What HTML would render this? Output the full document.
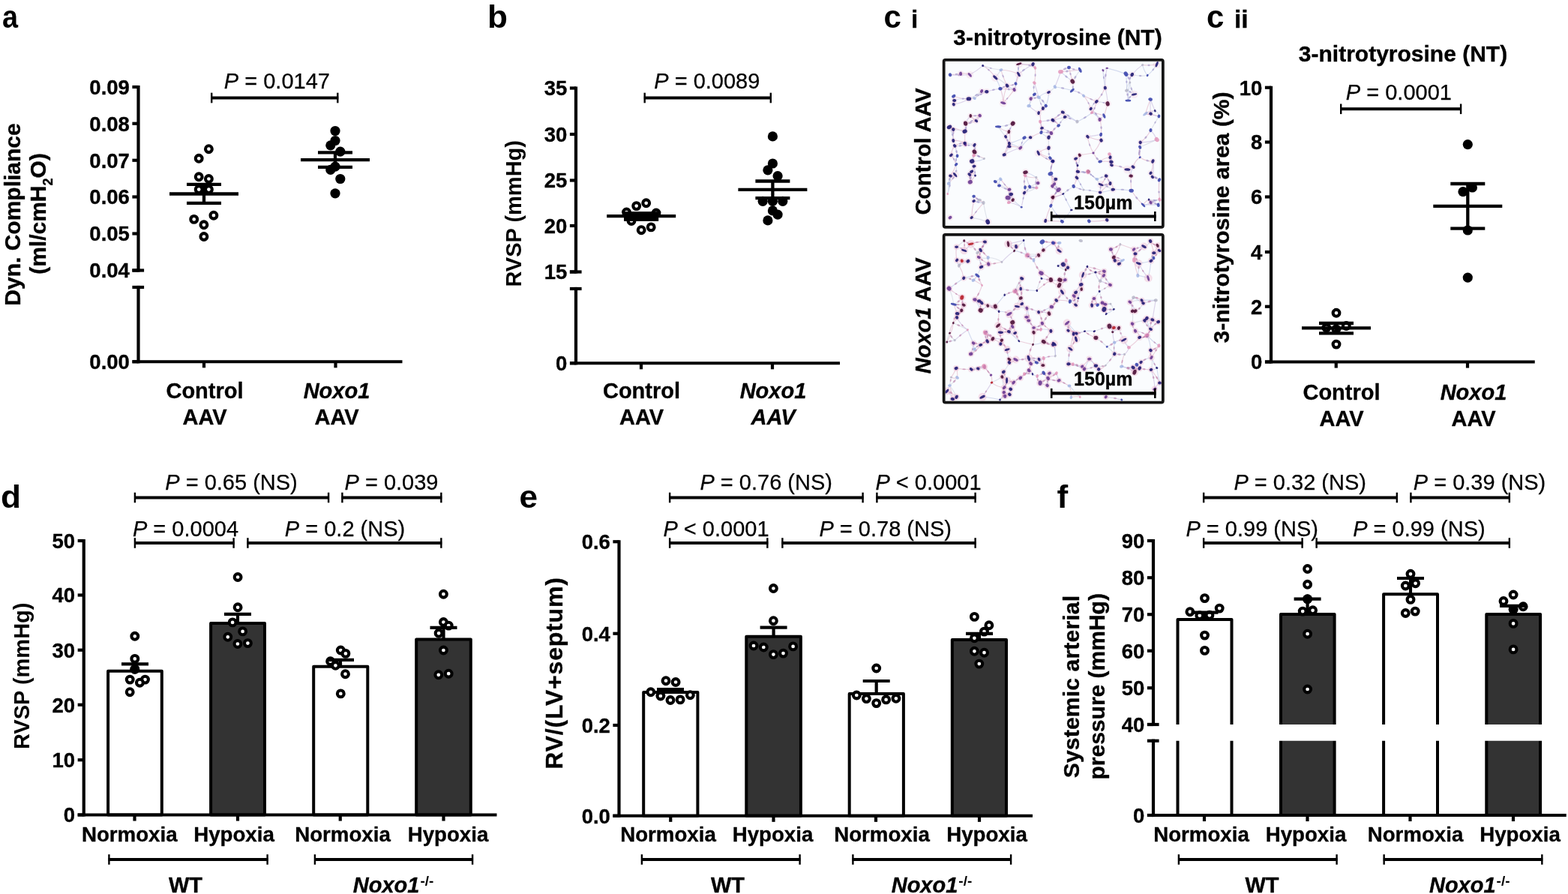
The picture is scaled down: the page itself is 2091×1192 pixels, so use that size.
<!DOCTYPE html>
<html lang="en">
<head>
<meta charset="utf-8">
<title>Figure</title>
<style>
html,body{margin:0;padding:0;background:#fff;}
body{width:2091px;height:1192px;overflow:hidden;}
svg{display:block;font-family:'Liberation Sans', sans-serif;}
text{fill:#000;}
.b{stroke:#000;stroke-width:0.35px;stroke-linejoin:round;}
.r{stroke:#000;stroke-width:0.25px;}
</style>
</head>
<body>
<svg width="2091" height="1192" viewBox="0 0 2091 1192">
<rect x="0" y="0" width="2091" height="1192" fill="#fff"/>
<text transform="translate(3 37) scale(0.9 1)" font-size="42" font-weight="bold" text-anchor="start">a</text>
<text transform="translate(650 37) scale(1.05 1)" font-size="42" font-weight="bold" text-anchor="start">b</text>
<text transform="translate(1178.5 37) scale(1 1)" font-size="42" font-weight="bold" text-anchor="start">c</text>
<text class="b" x="1215" y="37" font-size="33.5" font-weight="bold" text-anchor="start">i</text>
<text transform="translate(1609 37) scale(1 1)" font-size="42" font-weight="bold" text-anchor="start">c</text>
<text class="b" x="1646" y="37" font-size="33.5" font-weight="bold" text-anchor="start">ii</text>
<text transform="translate(1 676.5) scale(1.05 1)" font-size="42" font-weight="bold" text-anchor="start">d</text>
<text transform="translate(692.5 676.5) scale(1.05 1)" font-size="42" font-weight="bold" text-anchor="start">e</text>
<text transform="translate(1409.5 676.5) scale(1.05 1)" font-size="42" font-weight="bold" text-anchor="start">f</text>
<line x1="184.5" y1="113.9" x2="184.5" y2="362.6" stroke="#000" stroke-width="4.2" stroke-linecap="butt"/>
<line x1="184.5" y1="380.9" x2="184.5" y2="484.35" stroke="#000" stroke-width="4.2" stroke-linecap="butt"/>
<line x1="176.4" y1="360.5" x2="192.1" y2="360.5" stroke="#000" stroke-width="4.2" stroke-linecap="butt"/>
<line x1="176.4" y1="383" x2="192.1" y2="383" stroke="#000" stroke-width="4.2" stroke-linecap="butt"/>
<line x1="176.4" y1="116" x2="184.5" y2="116" stroke="#000" stroke-width="4.2" stroke-linecap="butt"/>
<text x="172.9" y="125.84" font-size="27.5" font-weight="bold" font-style="normal" text-anchor="end" class="b">0.09</text>
<line x1="176.4" y1="164.75" x2="184.5" y2="164.75" stroke="#000" stroke-width="4.2" stroke-linecap="butt"/>
<text x="172.9" y="174.59" font-size="27.5" font-weight="bold" font-style="normal" text-anchor="end" class="b">0.08</text>
<line x1="176.4" y1="213.75" x2="184.5" y2="213.75" stroke="#000" stroke-width="4.2" stroke-linecap="butt"/>
<text x="172.9" y="223.59" font-size="27.5" font-weight="bold" font-style="normal" text-anchor="end" class="b">0.07</text>
<line x1="176.4" y1="262.5" x2="184.5" y2="262.5" stroke="#000" stroke-width="4.2" stroke-linecap="butt"/>
<text x="172.9" y="272.35" font-size="27.5" font-weight="bold" font-style="normal" text-anchor="end" class="b">0.06</text>
<line x1="176.4" y1="311.5" x2="184.5" y2="311.5" stroke="#000" stroke-width="4.2" stroke-linecap="butt"/>
<text x="172.9" y="321.35" font-size="27.5" font-weight="bold" font-style="normal" text-anchor="end" class="b">0.05</text>
<line x1="176.4" y1="360.5" x2="184.5" y2="360.5" stroke="#000" stroke-width="4.2" stroke-linecap="butt"/>
<text x="172.9" y="370.35" font-size="27.5" font-weight="bold" font-style="normal" text-anchor="end" class="b">0.04</text>
<line x1="176.4" y1="482.25" x2="184.5" y2="482.25" stroke="#000" stroke-width="4.2" stroke-linecap="butt"/>
<text x="172.9" y="492.1" font-size="27.5" font-weight="bold" font-style="normal" text-anchor="end" class="b">0.00</text>
<line x1="176.5" y1="482.25" x2="536.5" y2="482.25" stroke="#000" stroke-width="4.2" stroke-linecap="butt"/>
<line x1="272" y1="482.25" x2="272" y2="490.35" stroke="#000" stroke-width="4.2" stroke-linecap="butt"/>
<line x1="447.5" y1="482.25" x2="447.5" y2="490.35" stroke="#000" stroke-width="4.2" stroke-linecap="butt"/>
<text x="26.5" y="286" font-size="30" font-weight="bold" font-style="normal" text-anchor="middle" transform="rotate(-90 26.5 286)" class="b">Dyn. Compliance</text>
<text class="b" x="60.5" y="285" font-size="30" font-weight="bold" text-anchor="middle" transform="rotate(-90 60.5 285)">(ml/cmH<tspan font-size="18" dy="9">2</tspan><tspan dy="-9">O)</tspan></text>
<text x="273" y="531" font-size="29" font-weight="bold" font-style="normal" text-anchor="middle" class="b">Control</text>
<text x="273" y="566" font-size="29" font-weight="bold" font-style="normal" text-anchor="middle" class="b">AAV</text>
<text x="449" y="531" font-size="29" font-weight="bold" font-style="italic" text-anchor="middle" class="b">Noxo1</text>
<text x="449" y="566" font-size="29" font-weight="bold" font-style="normal" text-anchor="middle" class="b">AAV</text>
<circle cx="278.4" cy="198.7" r="4.4" fill="#fff" stroke="#000" stroke-width="4.1"/>
<circle cx="265.2" cy="211.3" r="4.4" fill="#fff" stroke="#000" stroke-width="4.1"/>
<circle cx="265.2" cy="235.8" r="4.4" fill="#fff" stroke="#000" stroke-width="4.1"/>
<circle cx="278.4" cy="238.5" r="4.4" fill="#fff" stroke="#000" stroke-width="4.1"/>
<circle cx="265.2" cy="252.6" r="4.4" fill="#fff" stroke="#000" stroke-width="4.1"/>
<circle cx="278.4" cy="252.6" r="4.4" fill="#fff" stroke="#000" stroke-width="4.1"/>
<circle cx="284.9" cy="287.2" r="4.4" fill="#fff" stroke="#000" stroke-width="4.1"/>
<circle cx="258.7" cy="292.4" r="4.4" fill="#fff" stroke="#000" stroke-width="4.1"/>
<circle cx="271.9" cy="299.8" r="4.4" fill="#fff" stroke="#000" stroke-width="4.1"/>
<circle cx="271.9" cy="315.5" r="4.4" fill="#fff" stroke="#000" stroke-width="4.1"/>
<line x1="226" y1="258.5" x2="318" y2="258.5" stroke="#000" stroke-width="4.3" stroke-linecap="butt"/>
<line x1="249" y1="245.9" x2="295" y2="245.9" stroke="#000" stroke-width="4.3" stroke-linecap="butt"/>
<line x1="249" y1="270.8" x2="295" y2="270.8" stroke="#000" stroke-width="4.3" stroke-linecap="butt"/>
<line x1="272" y1="245.9" x2="272" y2="270.8" stroke="#000" stroke-width="4.3" stroke-linecap="butt"/>
<line x1="401" y1="213.1" x2="493" y2="213.1" stroke="#000" stroke-width="4.3" stroke-linecap="butt"/>
<line x1="424" y1="203.3" x2="470" y2="203.3" stroke="#000" stroke-width="4.3" stroke-linecap="butt"/>
<line x1="424" y1="222.8" x2="470" y2="222.8" stroke="#000" stroke-width="4.3" stroke-linecap="butt"/>
<line x1="447" y1="203.3" x2="447" y2="222.8" stroke="#000" stroke-width="4.3" stroke-linecap="butt"/>
<circle cx="447" cy="174.5" r="6.6" fill="#000"/>
<circle cx="447" cy="187.5" r="6.6" fill="#000"/>
<circle cx="440.8" cy="193.8" r="6.6" fill="#000"/>
<circle cx="453.8" cy="202.2" r="6.6" fill="#000"/>
<circle cx="447" cy="222.2" r="6.6" fill="#000"/>
<circle cx="440.8" cy="226.4" r="6.6" fill="#000"/>
<circle cx="453.8" cy="238.5" r="6.6" fill="#000"/>
<circle cx="447" cy="257.8" r="6.6" fill="#000"/>
<line x1="281.3" y1="130.5" x2="451.2" y2="130.5" stroke="#000" stroke-width="4" stroke-linecap="butt"/>
<line x1="282.2" y1="123.7" x2="282.2" y2="137.3" stroke="#000" stroke-width="2.4" stroke-linecap="butt"/>
<line x1="450.3" y1="123.7" x2="450.3" y2="137.3" stroke="#000" stroke-width="2.4" stroke-linecap="butt"/>
<text class="r" x="369.4" y="117.5" font-size="29" font-weight="normal" text-anchor="middle" xml:space="preserve"><tspan font-style="italic">P</tspan> = 0.0147</text>
<line x1="768" y1="115.4" x2="768" y2="364.6" stroke="#000" stroke-width="4.2" stroke-linecap="butt"/>
<line x1="768" y1="382.9" x2="768" y2="486.35" stroke="#000" stroke-width="4.2" stroke-linecap="butt"/>
<line x1="759.9" y1="362.5" x2="775.6" y2="362.5" stroke="#000" stroke-width="4.2" stroke-linecap="butt"/>
<line x1="759.9" y1="385" x2="775.6" y2="385" stroke="#000" stroke-width="4.2" stroke-linecap="butt"/>
<line x1="759.9" y1="117.5" x2="768" y2="117.5" stroke="#000" stroke-width="4.2" stroke-linecap="butt"/>
<text x="756.4" y="127.34" font-size="27.5" font-weight="bold" font-style="normal" text-anchor="end" class="b">35</text>
<line x1="759.9" y1="179" x2="768" y2="179" stroke="#000" stroke-width="4.2" stroke-linecap="butt"/>
<text x="756.4" y="188.84" font-size="27.5" font-weight="bold" font-style="normal" text-anchor="end" class="b">30</text>
<line x1="759.9" y1="240.5" x2="768" y2="240.5" stroke="#000" stroke-width="4.2" stroke-linecap="butt"/>
<text x="756.4" y="250.34" font-size="27.5" font-weight="bold" font-style="normal" text-anchor="end" class="b">25</text>
<line x1="759.9" y1="301" x2="768" y2="301" stroke="#000" stroke-width="4.2" stroke-linecap="butt"/>
<text x="756.4" y="310.85" font-size="27.5" font-weight="bold" font-style="normal" text-anchor="end" class="b">20</text>
<line x1="759.9" y1="362.5" x2="768" y2="362.5" stroke="#000" stroke-width="4.2" stroke-linecap="butt"/>
<text x="756.4" y="372.35" font-size="27.5" font-weight="bold" font-style="normal" text-anchor="end" class="b">15</text>
<line x1="759.9" y1="484.25" x2="768" y2="484.25" stroke="#000" stroke-width="4.2" stroke-linecap="butt"/>
<text x="756.4" y="494.1" font-size="27.5" font-weight="bold" font-style="normal" text-anchor="end" class="b">0</text>
<line x1="760" y1="484.25" x2="1120" y2="484.25" stroke="#000" stroke-width="4.2" stroke-linecap="butt"/>
<line x1="855" y1="484.25" x2="855" y2="492.35" stroke="#000" stroke-width="4.2" stroke-linecap="butt"/>
<line x1="1030" y1="484.25" x2="1030" y2="492.35" stroke="#000" stroke-width="4.2" stroke-linecap="butt"/>
<text x="695.3" y="284.8" font-size="29" font-weight="bold" font-style="normal" text-anchor="middle" transform="rotate(-90 695.3 284.8)" class="n">RVSP (mmHg)</text>
<text x="855.5" y="531" font-size="29" font-weight="bold" font-style="normal" text-anchor="middle" class="b">Control</text>
<text x="855.5" y="566" font-size="29" font-weight="bold" font-style="normal" text-anchor="middle" class="b">AAV</text>
<text x="1031" y="531" font-size="29" font-weight="bold" font-style="italic" text-anchor="middle" class="b">Noxo1</text>
<text x="1031" y="566" font-size="29" font-weight="bold" font-style="italic" text-anchor="middle" class="b">AAV</text>
<circle cx="861.7" cy="270.8" r="4.4" fill="#fff" stroke="#000" stroke-width="4.1"/>
<circle cx="848.7" cy="274.6" r="4.4" fill="#fff" stroke="#000" stroke-width="4.1"/>
<circle cx="835.5" cy="283" r="4.4" fill="#fff" stroke="#000" stroke-width="4.1"/>
<circle cx="875" cy="284" r="4.4" fill="#fff" stroke="#000" stroke-width="4.1"/>
<circle cx="842" cy="294.5" r="4.4" fill="#fff" stroke="#000" stroke-width="4.1"/>
<circle cx="868.2" cy="302.9" r="4.4" fill="#fff" stroke="#000" stroke-width="4.1"/>
<circle cx="855.2" cy="306.7" r="4.4" fill="#fff" stroke="#000" stroke-width="4.1"/>
<line x1="809.2" y1="288.2" x2="901.2" y2="288.2" stroke="#000" stroke-width="4.3" stroke-linecap="butt"/>
<line x1="832.2" y1="284.5" x2="878.2" y2="284.5" stroke="#000" stroke-width="4.3" stroke-linecap="butt"/>
<line x1="832.2" y1="292.5" x2="878.2" y2="292.5" stroke="#000" stroke-width="4.3" stroke-linecap="butt"/>
<line x1="855.2" y1="284.5" x2="855.2" y2="292.5" stroke="#000" stroke-width="4.3" stroke-linecap="butt"/>
<rect x="832" y="282.5" width="46" height="12" fill="#000"/>
<line x1="984.4" y1="252.8" x2="1076.4" y2="252.8" stroke="#000" stroke-width="4.3" stroke-linecap="butt"/>
<line x1="1007.4" y1="241.5" x2="1053.4" y2="241.5" stroke="#000" stroke-width="4.3" stroke-linecap="butt"/>
<line x1="1007.4" y1="264.1" x2="1053.4" y2="264.1" stroke="#000" stroke-width="4.3" stroke-linecap="butt"/>
<line x1="1030.4" y1="241.5" x2="1030.4" y2="264.1" stroke="#000" stroke-width="4.3" stroke-linecap="butt"/>
<circle cx="1030.4" cy="181.9" r="6.6" fill="#000"/>
<circle cx="1030.4" cy="218" r="6.6" fill="#000"/>
<circle cx="1023.9" cy="226.8" r="6.6" fill="#000"/>
<circle cx="1037.1" cy="234.7" r="6.6" fill="#000"/>
<circle cx="1017.2" cy="268.3" r="6.6" fill="#000"/>
<circle cx="1030.4" cy="268.3" r="6.6" fill="#000"/>
<circle cx="1043.8" cy="268.3" r="6.6" fill="#000"/>
<circle cx="1030.4" cy="280.9" r="6.6" fill="#000"/>
<circle cx="1037.1" cy="286.1" r="6.6" fill="#000"/>
<circle cx="1023.9" cy="293.9" r="6.6" fill="#000"/>
<line x1="858.8" y1="130.5" x2="1028.7" y2="130.5" stroke="#000" stroke-width="4" stroke-linecap="butt"/>
<line x1="859.7" y1="123.7" x2="859.7" y2="137.3" stroke="#000" stroke-width="2.4" stroke-linecap="butt"/>
<line x1="1027.8" y1="123.7" x2="1027.8" y2="137.3" stroke="#000" stroke-width="2.4" stroke-linecap="butt"/>
<text class="r" x="942.8" y="117.5" font-size="29" font-weight="normal" text-anchor="middle" xml:space="preserve"><tspan font-style="italic">P</tspan> = 0.0089</text>
<text x="1410.5" y="60" font-size="30" font-weight="bold" font-style="normal" text-anchor="middle" class="b">3-nitrotyrosine (NT)</text>
<text x="1241.3" y="202" font-size="29" font-weight="bold" font-style="normal" text-anchor="middle" transform="rotate(-90 1241.3 202)" class="b">Control AAV</text>
<text class="b" x="1241.3" y="420.8" font-size="29" font-weight="bold" text-anchor="middle" transform="rotate(-90 1241.3 420.8)"><tspan font-style="italic">Noxo1</tspan> AAV</text>
<defs><filter id="hb" x="-5%" y="-5%" width="110%" height="110%"><feGaussianBlur stdDeviation="0.45"/></filter></defs>
<clipPath id="hc1"><rect x="1260.55" y="81.8" width="288.4" height="219.15"/></clipPath>
<rect x="1259.55" y="80.8" width="290.4" height="221.15" fill="#fafcfe"/>
<g clip-path="url(#hc1)" filter="url(#hb)">
<path d="M1267 99.8Q1273.8 99.3 1281.1 98.3M1281.1 98.3Q1288.2 96.8 1293.3 99.8M1334.9 93.3Q1338.5 105.5 1343.1 114.2M1334.9 93.3Q1348.8 93.9 1358.4 99M1358.4 99Q1356.5 106.9 1352.6 119.6M1377.5 85.7Q1377.3 88.3 1380.4 90.4M1377.5 85.7Q1370.6 86.8 1358.8 85.2M1354.5 111.5Q1349.3 114.5 1343.1 114.2M1343.1 114.2Q1339 115.5 1334 118.2M1271.8 128.2Q1270.4 130.4 1272.7 134M1271.8 128.2Q1282.3 132.1 1291.9 131.8M1291.9 131.8Q1297.8 130.7 1299.5 131.1M1337.8 137.3Q1345.6 129.1 1352.6 119.6M1337.8 137.3Q1338.5 124.5 1343.1 114.2M1374.6 131.6Q1377.5 131.1 1385.1 129.7M1266 169.4Q1266.8 169.7 1271.3 172.7M1266 169.4Q1274 171.4 1286.6 175.1M1286.6 175.1Q1286.7 183.9 1286.6 190.9M1345.4 175.6Q1343.5 176.6 1341.1 182.3M1341.1 182.3Q1341.4 187 1345.9 191.4M1374.1 183.2Q1380 179.9 1388.5 176.5M1286.6 190.9Q1279 190.6 1273.2 194.4M1380.4 90.4Q1381.3 102.1 1379.4 110.5M1414.5 95.7Q1417.8 92 1425.5 90M1425.5 90Q1427.9 100.6 1430.3 108.6M1445.1 127.7Q1451.5 130.6 1462.3 135.4M1445.1 127.7Q1451.9 136 1454.7 145M1534.1 132.5Q1531 140.5 1527.4 151.7M1477.1 138.3Q1474.4 147.5 1472.4 154.5M1454.7 145Q1455.5 148.9 1456.1 150.2M1417.3 149.7Q1420.3 154.5 1420.2 156M1404 160.3Q1409 161.4 1411.6 167.4M1472.4 154.5Q1462.8 150.6 1456.1 150.2M1527.4 151.7Q1532.5 147.3 1540.3 147.8M1527.4 151.7Q1536.2 152.1 1545.5 155M1468.1 179.4Q1466.8 184.1 1468.5 187.1M1468.1 179.4Q1469.7 168.4 1466.6 159.3M1450.4 182.3Q1451.7 192.5 1458 204M1295.7 228.8Q1298.9 232.7 1300.5 234.1M1292.8 232.7Q1293.1 235.9 1293.8 242.7M1267.5 234.6Q1272.6 226.8 1275.1 219.3M1273.7 233.1Q1271.2 238.4 1265.1 244.6M1312.4 211.6Q1307.4 208.2 1298.6 207.3M1360.8 197.3Q1351 194.7 1345.9 195.3M1384.7 204Q1390.3 199.6 1398.5 197.3M1384.7 204Q1391.6 207.3 1400.5 210.7M1403.8 215Q1406.2 216.4 1404 215M1367 234.1Q1372.3 237.7 1381.8 236.5M1384.2 244.1Q1385 239.4 1381.8 236.5M1327.3 242.2Q1331.3 246.2 1332.5 247.5M1295.7 290.1Q1302.6 280.8 1311.5 270.4M1434.6 211.6Q1438.8 211.2 1439.8 206.8M1434.6 211.6Q1436.6 219.8 1437.4 228.8M1439.8 206.8Q1447.8 205.4 1458 204M1436 237Q1435.5 229.9 1437 220.7M1411.6 253.2Q1413 257.7 1417.8 258.5M1404.4 263.3Q1406.8 258.3 1411.6 253.2M1417.8 258.5Q1412.5 261 1403.8 262.8M1467.1 215.4Q1472.1 210.4 1480.5 209.7M1467.1 215.4Q1476.2 214.6 1481.9 215.9M1481.9 215.9Q1480.1 216.5 1482.4 220.2M1475.2 234.6Q1479.3 242.1 1480.5 244.6M1468.1 246.1Q1473 247.5 1480.5 244.6M1480.5 244.6Q1484.8 246.7 1484.3 252.7M1520.2 196.3Q1517.7 203 1520.2 209.7M1520.2 209.7Q1526.8 214.8 1537.4 215M1511.1 222.6Q1507.4 221.8 1503.4 226M1503.4 226Q1495.1 221.2 1482.4 220.2M1536.9 236Q1543.3 236.1 1546 239.8M1532.1 266.1Q1531.9 267 1534.5 270" fill="none" stroke="#e2b6c8" stroke-width="1.15" stroke-opacity=".6"/>
<path d="M1267 99.8Q1280 100.4 1293.3 99.8M1293.3 99.8Q1302.8 94.3 1310.7 87.6M1358.4 99Q1355.9 103.1 1354.5 111.5M1377.5 85.7Q1366 92 1358.4 99M1358.8 85.2Q1372.1 85.4 1380.4 90.4M1334 118.2Q1326.5 118.9 1315.8 122.2M1315.8 122.2Q1305.5 126.2 1299.5 131.1M1271.8 139.2Q1283 137.5 1291.9 131.8M1372.2 141.1Q1376.8 145.8 1385.1 150.7M1394.7 141.1Q1391.6 144.6 1385.1 150.7M1294.3 154.5Q1289.4 159.4 1287.6 164.6M1306.7 154.1Q1304.4 158.2 1301.9 161.2M1287.6 164.6Q1289.3 169.7 1286.6 175.1M1350.7 164.6Q1348.6 169.1 1345.4 175.6M1350.7 164.6Q1346 173.8 1341.1 182.3M1341.1 182.3Q1345 188.3 1345.9 195.3M1389.5 170.8Q1387.8 166.6 1387.1 162.2M1389.5 170.8Q1397.5 174.3 1401.9 177.5M1388.5 176.5Q1394.3 176.1 1401.9 177.5M1403.3 159.8Q1397.2 160.9 1387.1 162.2M1379.4 110.5Q1381.9 118.5 1385.1 129.7M1414.5 95.7Q1410.1 108.2 1406.8 115.8M1429.8 120.6Q1438.7 121.8 1445.1 127.7M1473.8 117.2Q1477 129.8 1477.1 138.3M1476.2 90.9Q1473.2 103 1473.8 117.2M1501.5 98.6Q1506.7 100 1509.7 99.5M1501.5 98.6Q1505.4 102.8 1506.8 110M1509.7 99.5Q1506.1 102.7 1506.8 110M1509.7 99.5Q1515.2 92.3 1523.5 86.6M1502.5 120.6Q1503.9 126.2 1504.4 134M1534.1 132.5Q1536.7 139.6 1540.3 147.8M1534.1 132.5Q1533.6 141.5 1534.5 151.7M1454.7 145Q1462.2 151.3 1466.6 159.3M1417.3 149.7Q1409.9 154.4 1403.3 159.8M1420.2 156Q1410.2 158.9 1404 160.3M1436.5 162.2Q1426 157.1 1420.2 156M1472.4 154.5Q1470.8 154.9 1466.6 159.3M1534.5 151.7Q1542.1 154.9 1545.5 155M1534.5 173.7Q1539 178.3 1542.7 186.1M1468.1 179.4Q1459.4 181 1450.4 182.3M1542.7 186.1Q1534.1 189.5 1520.7 189.9M1273.2 194.4Q1275.4 199 1276.6 207.8M1299.5 202.5Q1298.8 205.2 1298.6 207.3M1298.6 207.3Q1298.3 200.4 1299.5 193.4M1296.2 215Q1299.6 217.5 1299 221.7M1299 221.7Q1300.1 229.5 1300.5 234.1M1295.7 228.8Q1295.7 232.9 1292.8 232.7M1292.8 232.7Q1297.4 234.7 1300.5 234.1M1267.5 234.6Q1268.3 234.7 1273.7 233.1M1339.2 206.3Q1342.2 202.4 1345.9 195.3M1339.2 206.3Q1352.2 199.3 1360.8 197.3M1400.5 210.7Q1401.1 212.4 1404 215M1403.8 215Q1401 222.4 1400.9 231.7M1367.5 229.8Q1368.7 238 1373.2 248.9M1400.9 231.7Q1402.3 234.2 1407.8 238.9M1382.3 250.4Q1377.9 250.1 1373.2 248.9M1382.3 250.4Q1380.8 244.5 1381.8 236.5M1367 249.9Q1368.4 251.9 1366 257.1M1332.5 247.5Q1340.2 252.4 1345.9 252.7M1348.3 259Q1351.7 264.9 1350.7 266.6M1350.7 266.6Q1346.5 270.1 1345.4 270M1298.6 261.8Q1302.3 264.9 1306.2 266.6M1362.2 276.2Q1354.6 271.3 1345.4 270M1362.2 276.2Q1364.3 266.4 1366 257.1M1403.3 248.4Q1403.2 249.1 1405.9 245.6M1403.3 248.4Q1405.8 251.7 1411.6 253.2M1439.8 206.8Q1440.7 213.2 1437 220.7M1437 220.7Q1435.4 223.2 1437.4 228.8M1431.7 248.4Q1440.7 252.5 1445.1 253.2M1417.8 258.5Q1409.5 262.7 1404.4 263.3M1451.3 228.8Q1446.6 231.2 1437.4 228.8M1451.3 228.8Q1456.5 234.8 1462.8 238.9M1479.5 205.4Q1481.7 210.9 1481.9 215.9M1479.5 205.4Q1482.9 212.5 1482.4 220.2M1480.5 209.7Q1481.8 211.7 1481.9 215.9M1468.1 246.1Q1467.6 248.9 1467.1 256.6M1537.4 215Q1539.4 224.6 1536.9 236M1524.5 273.3Q1529.8 273.7 1534.5 270M1534.5 270Q1539.7 270.7 1544.6 273.3M1544.6 273.3Q1536.9 268.3 1532.1 266.1" fill="none" stroke="#c8b9de" stroke-width="1.15" stroke-opacity=".6"/>
<path d="M1310.7 87.6Q1320.7 93.3 1327.3 103.4M1352.6 119.6Q1342.7 118.8 1334 118.2M1272.7 134Q1273.3 138.9 1271.8 139.2M1337.8 137.3Q1337.7 127.3 1334 118.2M1379.4 125.8Q1383.1 127.7 1385.1 129.7M1390.9 144.5Q1385.7 149.5 1385.1 150.7M1385.1 150.7Q1388.5 154.5 1387.1 162.2M1294.3 154.5Q1298.9 159.4 1301.9 161.2M1294.3 154.5Q1301.8 154.5 1306.7 154.1M1306.7 154.1Q1298.6 161.3 1287.6 164.6M1301.9 161.2Q1293.2 164.8 1287.6 164.6M1271.3 172.7Q1271.2 177.8 1271.3 187.5M1331.1 168.9Q1338.2 174.5 1345.4 175.6M1345.4 175.6Q1348.1 181.6 1345.9 191.4M1389.5 170.8Q1390 175.6 1388.5 176.5M1401.9 177.5Q1404.9 172 1411.6 167.4M1403.3 159.8Q1408.4 162.1 1411.6 167.4M1387.1 162.2Q1389.9 167.3 1388.5 176.5M1271.3 187.5Q1279.5 186.8 1286.6 190.9M1345.9 191.4Q1347.2 192.3 1345.9 195.3M1425.5 90Q1434.2 94 1440.3 93.3M1440.3 93.3Q1425.3 95 1414.5 95.7M1473.8 117.2Q1469.6 126.8 1462.3 135.4M1462.3 135.4Q1460.4 144.8 1456.1 150.2M1417.3 149.7Q1411.4 155.1 1404 160.3M1527.4 151.7Q1532.4 153 1534.5 151.7M1534.5 173.7Q1529.3 183.4 1520.7 189.9M1468.5 187.1Q1458.7 185.6 1450.4 182.3M1468.5 187.1Q1464.1 196.7 1458 204M1520.7 189.9Q1519.2 198.3 1520.2 209.7M1542.7 85.7Q1532.3 87.8 1523.5 86.6M1273.2 194.4Q1269.2 199.1 1268.4 206.8M1268.4 206.8Q1272.4 211.5 1275.1 219.3M1300.5 234.1Q1295.9 240.6 1293.8 242.7M1293.8 242.7Q1294.8 235.4 1295.7 228.8M1339.2 206.3Q1342.2 197 1345.9 191.4M1384.7 204Q1392.8 211.3 1403.8 215M1367 234.1Q1364.8 244 1367 249.9M1400.9 231.7Q1405.4 241.1 1405.9 245.6M1400.9 231.7Q1404.2 240.5 1403.3 248.4M1367 249.9Q1368.9 247.9 1373.2 248.9M1334.4 238.9Q1340 247 1345.9 252.7M1345.9 252.7Q1347.4 255.7 1348.3 259M1344 263.7Q1344.2 267.6 1345.4 270M1298.6 261.8Q1303.6 265.6 1311.5 270.4M1306.2 266.6Q1307 267.2 1311.5 270.4M1295.7 290.1Q1296.2 278.5 1298.6 268.1M1394.2 294.4Q1397.1 282.9 1401.4 274.3M1394.2 294.4Q1406.6 294.8 1416.4 295.3M1401.4 274.3Q1405.3 267.8 1404.4 263.3M1401.4 274.3Q1401.2 269.5 1403.8 262.8M1403.8 262.8Q1407.3 257.5 1411.6 253.2M1404 215Q1401.6 222.1 1400.9 231.7M1434.6 211.6Q1435 218.1 1437 220.7M1436 237Q1435.3 241.5 1431.7 248.4M1407.8 238.9Q1408.9 243.4 1405.9 245.6M1458 204Q1461.5 210.9 1467.1 215.4M1475.2 234.6Q1473.2 240.7 1468.1 246.1M1467.1 256.6Q1473.5 249.7 1480.5 244.6M1520.2 209.7Q1513.3 214.5 1511.1 222.6M1537.4 215Q1537.9 224.4 1534.5 230.7M1508.2 234.6Q1507.8 244.6 1508.7 254.2M1546 239.8Q1544.5 251.1 1546.5 266.1M1508.7 254.2Q1515.5 264.5 1524.5 273.3M1524.5 273.3Q1526.2 269.7 1532.1 266.1M1452.3 294.8Q1462.3 296 1476.2 293.4" fill="none" stroke="#dcaec6" stroke-width="1.15" stroke-opacity=".6"/>
<path d="M1310.7 87.6Q1322.5 92.1 1334.9 93.3M1327.3 103.4Q1331.9 97.9 1334.9 93.3M1327.3 103.4Q1335.2 106.4 1343.1 114.2M1309.1 121.5Q1306.3 126.3 1299.5 131.1M1309.1 121.5Q1300.8 128.4 1291.9 131.8M1271.8 128.2Q1272.6 134.7 1271.8 139.2M1374.6 131.6Q1376.5 129.9 1379.4 125.8M1374.6 131.6Q1373.2 136.6 1372.2 141.1M1379.4 125.8Q1377.6 118.7 1379.4 110.5M1398.5 123Q1404.6 118.8 1406.8 115.8M1390.9 144.5Q1386.9 136.3 1385.1 129.7M1271.3 172.7Q1281 173.8 1286.6 175.1M1331.1 168.9Q1335.8 175.9 1341.1 182.3M1331.1 168.9Q1341 168.4 1350.7 164.6M1398.5 183.2Q1398.2 192.5 1398.5 197.3M1286.6 190.9Q1291.5 190.5 1299.5 193.4M1440.3 93.3Q1435.5 100.5 1430.3 108.6M1430.3 108.6Q1431.8 114.8 1429.8 120.6M1470.9 93.8Q1474 91.9 1476.2 90.9M1506.8 110Q1502.5 113.4 1502.5 120.6M1512.5 125.8Q1506.4 127.8 1504.4 134M1512.5 125.8Q1507.2 117 1506.8 110M1530.2 100.5Q1519.5 102.2 1509.7 99.5M1462.3 135.4Q1457.4 137.8 1454.7 145M1462.3 135.4Q1471.4 136.4 1477.1 138.3M1420.2 156Q1415 161.2 1411.6 167.4M1540.3 147.8Q1545.4 150.3 1545.5 155M1534.5 173.7Q1541 162.3 1545.5 155M1542.7 186.1Q1529.7 191.8 1520.2 196.3M1520.7 189.9Q1522.7 194.4 1520.2 196.3M1287.1 192.5Q1292.5 194.6 1299.5 193.4M1287.1 192.5Q1280.1 195.5 1273.2 194.4M1299.5 193.4Q1301 198.8 1299.5 202.5M1299.5 202.5Q1299.3 210.4 1296.2 215M1268.4 206.8Q1273.5 209.5 1276.6 207.8M1275.1 219.3Q1276.4 226.4 1273.7 233.1M1312.4 211.6Q1304 209.1 1299.5 202.5M1398.5 197.3Q1397.9 205.9 1400.5 210.7M1367.5 229.8Q1366.1 233.5 1367 234.1M1384.2 244.1Q1383.2 245.6 1382.3 250.4M1384.2 244.1Q1378.8 246.6 1373.2 248.9M1367 249.9Q1375.2 251.6 1382.3 250.4M1373.2 248.9Q1371.6 253.3 1366 257.1M1366 257.1Q1373.8 254.7 1382.3 250.4M1327.3 242.2Q1336.6 248.3 1345.9 252.7M1345.9 252.7Q1345.9 259.3 1344 263.7M1344 263.7Q1347.7 267.2 1350.7 266.6M1298.6 268.1Q1302.5 268.5 1306.2 266.6M1295.7 290.1Q1305.9 291.7 1317.2 295.8M1317.2 295.8Q1313.4 282.7 1311.5 270.4M1403.3 248.4Q1405.4 242.4 1407.8 238.9M1437.4 228.8Q1435.3 233 1436 237M1437.4 228.8Q1441.7 229.3 1450.8 229.3M1431.7 248.4Q1424.3 252.8 1417.8 258.5M1479.5 205.4Q1479.6 205.8 1480.5 209.7M1480.5 209.7Q1480 215.2 1482.4 220.2M1475.2 234.6Q1466.8 237 1462.8 238.9M1462.8 238.9Q1463.3 241.8 1468.1 246.1M1484.3 252.7Q1477.2 248.2 1468.1 246.1M1503.4 226Q1507.6 230.9 1508.2 234.6M1534.5 230.7Q1540.1 237.8 1546 239.8M1532.1 266.1Q1538.8 267.9 1546.5 266.1M1546.5 266.1Q1539.3 267.3 1534.5 270" fill="none" stroke="#cfd2e0" stroke-width="1.15" stroke-opacity=".6"/>
<path d="M1327.3 103.4Q1332.3 111.8 1334 118.2M1358.4 99Q1357.5 90 1358.8 85.2M1354.5 111.5Q1356 114.1 1352.6 119.6M1343.1 114.2Q1347.3 117.5 1352.6 119.6M1309.1 121.5Q1311.1 122.9 1315.8 122.2M1272.7 134Q1280.2 130.7 1291.9 131.8M1385.1 129.7Q1391.9 134.5 1394.7 141.1M1398.5 123Q1390.4 124.5 1385.1 129.7M1398.5 123Q1398.4 133.1 1394.7 141.1M1372.2 141.1Q1375.2 133.6 1379.4 125.8M1390.9 144.5Q1394.5 143.4 1394.7 141.1M1266 169.4Q1271.1 178.6 1271.3 187.5M1366 183.7Q1372.1 183.4 1374.1 183.2M1366 183.7Q1363 188.1 1360.8 197.3M1366 183.7Q1354.6 188.5 1345.9 191.4M1374.1 183.2Q1365.6 190.3 1360.8 197.3M1388.5 176.5Q1392.2 181.1 1398.5 183.2M1398.5 183.2Q1398.9 181.5 1401.9 177.5M1403.3 159.8Q1402.9 161.1 1404 160.3M1271.3 187.5Q1271.7 190.6 1273.2 194.4M1286.6 190.9Q1285.3 191.5 1287.1 192.5M1414.5 95.7Q1420.1 101 1430.3 108.6M1406.8 115.8Q1418.8 117.5 1429.8 120.6M1473.8 117.2Q1471.6 103.8 1470.9 93.8M1476.2 90.9Q1489.5 94 1501.5 98.6M1501.5 98.6Q1502.7 107.1 1502.5 120.6M1502.5 120.6Q1508.9 122.9 1512.5 125.8M1504.4 134Q1504.5 120.2 1506.8 110M1530.2 100.5Q1526 95.6 1523.5 86.6M1530.2 100.5Q1536.8 95.2 1542.7 85.7M1456.1 150.2Q1463.4 154.3 1466.6 159.3M1436.5 162.2Q1427 155.7 1417.3 149.7M1436.5 162.2Q1448.5 156.5 1456.1 150.2M1534.5 151.7Q1535.7 148 1540.3 147.8M1298.6 207.3Q1296.1 211.3 1296.2 215M1276.6 207.8Q1273.8 215.4 1275.1 219.3M1299 221.7Q1299 224.2 1295.7 228.8M1267.5 234.6Q1266.3 237.6 1265.1 244.6M1265.1 244.6Q1265.5 252 1263.7 258.5M1312.4 211.6Q1306.4 215.6 1296.2 215M1360.8 197.3Q1354.9 193.8 1345.9 191.4M1400.5 210.7Q1399.9 210.8 1403.8 215M1367.5 229.8Q1375.1 231.8 1381.8 236.5M1327.3 242.2Q1332.5 238.9 1334.4 238.9M1332.5 247.5Q1331.3 242.7 1334.4 238.9M1348.3 259Q1346 263.5 1344 263.7M1345.4 270Q1348.3 263 1348.3 259M1298.6 261.8Q1298.1 265.4 1298.6 268.1M1298.6 268.1Q1307.1 270.3 1311.5 270.4M1362.2 276.2Q1356.5 271.6 1350.7 266.6M1403.8 262.8Q1406 261.7 1404.4 263.3M1263.7 258.5Q1267.6 248.6 1267.5 234.6M1405.9 245.6Q1410.3 251.3 1411.6 253.2M1450.8 229.3Q1449.2 230.3 1451.3 228.8M1450.8 229.3Q1454.9 233.5 1462.8 238.9M1484.3 252.7Q1475.1 255.4 1467.1 256.6M1445.1 253.2Q1439.7 243.1 1436 237M1445.1 253.2Q1455.1 253.4 1467.1 256.6M1511.1 222.6Q1507.4 229.2 1508.2 234.6M1534.5 230.7Q1536.2 233.8 1536.9 236M1508.7 254.2Q1497.6 252.2 1484.3 252.7M1524.5 273.3Q1532.9 272.5 1544.6 273.3M1544.6 273.3Q1546.5 271.5 1546.5 266.1M1428.8 280Q1423.8 287 1416.4 295.3M1428.8 280Q1421.8 267.1 1417.8 258.5M1416.4 295.3Q1408.9 287 1401.4 274.3" fill="none" stroke="#bcc6e6" stroke-width="1.15" stroke-opacity=".6"/>
<g fill="#8d7fc0" fill-opacity=".5"><ellipse rx="1.7" ry="1.3" transform="translate(1275.4 99)rotate(-6)"/><ellipse rx="1.6" ry="1.3" transform="translate(1278.5 100.1)rotate(0)"/><ellipse rx="1.5" ry="1.1" transform="translate(1318.5 93.2)rotate(43)"/><ellipse rx="1.5" ry="0.9" transform="translate(1321.2 90.9)rotate(13)"/><ellipse rx="2" ry="1" transform="translate(1337.6 101.5)rotate(68)"/><ellipse rx="2.2" ry="1" transform="translate(1358 91.5)rotate(-88)"/><ellipse rx="2.3" ry="1.2" transform="translate(1364.9 93.6)rotate(145)"/><ellipse rx="2" ry="1" transform="translate(1373.1 87.2)rotate(13)"/><ellipse rx="2" ry="1" transform="translate(1350.5 113.3)rotate(166)"/><ellipse rx="2.2" ry="1" transform="translate(1338.5 116)rotate(156)"/><ellipse rx="1.9" ry="1.2" transform="translate(1325 119.7)rotate(167)"/><ellipse rx="1.5" ry="1.4" transform="translate(1345.2 119)rotate(-175)"/><ellipse rx="1.6" ry="1" transform="translate(1304.7 126.9)rotate(135)"/><ellipse rx="2.2" ry="1.3" transform="translate(1302.1 126.6)rotate(149)"/><ellipse rx="1.8" ry="1.2" transform="translate(1308.2 125.6)rotate(151)"/><ellipse rx="1.6" ry="1.2" transform="translate(1284.2 131.6)rotate(-6)"/><ellipse rx="1.6" ry="0.9" transform="translate(1343.2 131.3)rotate(-50)"/><ellipse rx="1.6" ry="1.3" transform="translate(1380.2 130.6)rotate(-10)"/><ellipse rx="2" ry="1.1" transform="translate(1378.6 116.6)rotate(-90)"/><ellipse rx="2.1" ry="1.4" transform="translate(1390.7 134.7)rotate(50)"/><ellipse rx="1.9" ry="0.9" transform="translate(1388.1 138.3)rotate(-111)"/><ellipse rx="1.8" ry="1.2" transform="translate(1300.3 154.4)rotate(-2)"/><ellipse rx="1.8" ry="1.1" transform="translate(1295.6 161.5)rotate(151)"/><ellipse rx="2.2" ry="1.3" transform="translate(1293.7 163.9)rotate(166)"/><ellipse rx="2.1" ry="1.4" transform="translate(1288 170.9)rotate(95)"/><ellipse rx="1.5" ry="1.2" transform="translate(1270.2 179.7)rotate(73)"/><ellipse rx="1.9" ry="1.2" transform="translate(1271.3 177)rotate(90)"/><ellipse rx="2.3" ry="1.3" transform="translate(1342 167.4)rotate(-12)"/><ellipse rx="1.5" ry="1.1" transform="translate(1347.1 171.6)rotate(118)"/><ellipse rx="1.8" ry="1.3" transform="translate(1343.7 187.1)rotate(69)"/><ellipse rx="1.5" ry="1" transform="translate(1362.7 190.5)rotate(111)"/><ellipse rx="2" ry="1.3" transform="translate(1397.9 174.9)rotate(28)"/><ellipse rx="2.2" ry="1" transform="translate(1396.8 176.7)rotate(4)"/><ellipse rx="1.8" ry="1.3" transform="translate(1406 172)rotate(-45)"/><ellipse rx="2.1" ry="1.2" transform="translate(1406.7 161.8)rotate(42)"/><ellipse rx="2.2" ry="1.4" transform="translate(1397.6 160.7)rotate(171)"/><ellipse rx="1.6" ry="0.9" transform="translate(1388.9 169.1)rotate(84)"/><ellipse rx="2" ry="1.1" transform="translate(1280.7 191.3)rotate(165)"/><ellipse rx="1.9" ry="1.1" transform="translate(1380.6 100.2)rotate(92)"/><ellipse rx="2.3" ry="1.4" transform="translate(1420.2 91.8)rotate(-27)"/><ellipse rx="2" ry="1.2" transform="translate(1422 102.2)rotate(39)"/><ellipse rx="1.7" ry="1.1" transform="translate(1431.8 92.4)rotate(12)"/><ellipse rx="1.7" ry="1.1" transform="translate(1427.5 98.6)rotate(75)"/><ellipse rx="2" ry="1.3" transform="translate(1433.9 103)rotate(123)"/><ellipse rx="1.8" ry="1.4" transform="translate(1423 95)rotate(174)"/><ellipse rx="1.8" ry="1.2" transform="translate(1430.8 116.3)rotate(92)"/><ellipse rx="2.2" ry="1.2" transform="translate(1417 117.5)rotate(11)"/><ellipse rx="1.8" ry="1.2" transform="translate(1438.7 123.3)rotate(25)"/><ellipse rx="2.3" ry="0.9" transform="translate(1455.2 132.3)rotate(23)"/><ellipse rx="1.5" ry="0.9" transform="translate(1451.6 137.5)rotate(60)"/><ellipse rx="1.6" ry="1.3" transform="translate(1469.1 126.1)rotate(122)"/><ellipse rx="1.9" ry="1" transform="translate(1471.9 103.5)rotate(-96)"/><ellipse rx="2.2" ry="1.3" transform="translate(1474.4 100.5)rotate(95)"/><ellipse rx="1.7" ry="1.2" transform="translate(1505 104.1)rotate(65)"/><ellipse rx="1.6" ry="1.2" transform="translate(1502.4 109.2)rotate(87)"/><ellipse rx="1.8" ry="1.1" transform="translate(1507.1 104.2)rotate(105)"/><ellipse rx="1.6" ry="1.3" transform="translate(1507.1 122.5)rotate(27)"/><ellipse rx="1.6" ry="1.3" transform="translate(1503.6 126.2)rotate(81)"/><ellipse rx="1.9" ry="1.3" transform="translate(1506.7 129.7)rotate(134)"/><ellipse rx="2.1" ry="1.2" transform="translate(1508.8 118.4)rotate(-109)"/><ellipse rx="1.7" ry="1.1" transform="translate(1537.8 92.7)rotate(-50)"/><ellipse rx="1.8" ry="1.1" transform="translate(1520.6 101.1)rotate(-177)"/><ellipse rx="1.7" ry="0.9" transform="translate(1458.7 138.1)rotate(128)"/><ellipse rx="1.6" ry="0.9" transform="translate(1471.8 136.9)rotate(10)"/><ellipse rx="1.6" ry="1.3" transform="translate(1459.5 144.5)rotate(112)"/><ellipse rx="2.1" ry="1.3" transform="translate(1461.5 151.9)rotate(50)"/><ellipse rx="2" ry="1.2" transform="translate(1411.6 153.6)rotate(144)"/><ellipse rx="1.5" ry="1.1" transform="translate(1414.3 163.1)rotate(126)"/><ellipse rx="2" ry="1.1" transform="translate(1426.8 157.9)rotate(-159)"/><ellipse rx="2.2" ry="1.2" transform="translate(1424.6 154.3)rotate(-146)"/><ellipse rx="2.3" ry="1.2" transform="translate(1446.8 156.7)rotate(-31)"/><ellipse rx="1.9" ry="1.3" transform="translate(1528 183.2)rotate(130)"/><ellipse rx="1.5" ry="1" transform="translate(1540.5 163.3)rotate(-59)"/><ellipse rx="1.9" ry="1.3" transform="translate(1468.6 170.1)rotate(-94)"/><ellipse rx="1.9" ry="0.9" transform="translate(1453.1 193.2)rotate(70)"/><ellipse rx="2" ry="1.3" transform="translate(1519.8 201.8)rotate(91)"/><ellipse rx="1.6" ry="1.2" transform="translate(1532 87)rotate(177)"/><ellipse rx="1.8" ry="1.3" transform="translate(1275.6 202.1)rotate(75)"/><ellipse rx="1.6" ry="1.2" transform="translate(1291.8 193.7)rotate(4)"/><ellipse rx="2.1" ry="1.4" transform="translate(1280.5 194.4)rotate(172)"/><ellipse rx="1.7" ry="1.1" transform="translate(1300.2 197.7)rotate(90)"/><ellipse rx="2.2" ry="1.4" transform="translate(1298.6 201.6)rotate(-86)"/><ellipse rx="1.8" ry="1.1" transform="translate(1272.1 212.2)rotate(61)"/><ellipse rx="2.3" ry="1" transform="translate(1275 213.1)rotate(97)"/><ellipse rx="1.6" ry="1.3" transform="translate(1275.2 228)rotate(95)"/><ellipse rx="1.9" ry="1.1" transform="translate(1300.1 229.8)rotate(83)"/><ellipse rx="1.8" ry="1" transform="translate(1293.2 236.5)rotate(84)"/><ellipse rx="2.1" ry="1.3" transform="translate(1266.2 239)rotate(103)"/><ellipse rx="2.3" ry="1.1" transform="translate(1271.2 237.3)rotate(126)"/><ellipse rx="2.1" ry="1.4" transform="translate(1294.5 237.4)rotate(-82)"/><ellipse rx="2.3" ry="1.1" transform="translate(1304.9 208.4)rotate(-162)"/><ellipse rx="1.7" ry="0.9" transform="translate(1305.4 208.4)rotate(-144)"/><ellipse rx="1.6" ry="1.2" transform="translate(1343 196.6)rotate(-65)"/><ellipse rx="1.8" ry="1.1" transform="translate(1395.5 211.4)rotate(29)"/><ellipse rx="1.7" ry="1.3" transform="translate(1398.8 205.4)rotate(81)"/><ellipse rx="1.9" ry="1" transform="translate(1401.5 224)rotate(99)"/><ellipse rx="1.7" ry="1.3" transform="translate(1365.9 242)rotate(90)"/><ellipse rx="1.9" ry="1" transform="translate(1402.9 234.3)rotate(46)"/><ellipse rx="2" ry="1.2" transform="translate(1378 249.9)rotate(-171)"/><ellipse rx="2.2" ry="1.2" transform="translate(1381.4 243.8)rotate(-91)"/><ellipse rx="2.1" ry="0.9" transform="translate(1373.8 250.8)rotate(1)"/><ellipse rx="2" ry="0.9" transform="translate(1370.1 253.7)rotate(131)"/><ellipse rx="2.3" ry="1" transform="translate(1340.8 251.6)rotate(21)"/><ellipse rx="1.9" ry="0.9" transform="translate(1339.8 246)rotate(50)"/><ellipse rx="1.9" ry="1" transform="translate(1345.6 258)rotate(99)"/><ellipse rx="2.1" ry="1.1" transform="translate(1347.8 262.8)rotate(-75)"/><ellipse rx="2.3" ry="1.2" transform="translate(1303.4 265.3)rotate(33)"/><ellipse rx="2.1" ry="1.3" transform="translate(1304.3 269.4)rotate(10)"/><ellipse rx="2" ry="0.9" transform="translate(1301.5 282.6)rotate(-51)"/><ellipse rx="1.7" ry="1" transform="translate(1364.6 264.4)rotate(-78)"/><ellipse rx="1.7" ry="1.3" transform="translate(1408.5 256.5)rotate(-50)"/><ellipse rx="2.2" ry="1.3" transform="translate(1407.3 251.6)rotate(30)"/><ellipse rx="2.2" ry="1" transform="translate(1406.1 241.9)rotate(-65)"/><ellipse rx="2" ry="1.1" transform="translate(1266.6 247.6)rotate(-80)"/><ellipse rx="1.8" ry="1" transform="translate(1402.2 221.8)rotate(100)"/><ellipse rx="2.1" ry="1.2" transform="translate(1435.7 218.3)rotate(75)"/><ellipse rx="1.9" ry="1.1" transform="translate(1435.9 217.8)rotate(80)"/><ellipse rx="2.2" ry="1.2" transform="translate(1444.2 229.2)rotate(2)"/><ellipse rx="2.1" ry="1" transform="translate(1440.3 251.9)rotate(19)"/><ellipse rx="1.8" ry="1.3" transform="translate(1423.9 253.6)rotate(144)"/><ellipse rx="2.1" ry="1.1" transform="translate(1409.5 250.3)rotate(53)"/><ellipse rx="1.8" ry="1.2" transform="translate(1407.7 257.9)rotate(-54)"/><ellipse rx="1.5" ry="1.2" transform="translate(1454.8 232.9)rotate(38)"/><ellipse rx="1.7" ry="1.2" transform="translate(1446.4 230)rotate(180)"/><ellipse rx="1.6" ry="0.9" transform="translate(1457.5 234.9)rotate(41)"/><ellipse rx="2.2" ry="1.3" transform="translate(1463.2 211.6)rotate(51)"/><ellipse rx="1.9" ry="1.3" transform="translate(1481.4 211.8)rotate(77)"/><ellipse rx="2" ry="1" transform="translate(1481.4 210.5)rotate(79)"/><ellipse rx="2.2" ry="1.1" transform="translate(1480.5 213.7)rotate(79)"/><ellipse rx="2.1" ry="1.1" transform="translate(1478.4 240.6)rotate(62)"/><ellipse rx="1.7" ry="1" transform="translate(1469.1 236.4)rotate(160)"/><ellipse rx="1.6" ry="1" transform="translate(1473.4 238.8)rotate(122)"/><ellipse rx="2.1" ry="1" transform="translate(1467.6 249.7)rotate(95)"/><ellipse rx="2.2" ry="1.3" transform="translate(1474.8 246.2)rotate(-6)"/><ellipse rx="1.7" ry="1.1" transform="translate(1476.3 248.6)rotate(-157)"/><ellipse rx="1.5" ry="1" transform="translate(1441 245.7)rotate(-119)"/><ellipse rx="1.8" ry="1.1" transform="translate(1453.3 253.8)rotate(8)"/><ellipse rx="2.2" ry="1.3" transform="translate(1519.1 204.8)rotate(90)"/><ellipse rx="1.9" ry="1.3" transform="translate(1530.2 214.2)rotate(16)"/><ellipse rx="2.2" ry="1.2" transform="translate(1494.2 222.2)rotate(-164)"/><ellipse rx="2" ry="1.1" transform="translate(1508.1 241.7)rotate(88)"/><ellipse rx="2.3" ry="1.1" transform="translate(1541 237.1)rotate(38)"/><ellipse rx="2.2" ry="1.3" transform="translate(1541.5 236.7)rotate(22)"/><ellipse rx="1.6" ry="1.3" transform="translate(1545.5 256)rotate(88)"/><ellipse rx="2.2" ry="1" transform="translate(1496.8 252.8)rotate(-176)"/><ellipse rx="2.1" ry="1.3" transform="translate(1515.8 263.8)rotate(50)"/><ellipse rx="1.6" ry="1.2" transform="translate(1539 267)rotate(0)"/><ellipse rx="1.8" ry="1.3" transform="translate(1541.1 271.7)rotate(18)"/><ellipse rx="1.5" ry="1" transform="translate(1537.3 268.8)rotate(-150)"/><ellipse rx="2.3" ry="1.2" transform="translate(1541 267.3)rotate(162)"/><ellipse rx="1.8" ry="1.1" transform="translate(1421.6 266.2)rotate(-117)"/><ellipse rx="1.9" ry="1" transform="translate(1409.3 286.4)rotate(-125)"/></g>
<g fill="#e9a9c6" fill-opacity=".2"><circle cx="1281.1" cy="98.3" r="4.2"/><circle cx="1293.3" cy="99.8" r="4.9"/><circle cx="1327.3" cy="103.4" r="5.4"/><circle cx="1358.4" cy="99" r="5.1"/><circle cx="1377.5" cy="85.7" r="4.2"/><circle cx="1358.8" cy="85.2" r="5.3"/><circle cx="1343.1" cy="114.2" r="4.2"/><circle cx="1352.6" cy="119.6" r="4.1"/><circle cx="1309.1" cy="121.5" r="4"/><circle cx="1315.8" cy="122.2" r="4.1"/><circle cx="1272.7" cy="134" r="4.1"/><circle cx="1271.8" cy="139.2" r="3.8"/><circle cx="1291.9" cy="131.8" r="4.8"/><circle cx="1337.8" cy="137.3" r="5.2"/><circle cx="1374.6" cy="131.6" r="3.9"/><circle cx="1398.5" cy="123" r="4"/><circle cx="1390.9" cy="144.5" r="4"/><circle cx="1385.1" cy="150.7" r="4.1"/><circle cx="1294.3" cy="154.5" r="3.9"/><circle cx="1306.7" cy="154.1" r="3.9"/><circle cx="1301.9" cy="161.2" r="4"/><circle cx="1287.6" cy="164.6" r="4.7"/><circle cx="1266" cy="169.4" r="4.9"/><circle cx="1271.3" cy="172.7" r="3.9"/><circle cx="1286.6" cy="175.1" r="4.7"/><circle cx="1350.7" cy="164.6" r="4.6"/><circle cx="1345.4" cy="175.6" r="4.2"/><circle cx="1341.1" cy="182.3" r="3.8"/><circle cx="1374.1" cy="183.2" r="3.8"/><circle cx="1389.5" cy="170.8" r="3.9"/><circle cx="1398.5" cy="183.2" r="4.2"/><circle cx="1401.9" cy="177.5" r="4.1"/><circle cx="1271.3" cy="187.5" r="4"/><circle cx="1286.6" cy="190.9" r="3.8"/><circle cx="1345.9" cy="191.4" r="4.1"/><circle cx="1430.3" cy="108.6" r="4.8"/><circle cx="1473.8" cy="117.2" r="3.9"/><circle cx="1509.7" cy="99.5" r="4.2"/><circle cx="1512.5" cy="125.8" r="5.3"/><circle cx="1462.3" cy="135.4" r="4.2"/><circle cx="1477.1" cy="138.3" r="4.7"/><circle cx="1454.7" cy="145" r="3.9"/><circle cx="1417.3" cy="149.7" r="4.1"/><circle cx="1420.2" cy="156" r="3.9"/><circle cx="1404" cy="160.3" r="4.1"/><circle cx="1466.6" cy="159.3" r="4.1"/><circle cx="1534.5" cy="151.7" r="3.9"/><circle cx="1468.5" cy="187.1" r="4"/><circle cx="1450.4" cy="182.3" r="4.1"/><circle cx="1520.7" cy="189.9" r="3.8"/><circle cx="1542.7" cy="85.7" r="5.4"/><circle cx="1273.2" cy="194.4" r="4"/><circle cx="1287.1" cy="192.5" r="4.2"/><circle cx="1299.5" cy="193.4" r="4.2"/><circle cx="1299.5" cy="202.5" r="4.8"/><circle cx="1268.4" cy="206.8" r="4.2"/><circle cx="1296.2" cy="215" r="4.8"/><circle cx="1299" cy="221.7" r="4.1"/><circle cx="1295.7" cy="228.8" r="4.2"/><circle cx="1292.8" cy="232.7" r="4.2"/><circle cx="1267.5" cy="234.6" r="3.9"/><circle cx="1273.7" cy="233.1" r="5.2"/><circle cx="1293.8" cy="242.7" r="4.6"/><circle cx="1339.2" cy="206.3" r="4.1"/><circle cx="1345.9" cy="195.3" r="4.2"/><circle cx="1360.8" cy="197.3" r="4.3"/><circle cx="1384.7" cy="204" r="5.1"/><circle cx="1398.5" cy="197.3" r="4.2"/><circle cx="1367.5" cy="229.8" r="4.8"/><circle cx="1384.2" cy="244.1" r="3.8"/><circle cx="1366" cy="257.1" r="4"/><circle cx="1345.9" cy="252.7" r="4"/><circle cx="1348.3" cy="259" r="4.3"/><circle cx="1344" cy="263.7" r="4.9"/><circle cx="1350.7" cy="266.6" r="4"/><circle cx="1298.6" cy="268.1" r="3.8"/><circle cx="1267" cy="290.1" r="4.1"/><circle cx="1295.7" cy="290.1" r="3.8"/><circle cx="1317.2" cy="295.8" r="5"/><circle cx="1394.2" cy="294.4" r="4.2"/><circle cx="1403.8" cy="262.8" r="4"/><circle cx="1403.3" cy="248.4" r="3.9"/><circle cx="1404" cy="215" r="3.9"/><circle cx="1434.6" cy="211.6" r="4.1"/><circle cx="1439.8" cy="206.8" r="3.9"/><circle cx="1437.4" cy="228.8" r="4.2"/><circle cx="1436" cy="237" r="4.2"/><circle cx="1407.8" cy="238.9" r="4"/><circle cx="1405.9" cy="245.6" r="4"/><circle cx="1411.6" cy="253.2" r="4.9"/><circle cx="1404.4" cy="263.3" r="4"/><circle cx="1451.3" cy="228.8" r="3.8"/><circle cx="1480.5" cy="209.7" r="3.9"/><circle cx="1481.9" cy="215.9" r="4.2"/><circle cx="1482.4" cy="220.2" r="4"/><circle cx="1475.2" cy="234.6" r="3.9"/><circle cx="1468.1" cy="246.1" r="5.1"/><circle cx="1480.5" cy="244.6" r="4.1"/><circle cx="1484.3" cy="252.7" r="4.2"/><circle cx="1467.1" cy="256.6" r="3.8"/><circle cx="1537.4" cy="215" r="4.3"/><circle cx="1511.1" cy="222.6" r="4.2"/><circle cx="1503.4" cy="226" r="5.6"/><circle cx="1508.2" cy="234.6" r="4.2"/><circle cx="1534.5" cy="230.7" r="3.9"/><circle cx="1536.9" cy="236" r="3.9"/><circle cx="1534.5" cy="270" r="4.1"/><circle cx="1476.2" cy="293.4" r="3.9"/></g>
<g fill="#3a45ad" fill-opacity=".9"><ellipse rx="2.5" ry="2.2" transform="translate(1267 99.8)rotate(69)"/><ellipse rx="2.3" ry="1.9" transform="translate(1354.5 111.5)rotate(67)"/><ellipse rx="2.7" ry="2.2" transform="translate(1334 118.2)rotate(4)"/><ellipse rx="2.8" ry="2" transform="translate(1271.8 128.2)rotate(149)"/><ellipse rx="2.7" ry="1.9" transform="translate(1379.4 125.8)rotate(146)"/><ellipse rx="2.4" ry="2.1" transform="translate(1394.7 141.1)rotate(54)"/><ellipse rx="4.1" ry="1.6" transform="translate(1331.1 168.9)rotate(1)"/><ellipse rx="2.8" ry="2.1" transform="translate(1366 183.7)rotate(152)"/><ellipse rx="2.5" ry="2" transform="translate(1388.5 176.5)rotate(117)"/><ellipse rx="2.5" ry="2.2" transform="translate(1425.5 90)rotate(1)"/><ellipse rx="3.8" ry="1.8" transform="translate(1440.3 93.3)rotate(65)"/><ellipse rx="3.7" ry="1.6" transform="translate(1429.8 120.6)rotate(135)"/><ellipse rx="3.4" ry="2.6" transform="translate(1501.5 98.6)rotate(57)"/><ellipse rx="3.9" ry="1.6" transform="translate(1504.4 134)rotate(1)"/><ellipse rx="1.7" ry="1.3" transform="translate(1530.2 100.5)rotate(122)"/><ellipse rx="2.8" ry="2.2" transform="translate(1534.1 132.5)rotate(13)"/><ellipse rx="2.5" ry="2" transform="translate(1411.6 167.4)rotate(151)"/><ellipse rx="3.4" ry="1.6" transform="translate(1472.4 154.5)rotate(67)"/><ellipse rx="2.4" ry="1.9" transform="translate(1545.5 155)rotate(106)"/><ellipse rx="2.6" ry="2" transform="translate(1534.5 173.7)rotate(103)"/><ellipse rx="2.7" ry="1.9" transform="translate(1468.1 179.4)rotate(105)"/><ellipse rx="2.4" ry="1.9" transform="translate(1276.6 207.8)rotate(96)"/><ellipse rx="2.6" ry="1.8" transform="translate(1275.1 219.3)rotate(137)"/><ellipse rx="2.6" ry="1.9" transform="translate(1400.5 210.7)rotate(41)"/><ellipse rx="2.8" ry="1.8" transform="translate(1403.8 215)rotate(169)"/><ellipse rx="3.5" ry="2.6" transform="translate(1400.9 231.7)rotate(156)"/><ellipse rx="2.6" ry="1.8" transform="translate(1367 249.9)rotate(94)"/><ellipse rx="2.4" ry="2" transform="translate(1373.2 248.9)rotate(63)"/><ellipse rx="2.5" ry="2" transform="translate(1327.3 242.2)rotate(14)"/><ellipse rx="2.5" ry="2" transform="translate(1332.5 247.5)rotate(175)"/><ellipse rx="2.3" ry="2" transform="translate(1298.6 261.8)rotate(172)"/><ellipse rx="1.6" ry="1.3" transform="translate(1362.2 276.2)rotate(2)"/><ellipse rx="2.6" ry="1.9" transform="translate(1401.4 274.3)rotate(121)"/><ellipse rx="2.5" ry="2.2" transform="translate(1431.7 248.4)rotate(66)"/><ellipse rx="2.8" ry="1.9" transform="translate(1467.1 215.4)rotate(167)"/><ellipse rx="2.6" ry="1.9" transform="translate(1520.2 196.3)rotate(59)"/><ellipse rx="1.7" ry="1.3" transform="translate(1520.2 209.7)rotate(142)"/><ellipse rx="2.7" ry="2" transform="translate(1546 239.8)rotate(117)"/><ellipse rx="3.2" ry="2.5" transform="translate(1508.7 254.2)rotate(2)"/><ellipse rx="3.6" ry="1.4" transform="translate(1524.5 273.3)rotate(46)"/><ellipse rx="2.7" ry="2" transform="translate(1544.6 273.3)rotate(75)"/><ellipse rx="2.7" ry="2.2" transform="translate(1416.4 295.3)rotate(29)"/><ellipse rx="2.6" ry="2.2" transform="translate(1452.3 294.8)rotate(51)"/></g>
<g fill="#6b3a92" fill-opacity=".9"><ellipse rx="2.7" ry="2" transform="translate(1281.1 98.3)rotate(80)"/><ellipse rx="3.4" ry="1.6" transform="translate(1293.3 99.8)rotate(50)"/><ellipse rx="2.6" ry="2" transform="translate(1352.6 119.6)rotate(65)"/><ellipse rx="2.5" ry="1.9" transform="translate(1309.1 121.5)rotate(120)"/><ellipse rx="3.7" ry="1.7" transform="translate(1337.8 137.3)rotate(15)"/><ellipse rx="2.4" ry="2.1" transform="translate(1374.6 131.6)rotate(112)"/><ellipse rx="2.4" ry="2.1" transform="translate(1306.7 154.1)rotate(44)"/><ellipse rx="2.6" ry="2.2" transform="translate(1401.9 177.5)rotate(71)"/><ellipse rx="1.8" ry="1.3" transform="translate(1470.9 93.8)rotate(51)"/><ellipse rx="1.7" ry="1.2" transform="translate(1476.2 90.9)rotate(177)"/><ellipse rx="2.6" ry="2.2" transform="translate(1466.6 159.3)rotate(88)"/><ellipse rx="2.7" ry="1.8" transform="translate(1287.1 192.5)rotate(55)"/><ellipse rx="3.1" ry="2.7" transform="translate(1293.8 242.7)rotate(157)"/><ellipse rx="2.8" ry="1.9" transform="translate(1360.8 197.3)rotate(141)"/><ellipse rx="2.3" ry="2.1" transform="translate(1384.2 244.1)rotate(12)"/><ellipse rx="2.5" ry="2.1" transform="translate(1345.9 252.7)rotate(168)"/><ellipse rx="3.4" ry="2.9" transform="translate(1344 263.7)rotate(3)"/><ellipse rx="2.6" ry="2.1" transform="translate(1267 290.1)rotate(145)"/><ellipse rx="2.4" ry="1.9" transform="translate(1403.3 248.4)rotate(45)"/><ellipse rx="2.5" ry="1.9" transform="translate(1405.9 245.6)rotate(142)"/><ellipse rx="3.4" ry="2.6" transform="translate(1411.6 253.2)rotate(142)"/><ellipse rx="1.6" ry="1.5" transform="translate(1458 204)rotate(172)"/><ellipse rx="2.6" ry="1.9" transform="translate(1534.5 270)rotate(64)"/></g>
<g fill="#1f1a72" fill-opacity=".9"><ellipse rx="1.6" ry="1.5" transform="translate(1310.7 87.6)rotate(52)"/><ellipse rx="3.9" ry="1.7" transform="translate(1327.3 103.4)rotate(44)"/><ellipse rx="3.6" ry="1.6" transform="translate(1358.4 99)rotate(61)"/><ellipse rx="2.7" ry="2.1" transform="translate(1377.5 85.7)rotate(106)"/><ellipse rx="2.7" ry="2.1" transform="translate(1343.1 114.2)rotate(61)"/><ellipse rx="2.6" ry="2.2" transform="translate(1315.8 122.2)rotate(175)"/><ellipse rx="2.6" ry="2.1" transform="translate(1272.7 134)rotate(179)"/><ellipse rx="2.3" ry="2" transform="translate(1271.8 139.2)rotate(72)"/><ellipse rx="3.3" ry="2.5" transform="translate(1291.9 131.8)rotate(178)"/><ellipse rx="2.5" ry="1.8" transform="translate(1398.5 123)rotate(154)"/><ellipse rx="2.5" ry="2" transform="translate(1390.9 144.5)rotate(96)"/><ellipse rx="2.6" ry="1.8" transform="translate(1385.1 150.7)rotate(102)"/><ellipse rx="2.5" ry="1.8" transform="translate(1301.9 161.2)rotate(39)"/><ellipse rx="3.4" ry="2.5" transform="translate(1266 169.4)rotate(153)"/><ellipse rx="2.4" ry="2.2" transform="translate(1271.3 172.7)rotate(94)"/><ellipse rx="3.2" ry="2.7" transform="translate(1286.6 175.1)rotate(155)"/><ellipse rx="2.3" ry="1.8" transform="translate(1341.1 182.3)rotate(54)"/><ellipse rx="2.3" ry="2" transform="translate(1374.1 183.2)rotate(14)"/><ellipse rx="2.4" ry="1.8" transform="translate(1389.5 170.8)rotate(165)"/><ellipse rx="2.7" ry="2.2" transform="translate(1398.5 183.2)rotate(102)"/><ellipse rx="1.6" ry="1.4" transform="translate(1403.3 159.8)rotate(46)"/><ellipse rx="2.5" ry="2" transform="translate(1271.3 187.5)rotate(81)"/><ellipse rx="2.3" ry="2.1" transform="translate(1286.6 190.9)rotate(11)"/><ellipse rx="2.6" ry="2" transform="translate(1345.9 191.4)rotate(71)"/><ellipse rx="2.4" ry="2.1" transform="translate(1473.8 117.2)rotate(76)"/><ellipse rx="2.7" ry="2.1" transform="translate(1509.7 99.5)rotate(115)"/><ellipse rx="3.8" ry="1.4" transform="translate(1512.5 125.8)rotate(168)"/><ellipse rx="2.7" ry="2" transform="translate(1462.3 135.4)rotate(135)"/><ellipse rx="2.4" ry="1.9" transform="translate(1454.7 145)rotate(132)"/><ellipse rx="2.6" ry="2" transform="translate(1417.3 149.7)rotate(20)"/><ellipse rx="2.4" ry="1.9" transform="translate(1420.2 156)rotate(171)"/><ellipse rx="2.6" ry="2.2" transform="translate(1404 160.3)rotate(38)"/><ellipse rx="2.4" ry="2.1" transform="translate(1534.5 151.7)rotate(29)"/><ellipse rx="1.7" ry="1.3" transform="translate(1540.3 147.8)rotate(62)"/><ellipse rx="2.5" ry="2.2" transform="translate(1468.5 187.1)rotate(59)"/><ellipse rx="2.6" ry="1.9" transform="translate(1450.4 182.3)rotate(47)"/><ellipse rx="2.3" ry="2.1" transform="translate(1520.7 189.9)rotate(67)"/><ellipse rx="3.9" ry="1.6" transform="translate(1542.7 85.7)rotate(111)"/><ellipse rx="2.5" ry="2" transform="translate(1273.2 194.4)rotate(41)"/><ellipse rx="2.7" ry="1.8" transform="translate(1299.5 193.4)rotate(125)"/><ellipse rx="2.7" ry="1.8" transform="translate(1268.4 206.8)rotate(141)"/><ellipse rx="3.3" ry="2.8" transform="translate(1296.2 215)rotate(166)"/><ellipse rx="2.6" ry="1.9" transform="translate(1299 221.7)rotate(171)"/><ellipse rx="2.7" ry="1.9" transform="translate(1295.7 228.8)rotate(154)"/><ellipse rx="2.7" ry="1.9" transform="translate(1292.8 232.7)rotate(44)"/><ellipse rx="1.5" ry="1.4" transform="translate(1300.5 234.1)rotate(45)"/><ellipse rx="2.4" ry="1.9" transform="translate(1267.5 234.6)rotate(23)"/><ellipse rx="3.7" ry="1.5" transform="translate(1273.7 233.1)rotate(51)"/><ellipse rx="2.6" ry="2.1" transform="translate(1339.2 206.3)rotate(165)"/><ellipse rx="2.7" ry="1.9" transform="translate(1345.9 195.3)rotate(9)"/><ellipse rx="3.6" ry="1.6" transform="translate(1384.7 204)rotate(66)"/><ellipse rx="2.7" ry="2.2" transform="translate(1398.5 197.3)rotate(91)"/><ellipse rx="2.5" ry="1.9" transform="translate(1366 257.1)rotate(126)"/><ellipse rx="2.8" ry="2.2" transform="translate(1348.3 259)rotate(166)"/><ellipse rx="2.3" ry="1.8" transform="translate(1298.6 268.1)rotate(156)"/><ellipse rx="2.3" ry="1.8" transform="translate(1295.7 290.1)rotate(142)"/><ellipse rx="3.5" ry="2.8" transform="translate(1317.2 295.8)rotate(73)"/><ellipse rx="2.7" ry="1.9" transform="translate(1394.2 294.4)rotate(105)"/><ellipse rx="2.4" ry="2.1" transform="translate(1404 215)rotate(46)"/><ellipse rx="2.6" ry="1.9" transform="translate(1434.6 211.6)rotate(157)"/><ellipse rx="1.6" ry="1.4" transform="translate(1437 220.7)rotate(121)"/><ellipse rx="2.7" ry="2" transform="translate(1437.4 228.8)rotate(14)"/><ellipse rx="2.7" ry="1.9" transform="translate(1436 237)rotate(39)"/><ellipse rx="2.5" ry="2.2" transform="translate(1407.8 238.9)rotate(178)"/><ellipse rx="1.7" ry="1.3" transform="translate(1417.8 258.5)rotate(147)"/><ellipse rx="2.4" ry="1.9" transform="translate(1480.5 209.7)rotate(122)"/><ellipse rx="2.7" ry="2.1" transform="translate(1481.9 215.9)rotate(170)"/><ellipse rx="2.5" ry="1.9" transform="translate(1482.4 220.2)rotate(21)"/><ellipse rx="2.4" ry="2.2" transform="translate(1475.2 234.6)rotate(12)"/><ellipse rx="3.6" ry="1.5" transform="translate(1468.1 246.1)rotate(22)"/><ellipse rx="2.6" ry="2" transform="translate(1480.5 244.6)rotate(102)"/><ellipse rx="2.7" ry="2" transform="translate(1484.3 252.7)rotate(170)"/><ellipse rx="2.3" ry="1.9" transform="translate(1467.1 256.6)rotate(13)"/><ellipse rx="2.8" ry="2" transform="translate(1537.4 215)rotate(108)"/><ellipse rx="2.7" ry="2" transform="translate(1511.1 222.6)rotate(34)"/><ellipse rx="4.1" ry="1.8" transform="translate(1503.4 226)rotate(4)"/><ellipse rx="2.4" ry="1.9" transform="translate(1534.5 230.7)rotate(132)"/><ellipse rx="2.4" ry="1.8" transform="translate(1536.9 236)rotate(39)"/><ellipse rx="1.7" ry="1.3" transform="translate(1532.1 266.1)rotate(85)"/><ellipse rx="1.8" ry="1.3" transform="translate(1428.8 280)rotate(168)"/><ellipse rx="2.4" ry="2.1" transform="translate(1476.2 293.4)rotate(42)"/></g>
<g fill="#9db1e2" fill-opacity=".8"><ellipse rx="2.5" ry="1.9" transform="translate(1334.9 93.3)rotate(161)"/><ellipse rx="2.4" ry="1.9" transform="translate(1299.5 131.1)rotate(25)"/><ellipse rx="2.7" ry="2.1" transform="translate(1385.1 129.7)rotate(21)"/><ellipse rx="2.8" ry="2.2" transform="translate(1372.2 141.1)rotate(4)"/><ellipse rx="2.6" ry="2" transform="translate(1406.8 115.8)rotate(56)"/><ellipse rx="2.3" ry="1.8" transform="translate(1445.1 127.7)rotate(45)"/><ellipse rx="3.9" ry="1.6" transform="translate(1527.4 151.7)rotate(140)"/><ellipse rx="2.4" ry="2.1" transform="translate(1265.1 244.6)rotate(153)"/><ellipse rx="2.6" ry="1.9" transform="translate(1334.4 238.9)rotate(54)"/><ellipse rx="2.4" ry="1.9" transform="translate(1462.8 238.9)rotate(8)"/></g>
<g fill="#4b1036" fill-opacity=".9"><ellipse rx="3.8" ry="1.4" transform="translate(1358.8 85.2)rotate(161)"/><ellipse rx="2.4" ry="1.8" transform="translate(1294.3 154.5)rotate(92)"/><ellipse rx="3.2" ry="2.7" transform="translate(1287.6 164.6)rotate(82)"/><ellipse rx="3.1" ry="2.8" transform="translate(1350.7 164.6)rotate(132)"/><ellipse rx="2.7" ry="1.9" transform="translate(1345.4 175.6)rotate(95)"/><ellipse rx="3.3" ry="2.6" transform="translate(1430.3 108.6)rotate(54)"/><ellipse rx="3.2" ry="2.6" transform="translate(1477.1 138.3)rotate(78)"/><ellipse rx="3.3" ry="2.7" transform="translate(1299.5 202.5)rotate(59)"/><ellipse rx="3.3" ry="2.4" transform="translate(1367.5 229.8)rotate(162)"/><ellipse rx="2.5" ry="2" transform="translate(1350.7 266.6)rotate(123)"/><ellipse rx="2.5" ry="1.9" transform="translate(1403.8 262.8)rotate(158)"/><ellipse rx="2.4" ry="1.9" transform="translate(1439.8 206.8)rotate(54)"/><ellipse rx="2.5" ry="1.9" transform="translate(1404.4 263.3)rotate(106)"/><ellipse rx="2.3" ry="2.2" transform="translate(1451.3 228.8)rotate(25)"/><ellipse rx="2.7" ry="2" transform="translate(1508.2 234.6)rotate(9)"/></g>
<g fill="#e290b6" fill-opacity=".8"><ellipse rx="2.5" ry="2" transform="translate(1387.1 162.2)rotate(85)"/><ellipse rx="2.4" ry="1.8" transform="translate(1380.4 90.4)rotate(66)"/><ellipse rx="2.5" ry="2" transform="translate(1379.4 110.5)rotate(41)"/><ellipse rx="3.4" ry="2.6" transform="translate(1414.5 95.7)rotate(1)"/><ellipse rx="2.3" ry="1.8" transform="translate(1456.1 150.2)rotate(150)"/><ellipse rx="3.4" ry="2.7" transform="translate(1542.7 186.1)rotate(46)"/><ellipse rx="2.4" ry="2.2" transform="translate(1298.6 207.3)rotate(137)"/><ellipse rx="2.4" ry="2" transform="translate(1367 234.1)rotate(21)"/><ellipse rx="2.3" ry="2" transform="translate(1382.3 250.4)rotate(176)"/><ellipse rx="2.6" ry="2" transform="translate(1345.4 270)rotate(167)"/><ellipse rx="1.6" ry="1.4" transform="translate(1263.7 258.5)rotate(59)"/><ellipse rx="3" ry="2.6" transform="translate(1450.8 229.3)rotate(68)"/><ellipse rx="2.4" ry="2.1" transform="translate(1479.5 205.4)rotate(170)"/><ellipse rx="2.6" ry="2" transform="translate(1546.5 266.1)rotate(59)"/></g>
<g fill="#b3b3c4" fill-opacity=".8"><ellipse rx="1.5" ry="1.4" transform="translate(1506.8 110)rotate(8)"/><ellipse rx="2.6" ry="2" transform="translate(1502.5 120.6)rotate(166)"/><ellipse rx="2.4" ry="2.1" transform="translate(1436.5 162.2)rotate(85)"/><ellipse rx="1.7" ry="1.5" transform="translate(1523.5 86.6)rotate(163)"/><ellipse rx="1.7" ry="1.4" transform="translate(1312.4 211.6)rotate(132)"/><ellipse rx="1.7" ry="1.5" transform="translate(1381.8 236.5)rotate(141)"/><ellipse rx="2.8" ry="1.8" transform="translate(1306.2 266.6)rotate(5)"/><ellipse rx="2.7" ry="2.1" transform="translate(1311.5 270.4)rotate(93)"/><ellipse rx="1.6" ry="1.4" transform="translate(1445.1 253.2)rotate(166)"/></g>
</g>
<rect x="1258.65" y="79.9" width="292.2" height="222.95" fill="none" stroke="#151515" stroke-width="3.8" rx="2"/>
<clipPath id="hc2"><rect x="1260.55" y="314.8" width="288.4" height="219.9"/></clipPath>
<rect x="1259.55" y="313.8" width="290.4" height="221.9" fill="#fafcfe"/>
<g clip-path="url(#hc2)" filter="url(#hb)">
<path d="M1285.7 321Q1292.3 325.4 1294.7 325.3M1285.7 321Q1286.8 326.3 1285.7 334M1313.4 322.5Q1302.6 322 1294.7 325.3M1275.6 329.2Q1274.1 338.6 1276.1 346.9M1303.8 336.8Q1302.2 341.5 1305.3 343M1317.7 343.5Q1317.7 345.8 1318.2 352.1M1317.7 343.5Q1312.1 337 1307.7 333.5M1318.2 352.1Q1311.2 353 1308.6 356M1303.4 367.4Q1302.6 369.1 1298.1 373.7M1303.4 367.4Q1306.2 373.5 1309.6 380.4M1285.2 370.8Q1283.9 362.4 1279 354M1309.6 380.4Q1306.7 390.1 1300 399.5M1265.6 384.7Q1273.5 391.2 1282.8 396.6M1385.1 340.2Q1381.5 341.3 1378.5 346.9M1369.8 340.2Q1374 344.8 1378.5 346.9M1388.5 364.1Q1396.6 366.5 1401.4 373.2M1388.5 364.1Q1381.1 355.4 1378.5 346.9M1401.4 373.2Q1405.2 379.1 1412.6 380.4M1361.2 385.1Q1363.2 389.9 1361.2 397.6M1339.7 393.3Q1344.3 391.3 1353.6 388.5M1282.8 396.6Q1283.9 406.1 1282.3 413.8M1402.4 409.1Q1407.2 404.7 1408.7 400.4M1424 356.9Q1422.4 358.6 1421.2 359.8M1449.9 355.5Q1453.1 361.6 1460.9 363.1M1449.9 355.5Q1460.3 357.7 1472.4 361.7M1460.9 363.1Q1463.9 363.4 1471.9 367.4M1441.7 379.4Q1443.5 383.5 1442.2 385.6M1434.6 389.9Q1433 392.2 1432.2 394.7M1434.6 389.9Q1437.1 393.1 1437.9 397.6M1432.2 394.7Q1434.6 398.1 1437.9 397.6M1432.2 394.7Q1431.2 399.6 1426.9 401.9M1408.7 400.4Q1419.3 399.8 1426.9 401.9M1481.4 332.5Q1487.6 330.5 1493.9 325.8M1493.9 325.8Q1491.2 336.1 1485.3 343M1486.7 347.4Q1488.6 347.4 1492.4 351.7M1472.4 361.7Q1469.5 365.9 1467.1 374.6M1514 338.3Q1512.5 341.7 1512.5 346.4M1534.1 321.5Q1536.5 326 1543.6 327.3M1543.6 327.3Q1543.2 330.3 1538.8 337.3M1459 398.1Q1461.8 401.6 1463.7 406.7M1456.1 407.1Q1461 404.6 1470 403.8M1470 403.8Q1469.9 409.4 1472.4 412.4M1472.4 412.4Q1475.2 417.1 1475.2 418.6M1511.6 396.6Q1516.9 396.4 1522.6 400.4M1510.1 414.8Q1509.7 412.3 1514 414.8M1271.3 430.7Q1266.8 437.5 1266.5 444.1M1331.1 434.1Q1340.5 438.2 1345.4 442.2M1350.2 429.8Q1349.6 431.8 1350.2 435.5M1350.2 435.5Q1353.4 437.7 1353.6 444.1M1378.5 437Q1384.5 440.6 1388 439.3M1401.4 441.3Q1395.7 449.8 1391.8 455.6M1353.6 444.1Q1357.1 449.7 1358.8 454.7M1313.9 443.7Q1313.2 443.5 1314.4 443.2M1313.9 443.7Q1320.1 447.8 1323.9 451.8M1314.4 443.2Q1317.9 447.2 1316.7 455.1M1323.9 451.8Q1331.3 454.7 1334.4 458.5M1316.7 455.1Q1309.8 457.1 1307.7 459.9M1377.5 459.4Q1372.9 466.4 1371.8 477.6M1294.7 471.9Q1302.9 467.8 1307.7 459.9M1345.9 483.4Q1349.9 483.3 1354.5 479.5M1374.6 484.8Q1373.7 490 1372.2 493.9M1391.8 477.6Q1391.6 482.6 1390.9 487.2M1304.3 491.5Q1305.9 488.8 1312.4 488.6M1336.4 502.5Q1340.8 506.7 1342.6 507.3M1276.6 503.4Q1271.6 505.3 1268.4 503M1360.8 503.9Q1367.3 499.4 1372.2 493.9M1275.6 529.3Q1270.1 523.4 1262.7 521.6M1333.5 533.1Q1337.5 530.1 1338.8 523.1M1435.5 444.6Q1436.4 449 1435 452.3M1427.4 465.2Q1428.9 453.9 1431.7 445.1M1461.4 450.4Q1451.6 446.7 1446.5 441.7M1485.3 437Q1488.4 439.6 1492 437.4M1514 441.3Q1519.2 444.3 1519.7 449.9M1529.3 447Q1533 442.6 1534.5 438.9M1536.9 426.4Q1538.9 427.1 1544.6 429.3M1452.7 478.6Q1456.9 481.5 1461.4 487.7M1521.6 482.9Q1521.4 486.8 1519.7 491M1515.9 486.2Q1513.6 487.7 1511.1 490.1M1535 492.9Q1528.7 493.2 1519.7 491M1412.1 507.3Q1420.1 511.2 1426 514.4M1546.5 510.6Q1543 502.8 1535 492.9" fill="none" stroke="#dcaec6" stroke-width="1.15" stroke-opacity=".6"/>
<path d="M1285.7 321Q1281.7 324.7 1275.6 329.2M1294.7 325.3Q1299.7 331.9 1303.8 336.8M1307.7 333.5Q1307.4 333.8 1303.8 336.8M1305.3 343Q1313 345.5 1317.7 343.5M1276.1 346.9Q1278.4 345.3 1282.8 347.8M1290.9 348.3Q1284.6 350.2 1279 354M1308.6 356Q1306.2 360.4 1303.4 367.4M1285.2 370.8Q1292.7 370.6 1298.1 373.7M1265.6 384.7Q1270.1 393.2 1271.8 405.7M1344.5 325.3Q1348.2 327.1 1355 328.7M1344.5 325.3Q1347.5 327.8 1352.6 334.4M1355 328.7Q1361.4 326.2 1365.1 320.6M1365.1 320.6Q1357.9 328.1 1352.6 334.4M1369.8 340.2Q1368.3 342.8 1370.3 340.7M1369.8 340.2Q1375.6 337.8 1385.1 340.2M1335.9 349.3Q1329.1 344 1317.7 343.5M1389 371.3Q1385.3 377.1 1382.8 387.5M1362.7 371.3Q1359.5 378.9 1361.2 385.1M1362.7 371.3Q1358.1 378.6 1354.1 388M1362.7 371.3Q1356.2 378.2 1353.6 388.5M1361.2 385.1Q1355.7 388.3 1354.1 388M1361.2 385.1Q1355.8 387.7 1353.6 388.5M1353.6 388.5Q1357.1 390.9 1361.2 397.6M1339.7 393.3Q1348.1 388.9 1354.1 388M1356.4 408.6Q1357 402 1361.2 397.6M1356.4 408.6Q1363.6 410.4 1369.4 411M1282.8 396.6Q1279.2 402.6 1271.8 405.7M1300 399.5Q1307 400.2 1309.1 403.8M1305.7 401.4Q1308.4 409.2 1307.7 413.8M1327.3 408.6Q1331.2 410.7 1332.1 415.3M1399 418.1Q1395.3 423.8 1389.9 431.2M1412.6 323.9Q1410.4 330.4 1412.6 334.4M1421.7 347.4Q1420.9 351.3 1421.2 359.8M1417.8 352.6Q1416.6 351.2 1411.1 354.5M1417.8 352.6Q1420.8 353.4 1424 356.9M1411.1 354.5Q1415.4 358.6 1421.2 359.8M1449.9 355.5Q1447.3 360.8 1444.1 366.5M1444.1 366.5Q1453 365.9 1460.9 363.1M1413.5 373.2Q1418 372.6 1420.2 373.2M1420.2 373.2Q1418.3 367.5 1421.2 359.8M1442.2 385.6Q1438.9 387.1 1434.6 389.9M1416.4 389.4Q1413.5 395.7 1408.7 400.4M1416.4 389.4Q1420.9 395.5 1426.9 401.9M1437.9 397.6Q1437.9 401.5 1434.6 406.7M1481.4 332.5Q1484.5 339.3 1486.7 347.4M1485.3 343Q1483.8 347.4 1486.7 347.4M1485.3 343Q1486.6 345.3 1492.4 351.7M1480.5 379.9Q1471 386.4 1466.1 388.5M1466.1 388.5Q1464.7 391 1459 398.1M1466.1 388.5Q1468 394.5 1470 403.8M1525.5 328.7Q1531.5 327.1 1534.1 321.5M1546 334Q1543.6 337.8 1538.4 344M1538.8 337.3Q1536.5 341.8 1538.4 344M1463.7 406.7Q1465.1 404.6 1470 403.8M1470 403.8Q1470.3 406.2 1473.8 405.7M1485.3 412.4Q1482.6 407.1 1481 405.2M1522.6 400.4Q1513.9 400.2 1506.8 402.8M1524.5 404.3Q1521.5 411.4 1514 414.8M1510.1 414.8Q1511.1 420.9 1510.1 431.7M1529.3 424.4Q1525.4 428.3 1526.4 427.4M1266.5 444.1Q1267.9 449.4 1273.2 453.7M1266.5 444.1Q1263.5 450 1262.7 456.1M1290.4 439.8Q1278.9 433.6 1271.3 430.7M1350.2 435.5Q1348.8 441 1345.4 442.2M1371.8 427.4Q1375.8 430.9 1378.5 437M1345.4 442.2Q1347.1 445.3 1353.6 444.1M1345.4 442.2Q1342.4 442.2 1334.4 443.2M1335.9 453.7Q1337.6 458.5 1334.4 458.5M1391.8 455.6Q1396.7 458.5 1405.9 458.5M1299.5 465.7Q1299.2 469 1294.7 471.9M1345.9 479.1Q1350.4 479.6 1354.5 479.5M1345.9 483.4Q1344.5 487.7 1338.3 495.8M1371.8 477.6Q1371 482 1374.6 484.8M1385.6 479.1Q1390.6 477.9 1391.8 477.6M1382.3 483.4Q1380.5 483.7 1374.6 484.8M1295.2 492.4Q1297.3 494.1 1304.3 491.5M1304.3 491.5Q1309.7 491.6 1312.9 489.1M1338.3 495.8Q1339.7 499.4 1342.6 507.3M1336.4 502.5Q1336.3 508.6 1339.2 516.8M1322.5 510.1Q1331.8 505.5 1336.4 502.5M1276.6 503.4Q1271.5 510.3 1266.5 514M1268.4 503Q1267.7 506.8 1266.5 514M1351.7 510.1Q1348.1 516.1 1347.8 518.8M1391.8 497.2Q1388.9 498.6 1383.2 501.5M1399.5 497.7Q1397.4 500.7 1397.6 504.4M1399.5 497.7Q1401.9 497.6 1408.7 497.7M1338.8 523.1Q1338.8 527 1340.2 528.3M1340.2 528.3Q1342.9 525.1 1346.4 525.9M1347.8 518.8Q1346.3 522.2 1346.4 525.9M1275.6 529.3Q1271.8 521.1 1266.5 514M1333.5 533.1Q1338.3 528.6 1346.4 525.9M1446.5 441.7Q1437.6 443.2 1431.7 445.1M1459.4 441.7Q1469 438.1 1479.5 435M1461.4 450.4Q1469.9 455.5 1476.2 462.3M1485.3 437Q1482.9 438.8 1483.8 442.7M1498.7 453.2Q1495.3 446.9 1492 437.4M1510.1 431.7Q1509.9 435.7 1514 441.3M1510.1 431.7Q1518.8 427.8 1526.4 427.4M1529.3 447Q1529.7 446.1 1529.8 447.5M1526.4 427.4Q1529.8 429.4 1536.9 426.4M1544.6 429.3Q1537.2 427.9 1529.3 424.4M1476.2 462.3Q1480.2 465 1486.2 471.9M1425 485.3Q1435.2 488.7 1443.2 488.6M1443.2 488.6Q1446.3 489 1446 492M1461.4 487.7Q1464.6 487.7 1465.2 492.4M1461.4 487.7Q1470.1 489.3 1474.3 487.2M1474.3 487.2Q1482.6 478.2 1486.2 471.9M1521.6 482.9Q1516.3 488.5 1511.1 490.1M1515.9 486.2Q1516.8 486.9 1519.7 491M1535 492.9Q1537.6 486.8 1535.5 476.7" fill="none" stroke="#cfd2e0" stroke-width="1.15" stroke-opacity=".6"/>
<path d="M1294.7 325.3Q1289.9 331 1285.7 334M1313.4 322.5Q1310.1 330.5 1303.8 336.8M1276.1 346.9Q1275.9 350.7 1279 354M1282.8 347.8Q1281.7 350.5 1279 354M1282.8 347.8Q1287.8 347.6 1290.9 348.3M1344.5 325.3Q1352.4 323.5 1365.1 320.6M1389.9 322.5Q1394.8 322.7 1404.3 323.9M1391.4 333.5Q1396.2 328.4 1404.3 323.9M1335.9 349.3Q1344.6 339.7 1352.6 334.4M1401.4 373.2Q1408.2 375.1 1413.5 373.2M1401.4 373.2Q1396 373.1 1389 371.3M1353.6 388.5Q1356.1 390.3 1354.1 388M1362.7 405.2Q1366.7 410.2 1369.4 411M1369.4 411Q1369.2 417.8 1368.9 422.9M1282.8 396.6Q1283.5 400.8 1285.2 406.7M1285.2 406.7Q1286.2 409.9 1282.3 413.8M1271.8 405.7Q1279.5 412.2 1282.3 413.8M1282.3 413.8Q1280.4 416.4 1276.1 423.4M1305.7 401.4Q1305.1 403.4 1309.1 403.8M1317.2 407.6Q1322.5 406.3 1327.3 408.6M1317.2 407.6Q1311.3 412.2 1307.7 413.8M1332.1 415.3Q1325.3 410.4 1317.2 407.6M1345.9 418.6Q1350.4 425.7 1350.2 429.8M1385.1 416.2Q1390.7 415 1399 418.1M1385.1 416.2Q1375 411.3 1369.4 411M1368.9 422.9Q1374 430.9 1378.5 437M1404.9 323.9Q1408.9 331 1412.6 334.4M1421.7 347.4Q1425.1 354.5 1424 356.9M1421.2 359.8Q1420.4 355.4 1417.8 352.6M1460.9 363.1Q1462.4 370.7 1467.1 374.6M1412.6 380.4Q1415.8 385.9 1416.4 389.4M1412.6 380.4Q1418.7 376.2 1420.2 373.2M1441.7 379.4Q1436.1 385 1434.6 389.9M1442.2 385.6Q1439 389.7 1437.9 397.6M1426.9 401.9Q1432.6 401.4 1437.9 397.6M1434.6 406.7Q1433.1 398.5 1432.2 394.7M1481.4 332.5Q1483.4 336.3 1485.3 343M1496.8 347.4Q1492.2 343 1485.3 343M1480.5 379.9Q1474.9 377.6 1467.1 374.6M1512.5 346.4Q1514.4 349.5 1518.3 351.2M1525.5 328.7Q1519.4 334.6 1514 338.3M1543.6 327.3Q1545.8 328.4 1546 334M1546 334Q1540 337.2 1538.8 337.3M1538.4 344Q1534.8 346.7 1535 347.8M1531.2 370.8Q1524.1 362.1 1518.3 351.2M1459 398.1Q1455.2 401.2 1456.1 407.1M1481 405.2Q1473.3 406.2 1470 403.8M1511.6 396.6Q1511.5 398 1506.8 402.8M1506.8 402.8Q1510 408.2 1510.1 414.8M1541.2 400.4Q1533.5 401.5 1524.5 404.3M1541.2 400.4Q1538.6 415.5 1536.9 426.4M1475.2 418.6Q1474.4 414.5 1473.8 405.7M1529.3 424.4Q1535.6 423.9 1536.9 426.4M1290.4 439.8Q1280.8 433.1 1276.1 423.4M1273.2 453.7Q1281.1 446.2 1290.4 439.8M1350.2 429.8Q1347.5 436.7 1345.4 442.2M1389.9 431.2Q1387 432.9 1388 439.3M1334.4 443.2Q1332.7 446.7 1335.9 453.7M1313.9 443.7Q1313.5 450 1316.7 455.1M1314.4 443.2Q1321.4 445.6 1323.9 451.8M1323.9 451.8Q1331.8 450.5 1335.9 453.7M1404.3 459.4Q1408.1 465.3 1407.3 474.7M1298.1 457.5Q1297.3 466.9 1294.7 471.9M1354.5 479.5Q1362.5 480.2 1371.8 477.6M1385.6 479.1Q1386.4 481.7 1382.3 483.4M1382.3 483.4Q1387.3 483.7 1390.9 487.2M1391.8 477.6Q1387.1 482.2 1382.3 483.4M1295.2 492.4Q1301.9 492.2 1312.9 489.1M1312.9 489.1Q1317.1 494.1 1321.5 500.1M1338.3 495.8Q1336.2 499.5 1336.4 502.5M1342.6 507.3Q1349.3 509.1 1351.7 510.1M1360.8 503.9Q1363.2 501 1366 498.7M1372.2 493.9Q1376.2 494.6 1377 498.7M1387.1 510.6Q1390.1 512.5 1396.6 514M1387.1 510.6Q1391.5 508.1 1397.6 504.4M1339.2 516.8Q1338.2 521.4 1338.8 523.1M1310.1 529.3Q1317.1 518.9 1322.5 510.1M1275.6 529.3Q1274.5 533.1 1270.3 532.1M1270.3 532.1Q1267.6 524.7 1262.7 521.6M1262.7 521.6Q1265 517.6 1266.5 514M1435.5 444.6Q1440.4 444.2 1446.5 441.7M1479.5 435Q1484 438.9 1483.8 442.7M1479.5 435Q1484.2 434 1492 437.4M1498.7 453.2Q1501 459.4 1505.4 463.3M1498.7 453.2Q1492 452.8 1486.2 456.6M1514 441.3Q1523.1 442.6 1529.3 447M1529.8 447.5Q1531.8 444.4 1534.5 438.9M1534.5 438.9Q1533.4 430.2 1536.9 426.4M1544.6 429.3Q1539 432.5 1534.5 438.9M1534.5 467.1Q1533.7 473.4 1535.5 476.7M1505.4 463.3Q1504.4 468.3 1499.6 472.4M1486.2 456.6Q1483.3 458.8 1476.2 462.3M1486.2 456.6Q1484 450.7 1483.8 442.7M1430.7 485.7Q1434.8 485.8 1443.2 488.6M1495.8 488.6Q1504.2 490 1513 496.3M1521.6 482.9Q1518.8 482.1 1515.9 486.2M1513 496.3Q1516.5 492 1515.9 486.2M1407.3 474.7Q1397.4 474.9 1391.8 477.6M1412.1 507.3Q1403 507.8 1397.6 504.4M1546.5 510.6Q1540.8 514.8 1539.8 518.8M1539.8 518.8Q1539.8 504.5 1535 492.9M1474.7 529.3Q1485.8 530.2 1495.8 533.1" fill="none" stroke="#c8b9de" stroke-width="1.15" stroke-opacity=".6"/>
<path d="M1313.4 322.5Q1312.9 326.9 1307.7 333.5M1275.6 329.2Q1281.1 329.6 1285.7 334M1308.6 356Q1308.4 351.9 1305.3 343M1285.2 370.8Q1294.8 368.1 1303.4 367.4M1265.6 384.7Q1273.1 379.3 1285.2 370.8M1355 328.7Q1352.8 333.6 1352.6 334.4M1352.6 334.4Q1359.2 335 1369.8 340.2M1365.1 320.6Q1366 330.7 1369.8 340.2M1389.9 322.5Q1389.9 330.4 1391.4 333.5M1404.3 323.9Q1402.9 326.1 1404.9 323.9M1385.1 340.2Q1377.2 342.8 1370.3 340.7M1370.3 340.7Q1374.5 342.3 1378.5 346.9M1388.5 364.1Q1386.8 369.8 1389 371.3M1339.7 393.3Q1331.8 402.9 1327.3 408.6M1382.8 387.5Q1371.8 387.7 1361.2 385.1M1361.2 397.6Q1364.2 399 1362.7 405.2M1362.7 405.2Q1357.6 408.1 1356.4 408.6M1285.2 406.7Q1280.1 406.3 1271.8 405.7M1282.3 413.8Q1277.2 415.4 1276.6 418.1M1276.6 418.1Q1275.6 418.8 1276.1 423.4M1300 399.5Q1305.8 407.9 1307.7 413.8M1332.1 415.3Q1340.8 415.1 1345.9 418.6M1345.9 418.6Q1351.6 413.7 1356.4 408.6M1399 418.1Q1398.2 413.1 1402.4 409.1M1402.4 409.1Q1394.4 413.5 1385.1 416.2M1368.9 422.9Q1368 423 1371.8 427.4M1421.7 347.4Q1421.1 348.3 1417.8 352.6M1411.1 354.5Q1415.6 352.2 1421.7 347.4M1444.1 366.5Q1441.2 372 1441.7 379.4M1413.5 373.2Q1413.7 378.1 1412.6 380.4M1486.7 347.4Q1493.6 347.3 1496.8 347.4M1492.4 351.7Q1493.3 349.7 1496.8 347.4M1472.4 361.7Q1472.3 363.4 1471.9 367.4M1471.9 367.4Q1468.6 373.5 1467.1 374.6M1480.5 379.9Q1474.3 371.5 1471.9 367.4M1512.1 332.5Q1511.3 333.8 1514 338.3M1512.1 332.5Q1514.2 341.3 1512.5 346.4M1512.1 332.5Q1518.7 329.7 1525.5 328.7M1518.3 351.2Q1519.1 357.7 1517.3 367.4M1535 347.8Q1535.3 341.7 1538.8 337.3M1535 347.8Q1527.9 350.1 1518.3 351.2M1517.3 367.4Q1521.9 367.8 1531.2 370.8M1531.2 370.8Q1533.7 360.6 1535 347.8M1456.1 407.1Q1461.3 405.1 1463.7 406.7M1473.8 405.7Q1476.9 404.7 1481 405.2M1485.3 412.4Q1481.3 416 1475.2 418.6M1485.3 412.4Q1480.4 413 1472.4 412.4M1511.6 396.6Q1515.7 398.6 1524.5 404.3M1506.8 402.8Q1512.1 409.5 1514 414.8M1541.2 400.4Q1533 399.9 1522.6 400.4M1529.3 424.4Q1530.6 433.9 1534.5 438.9M1290.4 439.8Q1294.1 449.3 1298.1 457.5M1262.7 456.1Q1266.2 454.9 1273.2 453.7M1371.8 427.4Q1373 419.3 1369.4 411M1389.9 431.2Q1386.1 435.9 1378.5 437M1378.5 437Q1377.3 439.2 1378.5 443.2M1401.4 441.3Q1396.2 438.1 1388 439.3M1307.7 459.9Q1302.4 461.2 1299.5 465.7M1358.8 454.7Q1352.7 448.8 1345.4 442.2M1377.5 459.4Q1386 459.2 1391.8 455.6M1404.3 459.4Q1403.9 458.3 1405.9 458.5M1298.1 457.5Q1298.5 463.3 1299.5 465.7M1343.1 466.1Q1342.8 470.8 1345.9 479.1M1371.8 477.6Q1379 479.8 1382.3 483.4M1371.8 477.6Q1377 476.6 1385.6 479.1M1295.2 492.4Q1305.4 488.9 1312.4 488.6M1312.4 488.6Q1311.1 488.1 1312.9 489.1M1342.6 507.3Q1341.4 513.7 1339.2 516.8M1351.7 510.1Q1355.4 505.8 1360.8 503.9M1372.2 493.9Q1370.1 495 1366 498.7M1377 498.7Q1379.4 501.3 1383.2 501.5M1377 498.7Q1372 497.8 1366 498.7M1391.8 497.2Q1393.1 498.7 1397.6 504.4M1397.6 504.4Q1396.3 509.2 1396.6 514M1387.1 510.6Q1383.4 507.9 1383.2 501.5M1396.6 514Q1398.4 507.3 1399.5 497.7M1340.2 528.3Q1334.4 529.4 1333.5 533.1M1310.1 529.3Q1323.4 530.3 1333.5 533.1M1423.1 430.7Q1425.7 438.2 1424.5 440.8M1423.1 430.7Q1428.4 435.6 1435.5 444.6M1431.7 445.1Q1435.4 450.7 1435 452.3M1446.5 441.7Q1452.9 440.4 1459.4 441.7M1405.9 458.5Q1407.4 466.2 1407.3 474.7M1427.4 465.2Q1424.7 473 1425 485.3M1492 437.4Q1489.2 439.6 1483.8 442.7M1529.8 447.5Q1523.7 451 1519.7 449.9M1526.4 427.4Q1528.3 433.8 1534.5 438.9M1545.5 460.9Q1537.2 455.4 1529.8 447.5M1534.5 467.1Q1534 455.8 1529.8 447.5M1535.5 476.7Q1528.5 477.4 1521.6 482.9M1535.5 476.7Q1538.1 483.6 1542.7 490.5M1486.2 471.9Q1493.2 473.2 1499.6 472.4M1486.2 471.9Q1485 464 1486.2 456.6M1452.7 478.6Q1449.7 484.6 1446 492M1430.7 485.7Q1438 488.2 1446 492M1446 492Q1454.3 491.6 1461.4 487.7M1465.2 492.4Q1460.6 486.7 1452.7 478.6M1495.8 488.6Q1502.5 491 1511.1 490.1M1511.1 490.1Q1510.5 495.2 1513 496.3M1535 492.9Q1540.9 493.1 1542.7 490.5M1542.7 490.5Q1544 500.7 1546.5 510.6M1408.7 497.7Q1410.7 502.5 1412.1 507.3M1426 514.4Q1433.4 523.1 1440.3 529.3" fill="none" stroke="#bcc6e6" stroke-width="1.15" stroke-opacity=".6"/>
<path d="M1307.7 333.5Q1307.7 336.3 1305.3 343M1276.1 346.9Q1283.1 349.6 1290.9 348.3M1318.2 352.1Q1310.9 347.9 1305.3 343M1298.1 373.7Q1302.1 374.7 1309.6 380.4M1389.9 322.5Q1397.6 321.8 1404.9 323.9M1404.3 323.9Q1407.5 324.8 1412.6 323.9M1404.3 323.9Q1407.9 328.5 1412.6 334.4M1391.4 333.5Q1388.4 337.4 1385.1 340.2M1335.9 349.3Q1326.1 351.7 1318.2 352.1M1354.1 388Q1355.9 393.4 1361.2 397.6M1382.8 387.5Q1390.1 380.5 1401.4 373.2M1271.8 405.7Q1273.5 410.5 1276.6 418.1M1300 399.5Q1303.2 401.7 1305.7 401.4M1309.1 403.8Q1312.5 407.1 1317.2 407.6M1327.3 408.6Q1319.9 408.6 1309.1 403.8M1307.7 413.8Q1306.5 407.3 1309.1 403.8M1385.1 416.2Q1389.8 425.5 1389.9 431.2M1276.1 423.4Q1274.7 427.3 1271.3 430.7M1404.9 323.9Q1406.5 322.7 1412.6 323.9M1460.9 363.1Q1467.2 361.9 1472.4 361.7M1426.9 401.9Q1430.8 404.4 1434.6 406.7M1493.9 325.8Q1504.3 329.4 1512.1 332.5M1467.1 374.6Q1464.5 380.6 1466.1 388.5M1514 338.3Q1514.4 344.9 1518.3 351.2M1534.1 321.5Q1536.3 326.9 1538.8 337.3M1517.3 367.4Q1514.1 358.1 1512.5 346.4M1473.8 405.7Q1471.9 408.8 1472.4 412.4M1522.6 400.4Q1523.6 402.3 1524.5 404.3M1271.3 430.7Q1271.5 424.9 1276.6 418.1M1262.7 456.1Q1269.4 444.4 1271.3 430.7M1331.1 434.1Q1335.1 437.8 1334.4 443.2M1331.1 434.1Q1331.3 425.3 1332.1 415.3M1389.9 431.2Q1394.3 435.6 1401.4 441.3M1378.5 443.2Q1385 438.8 1388 439.3M1378.5 443.2Q1379.9 453.5 1377.5 459.4M1323.9 451.8Q1318.6 455.7 1316.7 455.1M1334.4 458.5Q1340.8 460.4 1343.1 466.1M1307.7 459.9Q1300.5 457.1 1298.1 457.5M1358.8 454.7Q1368.2 457.2 1377.5 459.4M1391.8 455.6Q1397.5 459.8 1404.3 459.4M1343.1 466.1Q1339 460 1335.9 453.7M1345.9 479.1Q1345.4 480.8 1345.9 483.4M1385.6 479.1Q1386.7 481.2 1390.9 487.2M1275.1 491Q1277.3 494.8 1276.6 503.4M1275.1 491Q1271.6 499 1268.4 503M1275.1 491Q1284.8 492.9 1295.2 492.4M1312.4 488.6Q1318 496 1321.5 500.1M1321.5 500.1Q1323.2 503.7 1322.5 510.1M1322.5 510.1Q1329.2 515.9 1339.2 516.8M1391.8 497.2Q1394.9 498.2 1399.5 497.7M1339.2 516.8Q1344.6 518.6 1347.8 518.8M1338.8 523.1Q1342 524.3 1346.4 525.9M1270.3 532.1Q1269.9 525.5 1266.5 514M1423.1 430.7Q1427.4 438.1 1431.7 445.1M1424.5 440.8Q1430.6 440.9 1431.7 445.1M1424.5 440.8Q1431.9 442.2 1435.5 444.6M1431.7 445.1Q1433.4 443.8 1435.5 444.6M1459.4 441.7Q1457.9 448.2 1461.4 450.4M1435 452.3Q1430.2 459.5 1427.4 465.2M1479.5 435Q1484.1 437.3 1485.3 437M1529.3 447Q1525.6 450.3 1519.7 449.9M1545.5 460.9Q1539.6 466.1 1534.5 467.1M1545.5 460.9Q1540 469.6 1535.5 476.7M1505.4 463.3Q1515 456.5 1519.7 449.9M1499.6 472.4Q1496.3 478.7 1495.8 488.6M1452.7 478.6Q1449.3 482.8 1443.2 488.6M1430.7 485.7Q1428.1 484 1425 485.3M1465.2 492.4Q1470.5 491.7 1474.3 487.2M1519.7 491Q1514.8 493 1513 496.3M1511.1 490.1Q1515 493 1519.7 491M1408.7 497.7Q1405 500.6 1397.6 504.4M1426 514.4Q1429.1 521.7 1428.4 529.8M1440.3 529.3Q1436.2 527.7 1428.4 529.8" fill="none" stroke="#e2b6c8" stroke-width="1.15" stroke-opacity=".6"/>
<g fill="#b36a9c" fill-opacity=".5"><ellipse rx="1.8" ry="1.1" transform="translate(1290.7 324.1)rotate(25)"/><ellipse rx="1.5" ry="0.9" transform="translate(1286.2 326.7)rotate(90)"/><ellipse rx="2" ry="1.3" transform="translate(1300.1 332.3)rotate(51)"/><ellipse rx="1.6" ry="1.1" transform="translate(1311.1 328.5)rotate(117)"/><ellipse rx="1.8" ry="1.3" transform="translate(1310.2 328.7)rotate(123)"/><ellipse rx="2.3" ry="1" transform="translate(1302.9 323)rotate(171)"/><ellipse rx="1.9" ry="1" transform="translate(1282 331.2)rotate(25)"/><ellipse rx="1.5" ry="1.1" transform="translate(1306.7 338.7)rotate(104)"/><ellipse rx="2.1" ry="1.1" transform="translate(1312.2 337.6)rotate(-135)"/><ellipse rx="1.6" ry="1.2" transform="translate(1309.6 346.5)rotate(-144)"/><ellipse rx="2.1" ry="1" transform="translate(1307.8 351.2)rotate(-104)"/><ellipse rx="2" ry="1.4" transform="translate(1305.9 372.8)rotate(64)"/><ellipse rx="1.6" ry="1.3" transform="translate(1293.7 371.8)rotate(12)"/><ellipse rx="1.7" ry="1.4" transform="translate(1296.2 368.3)rotate(-10)"/><ellipse rx="2.3" ry="1" transform="translate(1304.6 392.3)rotate(116)"/><ellipse rx="1.5" ry="0.9" transform="translate(1275.3 391.9)rotate(34)"/><ellipse rx="2" ry="1.3" transform="translate(1274.6 378.2)rotate(-35)"/><ellipse rx="2.2" ry="1" transform="translate(1349.2 330.2)rotate(48)"/><ellipse rx="1.7" ry="1.1" transform="translate(1362.1 336.8)rotate(18)"/><ellipse rx="2" ry="1.2" transform="translate(1356.8 329.6)rotate(131)"/><ellipse rx="2.3" ry="1.2" transform="translate(1367 331.5)rotate(76)"/><ellipse rx="2.1" ry="1.1" transform="translate(1395.4 322.3)rotate(5)"/><ellipse rx="1.5" ry="0.9" transform="translate(1381.9 342.2)rotate(135)"/><ellipse rx="2.3" ry="1.3" transform="translate(1374.5 344.5)rotate(37)"/><ellipse rx="2.1" ry="1" transform="translate(1326.3 351.3)rotate(170)"/><ellipse rx="2" ry="1.4" transform="translate(1383 356.6)rotate(-120)"/><ellipse rx="1.5" ry="1.2" transform="translate(1396.6 372.8)rotate(-171)"/><ellipse rx="1.5" ry="1" transform="translate(1386.5 376.1)rotate(110)"/><ellipse rx="1.5" ry="1.1" transform="translate(1360.6 380.5)rotate(95)"/><ellipse rx="1.7" ry="1.3" transform="translate(1359.1 377.5)rotate(117)"/><ellipse rx="2.2" ry="1.3" transform="translate(1362.2 391)rotate(90)"/><ellipse rx="2.1" ry="1.3" transform="translate(1356.9 391.5)rotate(49)"/><ellipse rx="1.9" ry="1" transform="translate(1356.1 392.1)rotate(53)"/><ellipse rx="1.5" ry="1.3" transform="translate(1345.4 390.6)rotate(-20)"/><ellipse rx="2.2" ry="1.3" transform="translate(1370 386.8)rotate(-173)"/><ellipse rx="1.6" ry="1.3" transform="translate(1392.4 379.4)rotate(-37)"/><ellipse rx="1.8" ry="1.4" transform="translate(1278.3 401.8)rotate(140)"/><ellipse rx="2" ry="1" transform="translate(1283.3 403.6)rotate(91)"/><ellipse rx="2.3" ry="1.2" transform="translate(1277.5 406.1)rotate(-175)"/><ellipse rx="2.1" ry="1.1" transform="translate(1277.7 410.5)rotate(37)"/><ellipse rx="1.8" ry="1.3" transform="translate(1280.5 416.5)rotate(123)"/><ellipse rx="1.6" ry="0.9" transform="translate(1307.6 409)rotate(81)"/><ellipse rx="2" ry="1.3" transform="translate(1310.5 412.3)rotate(146)"/><ellipse rx="1.7" ry="1" transform="translate(1341.3 416.4)rotate(13)"/><ellipse rx="1.8" ry="1" transform="translate(1322.9 409.9)rotate(-152)"/><ellipse rx="1.6" ry="0.9" transform="translate(1348.5 423.3)rotate(68)"/><ellipse rx="2.1" ry="1.3" transform="translate(1352.6 412.5)rotate(-43)"/><ellipse rx="1.6" ry="1.4" transform="translate(1389.6 415.9)rotate(7)"/><ellipse rx="1.9" ry="1.3" transform="translate(1388.6 424.6)rotate(72)"/><ellipse rx="2" ry="1.3" transform="translate(1376.1 412.5)rotate(-161)"/><ellipse rx="2.2" ry="1.3" transform="translate(1394.4 424.9)rotate(124)"/><ellipse rx="2.2" ry="1.3" transform="translate(1405.9 405.3)rotate(-53)"/><ellipse rx="1.8" ry="1.2" transform="translate(1392.8 413.6)rotate(157)"/><ellipse rx="1.6" ry="1" transform="translate(1375 432.1)rotate(55)"/><ellipse rx="1.6" ry="1.3" transform="translate(1409.5 331)rotate(53)"/><ellipse rx="1.8" ry="1.3" transform="translate(1411.5 328.7)rotate(90)"/><ellipse rx="2.2" ry="1" transform="translate(1421.1 352.7)rotate(92)"/><ellipse rx="2" ry="1.4" transform="translate(1447.9 359.5)rotate(117)"/><ellipse rx="1.7" ry="1.2" transform="translate(1454.4 360.6)rotate(34)"/><ellipse rx="2" ry="1.4" transform="translate(1459.6 357.8)rotate(15)"/><ellipse rx="2.2" ry="1" transform="translate(1441.9 373.3)rotate(100)"/><ellipse rx="2" ry="1" transform="translate(1452.7 365.4)rotate(-11)"/><ellipse rx="2.3" ry="1" transform="translate(1466.6 362.2)rotate(-7)"/><ellipse rx="1.5" ry="1.3" transform="translate(1466.2 364.8)rotate(21)"/><ellipse rx="1.6" ry="1.1" transform="translate(1418.1 376)rotate(-43)"/><ellipse rx="2.3" ry="1.3" transform="translate(1419.7 365.2)rotate(-85)"/><ellipse rx="2.2" ry="1.4" transform="translate(1412.7 395.7)rotate(124)"/><ellipse rx="1.8" ry="1.3" transform="translate(1422.9 397.5)rotate(49)"/><ellipse rx="1.5" ry="1.4" transform="translate(1437.3 401.3)rotate(110)"/><ellipse rx="1.8" ry="1.2" transform="translate(1432.2 400.7)rotate(-21)"/><ellipse rx="1.9" ry="1" transform="translate(1433.1 399.1)rotate(-101)"/><ellipse rx="1.7" ry="1" transform="translate(1483.3 336.9)rotate(70)"/><ellipse rx="1.7" ry="1.1" transform="translate(1488.9 329.2)rotate(-28)"/><ellipse rx="2.1" ry="1" transform="translate(1487.1 345.5)rotate(50)"/><ellipse rx="1.9" ry="1" transform="translate(1491.1 347.3)rotate(0)"/><ellipse rx="2" ry="1" transform="translate(1491 343.9)rotate(-159)"/><ellipse rx="2.2" ry="1.2" transform="translate(1465.5 382.4)rotate(93)"/><ellipse rx="1.6" ry="0.9" transform="translate(1474.7 377.6)rotate(-158)"/><ellipse rx="1.7" ry="1.2" transform="translate(1475.2 372.6)rotate(-124)"/><ellipse rx="1.5" ry="1" transform="translate(1473.3 384.6)rotate(149)"/><ellipse rx="1.6" ry="1.2" transform="translate(1468.4 396.6)rotate(75)"/><ellipse rx="1.8" ry="1.3" transform="translate(1513.3 340.7)rotate(88)"/><ellipse rx="1.5" ry="1.3" transform="translate(1517 330.7)rotate(-15)"/><ellipse rx="1.8" ry="1.2" transform="translate(1515.6 345.7)rotate(71)"/><ellipse rx="1.8" ry="1.4" transform="translate(1518.5 356.8)rotate(93)"/><ellipse rx="2.3" ry="1.2" transform="translate(1520 333.6)rotate(140)"/><ellipse rx="2.2" ry="1" transform="translate(1539.1 325.9)rotate(30)"/><ellipse rx="1.9" ry="1.2" transform="translate(1541.8 339.8)rotate(127)"/><ellipse rx="1.6" ry="0.9" transform="translate(1536.3 341.6)rotate(-70)"/><ellipse rx="1.7" ry="0.9" transform="translate(1524.2 361.3)rotate(-123)"/><ellipse rx="1.7" ry="1.3" transform="translate(1456.3 402.1)rotate(107)"/><ellipse rx="1.9" ry="1.3" transform="translate(1461.5 405.1)rotate(-13)"/><ellipse rx="2.1" ry="1.2" transform="translate(1480.6 412.7)rotate(180)"/><ellipse rx="2" ry="1.2" transform="translate(1473.8 405.3)rotate(-172)"/><ellipse rx="2" ry="1.2" transform="translate(1516 397.1)rotate(19)"/><ellipse rx="1.6" ry="1.3" transform="translate(1510.2 407.5)rotate(59)"/><ellipse rx="1.6" ry="1.3" transform="translate(1519.4 411.4)rotate(134)"/><ellipse rx="2.2" ry="1.3" transform="translate(1532.7 402)rotate(167)"/><ellipse rx="2.1" ry="1" transform="translate(1474.4 413.1)rotate(-96)"/><ellipse rx="1.6" ry="1.2" transform="translate(1272.8 424.5)rotate(-67)"/><ellipse rx="2.2" ry="1.1" transform="translate(1268.7 448.9)rotate(55)"/><ellipse rx="2.1" ry="1.2" transform="translate(1278.2 433.7)rotate(-154)"/><ellipse rx="1.7" ry="1" transform="translate(1283.4 433.8)rotate(-131)"/><ellipse rx="2" ry="1.3" transform="translate(1267.2 454.9)rotate(-12)"/><ellipse rx="1.8" ry="1.2" transform="translate(1280.6 447.2)rotate(-38)"/><ellipse rx="2.1" ry="1.1" transform="translate(1340.3 438.7)rotate(29)"/><ellipse rx="1.9" ry="1.2" transform="translate(1331.4 425.8)rotate(-87)"/><ellipse rx="1.8" ry="1.4" transform="translate(1347 438.1)rotate(111)"/><ellipse rx="2.1" ry="1.1" transform="translate(1372 421.6)rotate(-98)"/><ellipse rx="1.9" ry="1.2" transform="translate(1385.4 434.9)rotate(153)"/><ellipse rx="1.6" ry="0.9" transform="translate(1393.8 434.9)rotate(41)"/><ellipse rx="1.9" ry="1.4" transform="translate(1383.9 439.4)rotate(14)"/><ellipse rx="1.7" ry="1.4" transform="translate(1395.9 449.6)rotate(123)"/><ellipse rx="2.2" ry="1.1" transform="translate(1341.2 442.5)rotate(175)"/><ellipse rx="1.7" ry="1.4" transform="translate(1356.3 448.9)rotate(63)"/><ellipse rx="1.8" ry="1.1" transform="translate(1333.9 447.5)rotate(82)"/><ellipse rx="1.9" ry="1" transform="translate(1314.4 449.4)rotate(75)"/><ellipse rx="2.1" ry="1" transform="translate(1318.8 447.2)rotate(38)"/><ellipse rx="2.2" ry="1.1" transform="translate(1316.7 448.2)rotate(78)"/><ellipse rx="1.7" ry="1.4" transform="translate(1321 447.2)rotate(41)"/><ellipse rx="1.9" ry="1.1" transform="translate(1312.2 456.7)rotate(152)"/><ellipse rx="2" ry="1.3" transform="translate(1301.2 457.8)rotate(-165)"/><ellipse rx="1.8" ry="1.1" transform="translate(1303.2 461.8)rotate(144)"/><ellipse rx="2.1" ry="1.3" transform="translate(1374.1 466.6)rotate(107)"/><ellipse rx="1.9" ry="1.2" transform="translate(1397.8 458.7)rotate(17)"/><ellipse rx="2" ry="1.3" transform="translate(1396.1 457.4)rotate(11)"/><ellipse rx="1.5" ry="1" transform="translate(1296.9 465.6)rotate(103)"/><ellipse rx="1.6" ry="1" transform="translate(1301.4 467.4)rotate(-42)"/><ellipse rx="2.2" ry="1.1" transform="translate(1343.3 469.8)rotate(77)"/><ellipse rx="1.7" ry="1" transform="translate(1339.6 460.6)rotate(-119)"/><ellipse rx="1.9" ry="1.2" transform="translate(1363.6 479.3)rotate(-6)"/><ellipse rx="1.6" ry="1.2" transform="translate(1379.2 480.8)rotate(28)"/><ellipse rx="2.2" ry="1.1" transform="translate(1378.6 477.6)rotate(5)"/><ellipse rx="2.2" ry="0.9" transform="translate(1373.2 490.9)rotate(104)"/><ellipse rx="2.3" ry="0.9" transform="translate(1285.6 492.3)rotate(4)"/><ellipse rx="1.8" ry="1" transform="translate(1298.3 493.1)rotate(-6)"/><ellipse rx="1.8" ry="1" transform="translate(1305.8 489.5)rotate(-12)"/><ellipse rx="2.2" ry="0.9" transform="translate(1317.9 495.7)rotate(51)"/><ellipse rx="1.8" ry="1.2" transform="translate(1339.5 499)rotate(69)"/><ellipse rx="2.2" ry="1.3" transform="translate(1272.7 508.3)rotate(133)"/><ellipse rx="1.9" ry="1" transform="translate(1267.7 507.1)rotate(99)"/><ellipse rx="2.3" ry="1.2" transform="translate(1349.1 509.2)rotate(17)"/><ellipse rx="2" ry="0.9" transform="translate(1341.3 512.6)rotate(109)"/><ellipse rx="2.2" ry="1" transform="translate(1356.6 505.9)rotate(-34)"/><ellipse rx="2" ry="1.2" transform="translate(1367.7 498.4)rotate(-41)"/><ellipse rx="1.8" ry="0.9" transform="translate(1371.6 498.2)rotate(180)"/><ellipse rx="2.1" ry="1.3" transform="translate(1393.3 499)rotate(51)"/><ellipse rx="1.8" ry="1" transform="translate(1389.2 498.5)rotate(153)"/><ellipse rx="1.6" ry="1" transform="translate(1396.8 508.1)rotate(95)"/><ellipse rx="1.7" ry="1.2" transform="translate(1384 506.4)rotate(-112)"/><ellipse rx="2.1" ry="1.2" transform="translate(1391.9 507.8)rotate(-30)"/><ellipse rx="2.1" ry="1.2" transform="translate(1398.4 505.6)rotate(-79)"/><ellipse rx="1.5" ry="1" transform="translate(1314.9 522)rotate(-56)"/><ellipse rx="2" ry="1.4" transform="translate(1267.9 523.5)rotate(-149)"/><ellipse rx="1.6" ry="1.2" transform="translate(1337.5 527.6)rotate(-62)"/><ellipse rx="2.2" ry="1.2" transform="translate(1424.6 436.4)rotate(81)"/><ellipse rx="2" ry="1.3" transform="translate(1430.7 442.3)rotate(19)"/><ellipse rx="1.7" ry="1.2" transform="translate(1439.6 443.9)rotate(-14)"/><ellipse rx="2.3" ry="1" transform="translate(1436.6 443.7)rotate(167)"/><ellipse rx="1.6" ry="1.3" transform="translate(1469.5 438.1)rotate(-18)"/><ellipse rx="2" ry="1" transform="translate(1431.7 457.4)rotate(120)"/><ellipse rx="2.3" ry="1.2" transform="translate(1425.5 473.5)rotate(96)"/><ellipse rx="2" ry="0.9" transform="translate(1450.7 445.1)rotate(-149)"/><ellipse rx="2.1" ry="1.2" transform="translate(1468.9 455.6)rotate(38)"/><ellipse rx="2" ry="1.3" transform="translate(1494 453.5)rotate(164)"/><ellipse rx="1.5" ry="1.2" transform="translate(1494.6 444.4)rotate(-112)"/><ellipse rx="2.3" ry="0.9" transform="translate(1510.5 434.8)rotate(68)"/><ellipse rx="2" ry="0.9" transform="translate(1524 444)rotate(20)"/><ellipse rx="2.1" ry="1" transform="translate(1532.5 442.7)rotate(-57)"/><ellipse rx="1.6" ry="1" transform="translate(1526.2 449)rotate(163)"/><ellipse rx="2.2" ry="1" transform="translate(1525.2 449.6)rotate(166)"/><ellipse rx="1.8" ry="1.4" transform="translate(1534.7 430.7)rotate(-79)"/><ellipse rx="1.6" ry="1.2" transform="translate(1529.6 433.7)rotate(54)"/><ellipse rx="1.8" ry="1.2" transform="translate(1540.6 432.1)rotate(136)"/><ellipse rx="2.1" ry="1" transform="translate(1535.9 427)rotate(-162)"/><ellipse rx="2.3" ry="1" transform="translate(1539.7 465.1)rotate(150)"/><ellipse rx="1.5" ry="1.4" transform="translate(1541.6 467)rotate(122)"/><ellipse rx="1.6" ry="0.9" transform="translate(1539.7 456.6)rotate(-139)"/><ellipse rx="2" ry="1" transform="translate(1534.4 472.8)rotate(84)"/><ellipse rx="2.2" ry="1.1" transform="translate(1526.6 479.5)rotate(155)"/><ellipse rx="1.8" ry="1" transform="translate(1539.6 485.5)rotate(62)"/><ellipse rx="2.2" ry="1.3" transform="translate(1482.3 459.1)rotate(150)"/><ellipse rx="2.2" ry="1.4" transform="translate(1492.6 472.6)rotate(2)"/><ellipse rx="2.1" ry="0.9" transform="translate(1485.6 464)rotate(-90)"/><ellipse rx="2.3" ry="1" transform="translate(1496.5 482.1)rotate(103)"/><ellipse rx="2.1" ry="1.2" transform="translate(1435.8 486.5)rotate(12)"/><ellipse rx="1.6" ry="0.9" transform="translate(1436.6 487.9)rotate(22)"/><ellipse rx="1.7" ry="1.1" transform="translate(1455.1 490.4)rotate(-15)"/><ellipse rx="1.9" ry="1" transform="translate(1470.6 488.2)rotate(-2)"/><ellipse rx="1.6" ry="1" transform="translate(1459.5 485.8)rotate(-131)"/><ellipse rx="2.2" ry="1.1" transform="translate(1480.6 479.9)rotate(-52)"/><ellipse rx="2" ry="1.4" transform="translate(1504.9 490.3)rotate(5)"/><ellipse rx="2.1" ry="1.4" transform="translate(1504.2 491.2)rotate(23)"/><ellipse rx="2.2" ry="0.9" transform="translate(1515.2 492.5)rotate(-74)"/><ellipse rx="1.8" ry="1.2" transform="translate(1525.8 492.2)rotate(-172)"/><ellipse rx="1.9" ry="1" transform="translate(1398.5 475.5)rotate(169)"/><ellipse rx="1.9" ry="1.2" transform="translate(1405.5 499.9)rotate(149)"/><ellipse rx="2.3" ry="1" transform="translate(1405.2 507)rotate(-168)"/><ellipse rx="2" ry="1" transform="translate(1419 510.7)rotate(27)"/><ellipse rx="1.6" ry="1.1" transform="translate(1435.2 524.4)rotate(45)"/><ellipse rx="2.2" ry="1.2" transform="translate(1542.8 503.7)rotate(-122)"/><ellipse rx="1.8" ry="1.3" transform="translate(1538.2 503.3)rotate(-100)"/><ellipse rx="2" ry="1.3" transform="translate(1487 531)rotate(10)"/></g>
<g fill="#e9a9c6" fill-opacity=".36"><circle cx="1294.7" cy="325.3" r="5.4"/><circle cx="1313.4" cy="322.5" r="4"/><circle cx="1275.6" cy="329.2" r="4"/><circle cx="1285.7" cy="334" r="5.3"/><circle cx="1307.7" cy="333.5" r="4.3"/><circle cx="1305.3" cy="343" r="4"/><circle cx="1276.1" cy="346.9" r="4"/><circle cx="1282.8" cy="347.8" r="3.9"/><circle cx="1290.9" cy="348.3" r="4.1"/><circle cx="1318.2" cy="352.1" r="4.1"/><circle cx="1308.6" cy="356" r="4.3"/><circle cx="1285.2" cy="370.8" r="3.9"/><circle cx="1265.6" cy="384.7" r="4.6"/><circle cx="1344.5" cy="325.3" r="5.4"/><circle cx="1355" cy="328.7" r="4.2"/><circle cx="1391.4" cy="333.5" r="3.8"/><circle cx="1385.1" cy="340.2" r="4"/><circle cx="1370.3" cy="340.7" r="4.2"/><circle cx="1388.5" cy="364.1" r="4.8"/><circle cx="1401.4" cy="373.2" r="4.6"/><circle cx="1362.7" cy="371.3" r="4.2"/><circle cx="1361.2" cy="385.1" r="4"/><circle cx="1354.1" cy="388" r="4.2"/><circle cx="1361.2" cy="397.6" r="4.1"/><circle cx="1362.7" cy="405.2" r="3.9"/><circle cx="1356.4" cy="408.6" r="5"/><circle cx="1369.4" cy="411" r="3.9"/><circle cx="1282.8" cy="396.6" r="4.7"/><circle cx="1285.2" cy="406.7" r="4.1"/><circle cx="1282.3" cy="413.8" r="3.9"/><circle cx="1276.6" cy="418.1" r="4.3"/><circle cx="1300" cy="399.5" r="4.2"/><circle cx="1305.7" cy="401.4" r="4.2"/><circle cx="1309.1" cy="403.8" r="4.2"/><circle cx="1317.2" cy="407.6" r="3.8"/><circle cx="1327.3" cy="408.6" r="4.5"/><circle cx="1307.7" cy="413.8" r="4.6"/><circle cx="1345.9" cy="418.6" r="5.5"/><circle cx="1385.1" cy="416.2" r="3.8"/><circle cx="1399" cy="418.1" r="4.3"/><circle cx="1402.4" cy="409.1" r="4.2"/><circle cx="1368.9" cy="422.9" r="4.3"/><circle cx="1276.1" cy="423.4" r="3.8"/><circle cx="1404.9" cy="323.9" r="4.2"/><circle cx="1412.6" cy="334.4" r="5"/><circle cx="1417.8" cy="352.6" r="4.5"/><circle cx="1424" cy="356.9" r="3.8"/><circle cx="1444.1" cy="366.5" r="5.3"/><circle cx="1413.5" cy="373.2" r="4.7"/><circle cx="1412.6" cy="380.4" r="5"/><circle cx="1420.2" cy="373.2" r="4"/><circle cx="1441.7" cy="379.4" r="4.3"/><circle cx="1442.2" cy="385.6" r="3.8"/><circle cx="1434.6" cy="389.9" r="4.1"/><circle cx="1432.2" cy="394.7" r="4.2"/><circle cx="1416.4" cy="389.4" r="5.1"/><circle cx="1408.7" cy="400.4" r="4.1"/><circle cx="1434.6" cy="406.7" r="4.1"/><circle cx="1481.4" cy="332.5" r="4"/><circle cx="1485.3" cy="343" r="4.2"/><circle cx="1486.7" cy="347.4" r="3.8"/><circle cx="1492.4" cy="351.7" r="4.2"/><circle cx="1472.4" cy="361.7" r="4"/><circle cx="1471.9" cy="367.4" r="4.1"/><circle cx="1480.5" cy="379.9" r="4"/><circle cx="1512.1" cy="332.5" r="4.1"/><circle cx="1514" cy="338.3" r="4"/><circle cx="1518.3" cy="351.2" r="5.2"/><circle cx="1525.5" cy="328.7" r="5.1"/><circle cx="1534.1" cy="321.5" r="4"/><circle cx="1543.6" cy="327.3" r="4.2"/><circle cx="1546" cy="334" r="4"/><circle cx="1538.8" cy="337.3" r="4.1"/><circle cx="1535" cy="347.8" r="4.1"/><circle cx="1531.2" cy="370.8" r="5.5"/><circle cx="1459" cy="398.1" r="3.8"/><circle cx="1456.1" cy="407.1" r="4.3"/><circle cx="1470" cy="403.8" r="3.9"/><circle cx="1473.8" cy="405.7" r="4.2"/><circle cx="1472.4" cy="412.4" r="5"/><circle cx="1506.8" cy="402.8" r="4.1"/><circle cx="1522.6" cy="400.4" r="3.8"/><circle cx="1524.5" cy="404.3" r="3.8"/><circle cx="1510.1" cy="414.8" r="3.9"/><circle cx="1514" cy="414.8" r="4.2"/><circle cx="1529.3" cy="424.4" r="4.2"/><circle cx="1331.1" cy="434.1" r="5.1"/><circle cx="1350.2" cy="429.8" r="4.6"/><circle cx="1350.2" cy="435.5" r="4.1"/><circle cx="1371.8" cy="427.4" r="4.1"/><circle cx="1389.9" cy="431.2" r="4"/><circle cx="1378.5" cy="437" r="3.8"/><circle cx="1378.5" cy="443.2" r="4"/><circle cx="1401.4" cy="441.3" r="4.1"/><circle cx="1345.4" cy="442.2" r="4"/><circle cx="1353.6" cy="444.1" r="4"/><circle cx="1334.4" cy="443.2" r="5.1"/><circle cx="1314.4" cy="443.2" r="4"/><circle cx="1323.9" cy="451.8" r="4.3"/><circle cx="1316.7" cy="455.1" r="4.3"/><circle cx="1335.9" cy="453.7" r="3.8"/><circle cx="1334.4" cy="458.5" r="3.8"/><circle cx="1307.7" cy="459.9" r="4"/><circle cx="1391.8" cy="455.6" r="4.7"/><circle cx="1404.3" cy="459.4" r="4"/><circle cx="1298.1" cy="457.5" r="3.9"/><circle cx="1294.7" cy="471.9" r="4.2"/><circle cx="1343.1" cy="466.1" r="5.1"/><circle cx="1345.9" cy="479.1" r="4.2"/><circle cx="1345.9" cy="483.4" r="3.9"/><circle cx="1354.5" cy="479.5" r="5"/><circle cx="1371.8" cy="477.6" r="5.5"/><circle cx="1385.6" cy="479.1" r="4"/><circle cx="1374.6" cy="484.8" r="4.1"/><circle cx="1390.9" cy="487.2" r="4"/><circle cx="1275.1" cy="491" r="4.1"/><circle cx="1295.2" cy="492.4" r="4.1"/><circle cx="1304.3" cy="491.5" r="3.8"/><circle cx="1312.9" cy="489.1" r="4.3"/><circle cx="1338.3" cy="495.8" r="4.1"/><circle cx="1336.4" cy="502.5" r="3.8"/><circle cx="1342.6" cy="507.3" r="5.6"/><circle cx="1351.7" cy="510.1" r="4.3"/><circle cx="1360.8" cy="503.9" r="4.1"/><circle cx="1372.2" cy="493.9" r="4.2"/><circle cx="1399.5" cy="497.7" r="3.9"/><circle cx="1397.6" cy="504.4" r="4.2"/><circle cx="1387.1" cy="510.6" r="4.9"/><circle cx="1396.6" cy="514" r="3.9"/><circle cx="1339.2" cy="516.8" r="4.3"/><circle cx="1338.8" cy="523.1" r="3.8"/><circle cx="1340.2" cy="528.3" r="4.1"/><circle cx="1347.8" cy="518.8" r="4"/><circle cx="1346.4" cy="525.9" r="3.9"/><circle cx="1310.1" cy="529.3" r="5.5"/><circle cx="1275.6" cy="529.3" r="4.2"/><circle cx="1270.3" cy="532.1" r="4.2"/><circle cx="1262.7" cy="521.6" r="5"/><circle cx="1423.1" cy="430.7" r="5.4"/><circle cx="1424.5" cy="440.8" r="3.8"/><circle cx="1431.7" cy="445.1" r="4.1"/><circle cx="1435.5" cy="444.6" r="3.8"/><circle cx="1435" cy="452.3" r="5.4"/><circle cx="1405.9" cy="458.5" r="5"/><circle cx="1427.4" cy="465.2" r="5.1"/><circle cx="1461.4" cy="450.4" r="4.5"/><circle cx="1479.5" cy="435" r="4.9"/><circle cx="1485.3" cy="437" r="3.9"/><circle cx="1492" cy="437.4" r="4.1"/><circle cx="1498.7" cy="453.2" r="5.5"/><circle cx="1510.1" cy="431.7" r="3.9"/><circle cx="1514" cy="441.3" r="4"/><circle cx="1529.8" cy="447.5" r="4.2"/><circle cx="1519.7" cy="449.9" r="4"/><circle cx="1534.5" cy="438.9" r="4.1"/><circle cx="1526.4" cy="427.4" r="3.9"/><circle cx="1536.9" cy="426.4" r="4"/><circle cx="1544.6" cy="429.3" r="4"/><circle cx="1534.5" cy="467.1" r="3.9"/><circle cx="1535.5" cy="476.7" r="4.2"/><circle cx="1486.2" cy="471.9" r="3.9"/><circle cx="1452.7" cy="478.6" r="4.1"/><circle cx="1425" cy="485.3" r="4.2"/><circle cx="1443.2" cy="488.6" r="3.8"/><circle cx="1446" cy="492" r="4"/><circle cx="1461.4" cy="487.7" r="4.2"/><circle cx="1465.2" cy="492.4" r="3.8"/><circle cx="1521.6" cy="482.9" r="3.8"/><circle cx="1519.7" cy="491" r="4.2"/><circle cx="1511.1" cy="490.1" r="4.3"/><circle cx="1513" cy="496.3" r="5"/><circle cx="1535" cy="492.9" r="3.8"/><circle cx="1412.1" cy="507.3" r="4.1"/><circle cx="1546.5" cy="510.6" r="3.9"/><circle cx="1539.8" cy="518.8" r="4.3"/><circle cx="1474.7" cy="529.3" r="3.8"/></g>
<g fill="#4b1036" fill-opacity=".9"><ellipse rx="1.7" ry="1.5" transform="translate(1285.7 321)rotate(106)"/><ellipse rx="3.9" ry="1.7" transform="translate(1344.5 325.3)rotate(82)"/><ellipse rx="1.8" ry="1.3" transform="translate(1352.6 334.4)rotate(124)"/><ellipse rx="2.3" ry="2.1" transform="translate(1391.4 333.5)rotate(147)"/><ellipse rx="2.5" ry="2" transform="translate(1385.1 340.2)rotate(62)"/><ellipse rx="3.1" ry="2.7" transform="translate(1401.4 373.2)rotate(83)"/><ellipse rx="2.6" ry="2.1" transform="translate(1361.2 397.6)rotate(161)"/><ellipse rx="2.6" ry="1.9" transform="translate(1285.2 406.7)rotate(25)"/><ellipse rx="2.4" ry="2.1" transform="translate(1282.3 413.8)rotate(78)"/><ellipse rx="2.3" ry="1.8" transform="translate(1317.2 407.6)rotate(71)"/><ellipse rx="3" ry="2.5" transform="translate(1327.3 408.6)rotate(81)"/><ellipse rx="3.1" ry="2.9" transform="translate(1307.7 413.8)rotate(33)"/><ellipse rx="2.8" ry="2.1" transform="translate(1399 418.1)rotate(67)"/><ellipse rx="1.7" ry="1.4" transform="translate(1421.2 359.8)rotate(84)"/><ellipse rx="3.2" ry="2.7" transform="translate(1413.5 373.2)rotate(18)"/><ellipse rx="3.5" ry="2.4" transform="translate(1412.6 380.4)rotate(115)"/><ellipse rx="2.3" ry="1.8" transform="translate(1442.2 385.6)rotate(86)"/><ellipse rx="2.7" ry="2.2" transform="translate(1485.3 343)rotate(140)"/><ellipse rx="2.7" ry="1.8" transform="translate(1543.6 327.3)rotate(59)"/><ellipse rx="2.4" ry="2.1" transform="translate(1510.1 414.8)rotate(148)"/><ellipse rx="2.7" ry="2.1" transform="translate(1514 414.8)rotate(144)"/><ellipse rx="1.6" ry="1.3" transform="translate(1271.3 430.7)rotate(98)"/><ellipse rx="1.6" ry="1.3" transform="translate(1266.5 444.1)rotate(150)"/><ellipse rx="1.5" ry="1.4" transform="translate(1262.7 456.1)rotate(87)"/><ellipse rx="3.6" ry="1.8" transform="translate(1331.1 434.1)rotate(135)"/><ellipse rx="3.1" ry="2.8" transform="translate(1350.2 429.8)rotate(160)"/><ellipse rx="2.5" ry="2.1" transform="translate(1378.5 443.2)rotate(67)"/><ellipse rx="2.8" ry="2.1" transform="translate(1323.9 451.8)rotate(117)"/><ellipse rx="2.3" ry="2" transform="translate(1335.9 453.7)rotate(143)"/><ellipse rx="1.6" ry="1.3" transform="translate(1377.5 459.4)rotate(119)"/><ellipse rx="3.2" ry="2.5" transform="translate(1391.8 455.6)rotate(38)"/><ellipse rx="2.7" ry="1.8" transform="translate(1345.9 479.1)rotate(36)"/><ellipse rx="2.5" ry="1.9" transform="translate(1390.9 487.2)rotate(176)"/><ellipse rx="2.3" ry="2" transform="translate(1336.4 502.5)rotate(74)"/><ellipse rx="3" ry="2.7" transform="translate(1461.4 450.4)rotate(8)"/><ellipse rx="3.4" ry="2.9" transform="translate(1479.5 435)rotate(76)"/><ellipse rx="2.6" ry="2" transform="translate(1492 437.4)rotate(113)"/><ellipse rx="1.6" ry="1.5" transform="translate(1483.8 442.7)rotate(3)"/><ellipse rx="3.5" ry="2.4" transform="translate(1513 496.3)rotate(112)"/></g>
<g fill="#b8202a" fill-opacity=".9"><ellipse rx="3.9" ry="1.6" transform="translate(1294.7 325.3)rotate(169)"/><ellipse rx="2.4" ry="2" transform="translate(1282.8 347.8)rotate(75)"/><ellipse rx="3.2" ry="2.5" transform="translate(1282.8 396.6)rotate(104)"/><ellipse rx="1.8" ry="1.5" transform="translate(1322.5 510.1)rotate(166)"/><ellipse rx="2.4" ry="2.1" transform="translate(1485.3 437)rotate(171)"/></g>
<g fill="#1f1a72" fill-opacity=".9"><ellipse rx="2.5" ry="2" transform="translate(1313.4 322.5)rotate(3)"/><ellipse rx="2.5" ry="1.8" transform="translate(1275.6 329.2)rotate(1)"/><ellipse rx="3.8" ry="1.4" transform="translate(1285.7 334)rotate(18)"/><ellipse rx="2.8" ry="1.9" transform="translate(1307.7 333.5)rotate(60)"/><ellipse rx="2.5" ry="1.8" transform="translate(1276.1 346.9)rotate(129)"/><ellipse rx="2.6" ry="2.2" transform="translate(1290.9 348.3)rotate(143)"/><ellipse rx="2.8" ry="2" transform="translate(1308.6 356)rotate(158)"/><ellipse rx="2.4" ry="2" transform="translate(1285.2 370.8)rotate(113)"/><ellipse rx="2.7" ry="1.9" transform="translate(1355 328.7)rotate(83)"/><ellipse rx="1.5" ry="1.3" transform="translate(1365.1 320.6)rotate(88)"/><ellipse rx="1.6" ry="1.4" transform="translate(1389 371.3)rotate(38)"/><ellipse rx="2.7" ry="2" transform="translate(1362.7 371.3)rotate(23)"/><ellipse rx="2.5" ry="1.8" transform="translate(1361.2 385.1)rotate(89)"/><ellipse rx="1.7" ry="1.2" transform="translate(1339.7 393.3)rotate(92)"/><ellipse rx="1.7" ry="1.3" transform="translate(1382.8 387.5)rotate(68)"/><ellipse rx="2.4" ry="1.9" transform="translate(1362.7 405.2)rotate(157)"/><ellipse rx="3.5" ry="1.4" transform="translate(1356.4 408.6)rotate(11)"/><ellipse rx="2.8" ry="2.1" transform="translate(1276.6 418.1)rotate(14)"/><ellipse rx="2.7" ry="2.1" transform="translate(1305.7 401.4)rotate(165)"/><ellipse rx="2.7" ry="2" transform="translate(1309.1 403.8)rotate(51)"/><ellipse rx="1.7" ry="1.4" transform="translate(1332.1 415.3)rotate(73)"/><ellipse rx="2.3" ry="1.9" transform="translate(1385.1 416.2)rotate(75)"/><ellipse rx="2.3" ry="2.1" transform="translate(1276.1 423.4)rotate(55)"/><ellipse rx="3.5" ry="1.5" transform="translate(1412.6 334.4)rotate(35)"/><ellipse rx="3" ry="2.8" transform="translate(1417.8 352.6)rotate(61)"/><ellipse rx="2.3" ry="2.1" transform="translate(1424 356.9)rotate(123)"/><ellipse rx="1.6" ry="1.4" transform="translate(1411.1 354.5)rotate(58)"/><ellipse rx="1.7" ry="1.3" transform="translate(1449.9 355.5)rotate(98)"/><ellipse rx="3.8" ry="1.4" transform="translate(1444.1 366.5)rotate(107)"/><ellipse rx="1.7" ry="1.5" transform="translate(1460.9 363.1)rotate(179)"/><ellipse rx="2.8" ry="2.2" transform="translate(1441.7 379.4)rotate(163)"/><ellipse rx="2.6" ry="2.1" transform="translate(1434.6 389.9)rotate(147)"/><ellipse rx="3.6" ry="1.7" transform="translate(1416.4 389.4)rotate(58)"/><ellipse rx="1.5" ry="1.4" transform="translate(1437.9 397.6)rotate(104)"/><ellipse rx="2.6" ry="2" transform="translate(1408.7 400.4)rotate(42)"/><ellipse rx="2.6" ry="1.8" transform="translate(1434.6 406.7)rotate(31)"/><ellipse rx="2.3" ry="2.1" transform="translate(1486.7 347.4)rotate(64)"/><ellipse rx="2.7" ry="2" transform="translate(1492.4 351.7)rotate(155)"/><ellipse rx="1.6" ry="1.4" transform="translate(1466.1 388.5)rotate(99)"/><ellipse rx="2.5" ry="2" transform="translate(1514 338.3)rotate(4)"/><ellipse rx="3.7" ry="1.5" transform="translate(1518.3 351.2)rotate(18)"/><ellipse rx="3.6" ry="1.7" transform="translate(1525.5 328.7)rotate(29)"/><ellipse rx="2.5" ry="2.2" transform="translate(1534.1 321.5)rotate(52)"/><ellipse rx="2.5" ry="1.8" transform="translate(1546 334)rotate(28)"/><ellipse rx="2.6" ry="2" transform="translate(1538.8 337.3)rotate(0)"/><ellipse rx="2.6" ry="2" transform="translate(1535 347.8)rotate(152)"/><ellipse rx="2.8" ry="1.9" transform="translate(1456.1 407.1)rotate(82)"/><ellipse rx="3.5" ry="2.9" transform="translate(1472.4 412.4)rotate(112)"/><ellipse rx="1.6" ry="1.3" transform="translate(1485.3 412.4)rotate(153)"/><ellipse rx="2.3" ry="1.8" transform="translate(1522.6 400.4)rotate(52)"/><ellipse rx="2.3" ry="1.9" transform="translate(1524.5 404.3)rotate(26)"/><ellipse rx="1.8" ry="1.2" transform="translate(1475.2 418.6)rotate(135)"/><ellipse rx="2.7" ry="2.2" transform="translate(1529.3 424.4)rotate(114)"/><ellipse rx="2.6" ry="2" transform="translate(1401.4 441.3)rotate(89)"/><ellipse rx="2.5" ry="2.1" transform="translate(1345.4 442.2)rotate(24)"/><ellipse rx="2.5" ry="1.8" transform="translate(1353.6 444.1)rotate(157)"/><ellipse rx="3.6" ry="1.7" transform="translate(1334.4 443.2)rotate(4)"/><ellipse rx="2.8" ry="2" transform="translate(1316.7 455.1)rotate(63)"/><ellipse rx="2.3" ry="2" transform="translate(1334.4 458.5)rotate(120)"/><ellipse rx="2.5" ry="1.9" transform="translate(1307.7 459.9)rotate(167)"/><ellipse rx="1.7" ry="1.2" transform="translate(1358.8 454.7)rotate(49)"/><ellipse rx="2.5" ry="2.1" transform="translate(1404.3 459.4)rotate(94)"/><ellipse rx="3.6" ry="1.4" transform="translate(1343.1 466.1)rotate(161)"/><ellipse rx="2.4" ry="2.1" transform="translate(1345.9 483.4)rotate(46)"/><ellipse rx="4" ry="1.8" transform="translate(1371.8 477.6)rotate(73)"/><ellipse rx="2.5" ry="1.8" transform="translate(1385.6 479.1)rotate(69)"/><ellipse rx="2.6" ry="2.1" transform="translate(1275.1 491)rotate(163)"/><ellipse rx="2.6" ry="1.8" transform="translate(1295.2 492.4)rotate(40)"/><ellipse rx="2.3" ry="1.8" transform="translate(1304.3 491.5)rotate(19)"/><ellipse rx="2.6" ry="2.1" transform="translate(1338.3 495.8)rotate(152)"/><ellipse rx="4.1" ry="1.5" transform="translate(1342.6 507.3)rotate(91)"/><ellipse rx="1.8" ry="1.2" transform="translate(1377 498.7)rotate(78)"/><ellipse rx="2.5" ry="2.2" transform="translate(1347.8 518.8)rotate(32)"/><ellipse rx="2.4" ry="2.1" transform="translate(1346.4 525.9)rotate(33)"/><ellipse rx="4" ry="1.7" transform="translate(1310.1 529.3)rotate(152)"/><ellipse rx="2.7" ry="2" transform="translate(1275.6 529.3)rotate(115)"/><ellipse rx="2.7" ry="2.1" transform="translate(1270.3 532.1)rotate(16)"/><ellipse rx="3.5" ry="1.6" transform="translate(1262.7 521.6)rotate(132)"/><ellipse rx="1.6" ry="1.3" transform="translate(1333.5 533.1)rotate(94)"/><ellipse rx="2.3" ry="1.8" transform="translate(1424.5 440.8)rotate(34)"/><ellipse rx="2.6" ry="2" transform="translate(1431.7 445.1)rotate(101)"/><ellipse rx="2.3" ry="1.8" transform="translate(1435.5 444.6)rotate(41)"/><ellipse rx="1.6" ry="1.2" transform="translate(1446.5 441.7)rotate(166)"/><ellipse rx="1.8" ry="1.2" transform="translate(1459.4 441.7)rotate(156)"/><ellipse rx="3.9" ry="1.7" transform="translate(1435 452.3)rotate(75)"/><ellipse rx="3.5" ry="1.7" transform="translate(1405.9 458.5)rotate(44)"/><ellipse rx="3.6" ry="1.5" transform="translate(1427.4 465.2)rotate(36)"/><ellipse rx="4" ry="1.5" transform="translate(1498.7 453.2)rotate(152)"/><ellipse rx="2.5" ry="2" transform="translate(1519.7 449.9)rotate(160)"/><ellipse rx="2.6" ry="1.8" transform="translate(1534.5 438.9)rotate(27)"/><ellipse rx="2.4" ry="2.1" transform="translate(1526.4 427.4)rotate(70)"/><ellipse rx="2.5" ry="1.9" transform="translate(1536.9 426.4)rotate(18)"/><ellipse rx="2.5" ry="2.1" transform="translate(1544.6 429.3)rotate(162)"/><ellipse rx="2.4" ry="2.2" transform="translate(1534.5 467.1)rotate(39)"/><ellipse rx="2.4" ry="2.1" transform="translate(1486.2 471.9)rotate(118)"/><ellipse rx="2.7" ry="2.1" transform="translate(1425 485.3)rotate(175)"/><ellipse rx="2.7" ry="2.2" transform="translate(1461.4 487.7)rotate(2)"/><ellipse rx="2.3" ry="2.2" transform="translate(1465.2 492.4)rotate(132)"/><ellipse rx="2.3" ry="1.9" transform="translate(1521.6 482.9)rotate(136)"/><ellipse rx="2.7" ry="2.1" transform="translate(1519.7 491)rotate(117)"/><ellipse rx="2.8" ry="2.2" transform="translate(1511.1 490.1)rotate(32)"/><ellipse rx="2.3" ry="1.9" transform="translate(1535 492.9)rotate(162)"/><ellipse rx="1.7" ry="1.4" transform="translate(1542.7 490.5)rotate(28)"/><ellipse rx="2.4" ry="2" transform="translate(1546.5 510.6)rotate(4)"/></g>
<g fill="#b3b3c4" fill-opacity=".8"><ellipse rx="2.7" ry="1.8" transform="translate(1303.8 336.8)rotate(155)"/><ellipse rx="2.7" ry="1.9" transform="translate(1279 354)rotate(115)"/><ellipse rx="1.5" ry="1.5" transform="translate(1335.9 349.3)rotate(136)"/><ellipse rx="2.7" ry="2" transform="translate(1441.3 321)rotate(14)"/><ellipse rx="1.8" ry="1.4" transform="translate(1493.9 325.8)rotate(76)"/><ellipse rx="2.4" ry="2.1" transform="translate(1467.1 374.6)rotate(15)"/><ellipse rx="1.5" ry="1.4" transform="translate(1481 405.2)rotate(30)"/><ellipse rx="2.4" ry="2.2" transform="translate(1511.6 396.6)rotate(161)"/><ellipse rx="2.6" ry="2.1" transform="translate(1541.2 400.4)rotate(172)"/><ellipse rx="1.6" ry="1.5" transform="translate(1273.2 453.7)rotate(43)"/><ellipse rx="1.7" ry="1.2" transform="translate(1268.4 503)rotate(5)"/><ellipse rx="1.7" ry="1.4" transform="translate(1499.6 472.4)rotate(58)"/><ellipse rx="1.7" ry="1.2" transform="translate(1474.3 487.2)rotate(145)"/><ellipse rx="1.8" ry="1.4" transform="translate(1407.3 474.7)rotate(128)"/></g>
<g fill="#6b3a92" fill-opacity=".9"><ellipse rx="2.5" ry="1.8" transform="translate(1305.3 343)rotate(17)"/><ellipse rx="2.6" ry="2.1" transform="translate(1318.2 352.1)rotate(74)"/><ellipse rx="3.1" ry="2.8" transform="translate(1265.6 384.7)rotate(48)"/><ellipse rx="2.7" ry="1.9" transform="translate(1370.3 340.7)rotate(52)"/><ellipse rx="3.3" ry="2.6" transform="translate(1388.5 364.1)rotate(28)"/><ellipse rx="2.7" ry="1.9" transform="translate(1354.1 388)rotate(111)"/><ellipse rx="2.4" ry="1.9" transform="translate(1369.4 411)rotate(66)"/><ellipse rx="2.7" ry="2.2" transform="translate(1300 399.5)rotate(179)"/><ellipse rx="4" ry="1.8" transform="translate(1345.9 418.6)rotate(150)"/><ellipse rx="2.7" ry="2.2" transform="translate(1402.4 409.1)rotate(15)"/><ellipse rx="2.8" ry="1.8" transform="translate(1368.9 422.9)rotate(1)"/><ellipse rx="2.7" ry="2" transform="translate(1404.9 323.9)rotate(9)"/><ellipse rx="2.5" ry="2.1" transform="translate(1420.2 373.2)rotate(167)"/><ellipse rx="2.7" ry="2" transform="translate(1432.2 394.7)rotate(36)"/><ellipse rx="2.5" ry="2.2" transform="translate(1481.4 332.5)rotate(7)"/><ellipse rx="2.5" ry="2.1" transform="translate(1472.4 361.7)rotate(26)"/><ellipse rx="2.6" ry="1.8" transform="translate(1471.9 367.4)rotate(133)"/><ellipse rx="2.5" ry="2" transform="translate(1480.5 379.9)rotate(27)"/><ellipse rx="2.6" ry="1.8" transform="translate(1512.1 332.5)rotate(135)"/><ellipse rx="4" ry="1.5" transform="translate(1531.2 370.8)rotate(75)"/><ellipse rx="2.3" ry="2" transform="translate(1459 398.1)rotate(179)"/><ellipse rx="2.4" ry="2.2" transform="translate(1470 403.8)rotate(178)"/><ellipse rx="2.7" ry="1.9" transform="translate(1473.8 405.7)rotate(12)"/><ellipse rx="2.6" ry="1.9" transform="translate(1506.8 402.8)rotate(36)"/><ellipse rx="2.6" ry="1.9" transform="translate(1350.2 435.5)rotate(49)"/><ellipse rx="2.6" ry="2" transform="translate(1371.8 427.4)rotate(179)"/><ellipse rx="2.5" ry="2.1" transform="translate(1389.9 431.2)rotate(59)"/><ellipse rx="2.3" ry="1.8" transform="translate(1378.5 437)rotate(171)"/><ellipse rx="2.5" ry="2" transform="translate(1314.4 443.2)rotate(146)"/><ellipse rx="2.4" ry="2" transform="translate(1298.1 457.5)rotate(28)"/><ellipse rx="2.7" ry="2.2" transform="translate(1294.7 471.9)rotate(164)"/><ellipse rx="3.5" ry="1.8" transform="translate(1354.5 479.5)rotate(28)"/><ellipse rx="2.6" ry="2.1" transform="translate(1374.6 484.8)rotate(38)"/><ellipse rx="2.8" ry="1.8" transform="translate(1312.9 489.1)rotate(89)"/><ellipse rx="1.8" ry="1.5" transform="translate(1321.5 500.1)rotate(152)"/><ellipse rx="2.8" ry="1.9" transform="translate(1351.7 510.1)rotate(130)"/><ellipse rx="2.6" ry="2.1" transform="translate(1360.8 503.9)rotate(138)"/><ellipse rx="2.7" ry="2.1" transform="translate(1372.2 493.9)rotate(44)"/><ellipse rx="2.4" ry="1.9" transform="translate(1399.5 497.7)rotate(154)"/><ellipse rx="2.7" ry="2.2" transform="translate(1397.6 504.4)rotate(64)"/><ellipse rx="3.4" ry="2.6" transform="translate(1387.1 510.6)rotate(96)"/><ellipse rx="2.4" ry="2.1" transform="translate(1396.6 514)rotate(42)"/><ellipse rx="2.8" ry="1.9" transform="translate(1339.2 516.8)rotate(137)"/><ellipse rx="2.3" ry="2.1" transform="translate(1338.8 523.1)rotate(166)"/><ellipse rx="2.6" ry="2.2" transform="translate(1340.2 528.3)rotate(84)"/><ellipse rx="3.9" ry="1.6" transform="translate(1423.1 430.7)rotate(140)"/><ellipse rx="2.4" ry="2.1" transform="translate(1510.1 431.7)rotate(21)"/><ellipse rx="2.5" ry="2" transform="translate(1514 441.3)rotate(62)"/><ellipse rx="2.7" ry="2" transform="translate(1529.8 447.5)rotate(127)"/><ellipse rx="2.7" ry="1.8" transform="translate(1535.5 476.7)rotate(126)"/><ellipse rx="2.6" ry="1.9" transform="translate(1452.7 478.6)rotate(174)"/><ellipse rx="2.3" ry="1.8" transform="translate(1443.2 488.6)rotate(134)"/><ellipse rx="2.5" ry="2.1" transform="translate(1446 492)rotate(126)"/><ellipse rx="2.6" ry="2" transform="translate(1412.1 507.3)rotate(150)"/><ellipse rx="2.8" ry="1.8" transform="translate(1539.8 518.8)rotate(147)"/><ellipse rx="2.3" ry="1.8" transform="translate(1474.7 529.3)rotate(132)"/></g>
<g fill="#9db1e2" fill-opacity=".8"><ellipse rx="2.5" ry="2.1" transform="translate(1317.7 343.5)rotate(92)"/><ellipse rx="2.6" ry="2.1" transform="translate(1298.1 373.7)rotate(154)"/><ellipse rx="2.8" ry="1.9" transform="translate(1378.5 346.9)rotate(91)"/><ellipse rx="2.8" ry="1.9" transform="translate(1412.6 323.9)rotate(170)"/><ellipse rx="3.4" ry="1.6" transform="translate(1496.8 347.4)rotate(149)"/><ellipse rx="2.7" ry="2.1" transform="translate(1517.3 367.4)rotate(82)"/><ellipse rx="2.4" ry="2" transform="translate(1299.5 465.7)rotate(159)"/><ellipse rx="2.7" ry="1.9" transform="translate(1276.6 503.4)rotate(39)"/><ellipse rx="2.4" ry="1.8" transform="translate(1266.5 514)rotate(2)"/><ellipse rx="2.3" ry="2" transform="translate(1486.2 456.6)rotate(11)"/><ellipse rx="2.7" ry="2" transform="translate(1495.8 488.6)rotate(168)"/><ellipse rx="2.5" ry="2" transform="translate(1426 514.4)rotate(178)"/><ellipse rx="2.4" ry="1.8" transform="translate(1428.4 529.8)rotate(98)"/></g>
<g fill="#3a45ad" fill-opacity=".9"><ellipse rx="3.7" ry="1.7" transform="translate(1303.4 367.4)rotate(39)"/><ellipse rx="3.5" ry="2.8" transform="translate(1389.9 322.5)rotate(141)"/><ellipse rx="2.4" ry="2" transform="translate(1404.3 323.9)rotate(50)"/><ellipse rx="4.1" ry="1.6" transform="translate(1271.8 405.7)rotate(14)"/><ellipse rx="2.8" ry="2" transform="translate(1426.9 401.9)rotate(102)"/><ellipse rx="2.4" ry="1.9" transform="translate(1538.4 344)rotate(74)"/><ellipse rx="2.4" ry="2" transform="translate(1463.7 406.7)rotate(140)"/><ellipse rx="2.7" ry="1.9" transform="translate(1382.3 483.4)rotate(22)"/><ellipse rx="2.8" ry="2.1" transform="translate(1391.8 497.2)rotate(61)"/><ellipse rx="1.5" ry="1.3" transform="translate(1476.2 462.3)rotate(149)"/><ellipse rx="2.5" ry="2.2" transform="translate(1515.9 486.2)rotate(40)"/><ellipse rx="1.7" ry="1.3" transform="translate(1495.8 533.1)rotate(66)"/></g>
<g fill="#e290b6" fill-opacity=".8"><ellipse rx="1.6" ry="1.2" transform="translate(1309.6 380.4)rotate(66)"/><ellipse rx="3.2" ry="2.4" transform="translate(1369.8 340.2)rotate(133)"/><ellipse rx="3.2" ry="2.5" transform="translate(1353.6 388.5)rotate(176)"/><ellipse rx="2.7" ry="1.9" transform="translate(1421.7 347.4)rotate(78)"/><ellipse rx="3.5" ry="2.4" transform="translate(1512.5 346.4)rotate(95)"/><ellipse rx="1.7" ry="1.3" transform="translate(1290.4 439.8)rotate(127)"/><ellipse rx="2.4" ry="1.9" transform="translate(1388 439.3)rotate(114)"/><ellipse rx="3.4" ry="2.5" transform="translate(1313.9 443.7)rotate(60)"/><ellipse rx="2.7" ry="2" transform="translate(1391.8 477.6)rotate(74)"/><ellipse rx="3.3" ry="2.7" transform="translate(1312.4 488.6)rotate(61)"/><ellipse rx="2.4" ry="2" transform="translate(1366 498.7)rotate(91)"/><ellipse rx="2.5" ry="1.8" transform="translate(1383.2 501.5)rotate(103)"/><ellipse rx="3.2" ry="2.4" transform="translate(1529.3 447)rotate(152)"/><ellipse rx="2.5" ry="2.2" transform="translate(1545.5 460.9)rotate(74)"/><ellipse rx="2.5" ry="2.2" transform="translate(1505.4 463.3)rotate(11)"/><ellipse rx="2.3" ry="2.2" transform="translate(1430.7 485.7)rotate(63)"/><ellipse rx="2.5" ry="1.9" transform="translate(1408.7 497.7)rotate(120)"/><ellipse rx="1.7" ry="1.4" transform="translate(1440.3 529.3)rotate(86)"/></g>
</g>
<rect x="1258.65" y="312.9" width="292.2" height="223.7" fill="none" stroke="#151515" stroke-width="3.8" rx="2"/>
<line x1="1401" y1="288.5" x2="1541.5" y2="288.5" stroke="#000" stroke-width="4.2" stroke-linecap="butt"/>
<line x1="1402.2" y1="282" x2="1402.2" y2="295" stroke="#000" stroke-width="2.6" stroke-linecap="butt"/>
<line x1="1540.3" y1="282" x2="1540.3" y2="295" stroke="#000" stroke-width="2.6" stroke-linecap="butt"/>
<text x="1471.3" y="279" font-size="25" font-weight="bold" font-style="normal" text-anchor="middle" class="b">150µm</text>
<line x1="1401" y1="524.4" x2="1541.5" y2="524.4" stroke="#000" stroke-width="4.2" stroke-linecap="butt"/>
<line x1="1402.2" y1="517.9" x2="1402.2" y2="530.9" stroke="#000" stroke-width="2.6" stroke-linecap="butt"/>
<line x1="1540.3" y1="517.9" x2="1540.3" y2="530.9" stroke="#000" stroke-width="2.6" stroke-linecap="butt"/>
<text x="1471.3" y="514.4" font-size="25" font-weight="bold" font-style="normal" text-anchor="middle" class="b">150µm</text>
<text x="1871" y="81.5" font-size="30" font-weight="bold" font-style="normal" text-anchor="middle" class="b">3-nitrotyrosine (NT)</text>
<line x1="1695" y1="114.65" x2="1695" y2="484.6" stroke="#000" stroke-width="4.2" stroke-linecap="butt"/>
<line x1="1686.9" y1="116.75" x2="1695" y2="116.75" stroke="#000" stroke-width="4.2" stroke-linecap="butt"/>
<text x="1683.4" y="126.59" font-size="27.5" font-weight="bold" font-style="normal" text-anchor="end" class="b">10</text>
<line x1="1686.9" y1="189.5" x2="1695" y2="189.5" stroke="#000" stroke-width="4.2" stroke-linecap="butt"/>
<text x="1683.4" y="199.34" font-size="27.5" font-weight="bold" font-style="normal" text-anchor="end" class="b">8</text>
<line x1="1686.9" y1="262.5" x2="1695" y2="262.5" stroke="#000" stroke-width="4.2" stroke-linecap="butt"/>
<text x="1683.4" y="272.35" font-size="27.5" font-weight="bold" font-style="normal" text-anchor="end" class="b">6</text>
<line x1="1686.9" y1="336" x2="1695" y2="336" stroke="#000" stroke-width="4.2" stroke-linecap="butt"/>
<text x="1683.4" y="345.85" font-size="27.5" font-weight="bold" font-style="normal" text-anchor="end" class="b">4</text>
<line x1="1686.9" y1="408.75" x2="1695" y2="408.75" stroke="#000" stroke-width="4.2" stroke-linecap="butt"/>
<text x="1683.4" y="418.6" font-size="27.5" font-weight="bold" font-style="normal" text-anchor="end" class="b">2</text>
<line x1="1686.9" y1="482.5" x2="1695" y2="482.5" stroke="#000" stroke-width="4.2" stroke-linecap="butt"/>
<text x="1683.4" y="492.35" font-size="27.5" font-weight="bold" font-style="normal" text-anchor="end" class="b">0</text>
<line x1="1687" y1="482.5" x2="2046.75" y2="482.5" stroke="#000" stroke-width="4.2" stroke-linecap="butt"/>
<line x1="1781.75" y1="482.5" x2="1781.75" y2="490.6" stroke="#000" stroke-width="4.2" stroke-linecap="butt"/>
<line x1="1957" y1="482.5" x2="1957" y2="490.6" stroke="#000" stroke-width="4.2" stroke-linecap="butt"/>
<text x="1639" y="290" font-size="30" font-weight="bold" font-style="normal" text-anchor="middle" transform="rotate(-90 1639 290)" class="b">3-nitrotyrosine area (%)</text>
<text x="1789" y="533" font-size="29" font-weight="bold" font-style="normal" text-anchor="middle" class="b">Control</text>
<text x="1789" y="568" font-size="29" font-weight="bold" font-style="normal" text-anchor="middle" class="b">AAV</text>
<text x="1965" y="533" font-size="29" font-weight="bold" font-style="italic" text-anchor="middle" class="b">Noxo1</text>
<text x="1965" y="568" font-size="29" font-weight="bold" font-style="normal" text-anchor="middle" class="b">AAV</text>
<circle cx="1782" cy="417.3" r="4.4" fill="#fff" stroke="#000" stroke-width="4.1"/>
<circle cx="1782" cy="459.1" r="4.4" fill="#fff" stroke="#000" stroke-width="4.1"/>
<circle cx="1768.8" cy="437" r="4.4" fill="#fff" stroke="#000" stroke-width="4.1"/>
<circle cx="1781.8" cy="439" r="4.4" fill="#fff" stroke="#000" stroke-width="4.1"/>
<circle cx="1795.3" cy="434.5" r="4.4" fill="#fff" stroke="#000" stroke-width="4.1"/>
<line x1="1736" y1="437.4" x2="1828" y2="437.4" stroke="#000" stroke-width="4.3" stroke-linecap="butt"/>
<line x1="1759" y1="431" x2="1805" y2="431" stroke="#000" stroke-width="4.3" stroke-linecap="butt"/>
<line x1="1759" y1="444.3" x2="1805" y2="444.3" stroke="#000" stroke-width="4.3" stroke-linecap="butt"/>
<line x1="1782" y1="431" x2="1782" y2="444.3" stroke="#000" stroke-width="4.3" stroke-linecap="butt"/>
<line x1="1911.3" y1="274.8" x2="2003.3" y2="274.8" stroke="#000" stroke-width="4.3" stroke-linecap="butt"/>
<line x1="1934.3" y1="245" x2="1980.3" y2="245" stroke="#000" stroke-width="4.3" stroke-linecap="butt"/>
<line x1="1934.3" y1="304.7" x2="1980.3" y2="304.7" stroke="#000" stroke-width="4.3" stroke-linecap="butt"/>
<line x1="1957.3" y1="245" x2="1957.3" y2="304.7" stroke="#000" stroke-width="4.3" stroke-linecap="butt"/>
<circle cx="1957.3" cy="192.6" r="6.6" fill="#000"/>
<circle cx="1963.4" cy="250" r="6.6" fill="#000"/>
<circle cx="1951" cy="255.7" r="6.6" fill="#000"/>
<circle cx="1957.3" cy="307" r="6.6" fill="#000"/>
<circle cx="1957.3" cy="370.1" r="6.6" fill="#000"/>
<line x1="1787.3" y1="145.3" x2="1949" y2="145.3" stroke="#000" stroke-width="4" stroke-linecap="butt"/>
<line x1="1788.2" y1="138.5" x2="1788.2" y2="152.1" stroke="#000" stroke-width="2.4" stroke-linecap="butt"/>
<line x1="1948.1" y1="138.5" x2="1948.1" y2="152.1" stroke="#000" stroke-width="2.4" stroke-linecap="butt"/>
<text class="r" x="1865.4" y="132.5" font-size="29" font-weight="normal" text-anchor="middle" xml:space="preserve"><tspan font-style="italic">P</tspan> = 0.0001</text>
<rect x="144.1" y="894.8" width="71.7" height="191.7" fill="#fff" stroke="#000" stroke-width="4" stroke-linejoin="round"/>
<rect x="281.1" y="831.1" width="71.9" height="255.4" fill="#333" stroke="#000" stroke-width="4" stroke-linejoin="round"/>
<rect x="418.2" y="888.7" width="72.1" height="197.8" fill="#fff" stroke="#000" stroke-width="4" stroke-linejoin="round"/>
<rect x="555.2" y="852.4" width="72.6" height="234.1" fill="#333" stroke="#000" stroke-width="4" stroke-linejoin="round"/>
<line x1="111.75" y1="718.9" x2="111.75" y2="1088.6" stroke="#000" stroke-width="4.2" stroke-linecap="butt"/>
<line x1="103.65" y1="721" x2="111.75" y2="721" stroke="#000" stroke-width="4.2" stroke-linecap="butt"/>
<text x="100.15" y="730.85" font-size="27.5" font-weight="bold" font-style="normal" text-anchor="end" class="b">50</text>
<line x1="103.65" y1="793.5" x2="111.75" y2="793.5" stroke="#000" stroke-width="4.2" stroke-linecap="butt"/>
<text x="100.15" y="803.35" font-size="27.5" font-weight="bold" font-style="normal" text-anchor="end" class="b">40</text>
<line x1="103.65" y1="866.75" x2="111.75" y2="866.75" stroke="#000" stroke-width="4.2" stroke-linecap="butt"/>
<text x="100.15" y="876.6" font-size="27.5" font-weight="bold" font-style="normal" text-anchor="end" class="b">30</text>
<line x1="103.65" y1="939.75" x2="111.75" y2="939.75" stroke="#000" stroke-width="4.2" stroke-linecap="butt"/>
<text x="100.15" y="949.6" font-size="27.5" font-weight="bold" font-style="normal" text-anchor="end" class="b">20</text>
<line x1="103.65" y1="1013.25" x2="111.75" y2="1013.25" stroke="#000" stroke-width="4.2" stroke-linecap="butt"/>
<text x="100.15" y="1023.1" font-size="27.5" font-weight="bold" font-style="normal" text-anchor="end" class="b">10</text>
<line x1="103.65" y1="1086.5" x2="111.75" y2="1086.5" stroke="#000" stroke-width="4.2" stroke-linecap="butt"/>
<text x="100.15" y="1096.35" font-size="27.5" font-weight="bold" font-style="normal" text-anchor="end" class="b">0</text>
<line x1="103.65" y1="1086.5" x2="662.5" y2="1086.5" stroke="#000" stroke-width="4.2" stroke-linecap="butt"/>
<line x1="179.5" y1="1086.5" x2="179.5" y2="1094.6" stroke="#000" stroke-width="4.2" stroke-linecap="butt"/>
<line x1="317" y1="1086.5" x2="317" y2="1094.6" stroke="#000" stroke-width="4.2" stroke-linecap="butt"/>
<line x1="453.75" y1="1086.5" x2="453.75" y2="1094.6" stroke="#000" stroke-width="4.2" stroke-linecap="butt"/>
<line x1="591.5" y1="1086.5" x2="591.5" y2="1094.6" stroke="#000" stroke-width="4.2" stroke-linecap="butt"/>
<circle cx="179.8" cy="848.3" r="4.4" fill="#fff" stroke="#000" stroke-width="4.1"/>
<circle cx="179.8" cy="878.4" r="4.4" fill="#fff" stroke="#000" stroke-width="4.1"/>
<circle cx="179.8" cy="892.3" r="4.4" fill="#fff" stroke="#000" stroke-width="4.1"/>
<circle cx="173.2" cy="906.1" r="4.4" fill="#fff" stroke="#000" stroke-width="4.1"/>
<circle cx="193.5" cy="906.1" r="4.4" fill="#fff" stroke="#000" stroke-width="4.1"/>
<circle cx="186.4" cy="910.2" r="4.4" fill="#fff" stroke="#000" stroke-width="4.1"/>
<circle cx="173.2" cy="922.7" r="4.4" fill="#fff" stroke="#000" stroke-width="4.1"/>
<line x1="180" y1="894.8" x2="180" y2="885.4" stroke="#000" stroke-width="4.2" stroke-linecap="butt"/>
<line x1="162" y1="885.4" x2="198" y2="885.4" stroke="#000" stroke-width="4.2" stroke-linecap="butt"/>
<circle cx="317.1" cy="769.5" r="4.4" fill="#fff" stroke="#000" stroke-width="4.1"/>
<circle cx="317.1" cy="809.8" r="4.4" fill="#fff" stroke="#000" stroke-width="4.1"/>
<circle cx="310.1" cy="829.9" r="4.4" fill="#fff" stroke="#000" stroke-width="4.1"/>
<circle cx="323.6" cy="841.9" r="4.4" fill="#fff" stroke="#000" stroke-width="4.1"/>
<circle cx="303.8" cy="849.3" r="4.4" fill="#fff" stroke="#000" stroke-width="4.1"/>
<circle cx="316.9" cy="858.5" r="4.4" fill="#fff" stroke="#000" stroke-width="4.1"/>
<circle cx="330.4" cy="857.6" r="4.4" fill="#fff" stroke="#000" stroke-width="4.1"/>
<line x1="317" y1="831.1" x2="317" y2="818.8" stroke="#000" stroke-width="4.2" stroke-linecap="butt"/>
<line x1="299" y1="818.8" x2="335" y2="818.8" stroke="#000" stroke-width="4.2" stroke-linecap="butt"/>
<circle cx="454.3" cy="867" r="4.4" fill="#fff" stroke="#000" stroke-width="4.1"/>
<circle cx="460.9" cy="871.4" r="4.4" fill="#fff" stroke="#000" stroke-width="4.1"/>
<circle cx="440.6" cy="881.7" r="4.4" fill="#fff" stroke="#000" stroke-width="4.1"/>
<circle cx="447.4" cy="887.3" r="4.4" fill="#fff" stroke="#000" stroke-width="4.1"/>
<circle cx="460.5" cy="898.7" r="4.4" fill="#fff" stroke="#000" stroke-width="4.1"/>
<circle cx="454.3" cy="924.9" r="4.4" fill="#fff" stroke="#000" stroke-width="4.1"/>
<line x1="454" y1="888.7" x2="454" y2="879.9" stroke="#000" stroke-width="4.2" stroke-linecap="butt"/>
<line x1="436" y1="879.9" x2="472" y2="879.9" stroke="#000" stroke-width="4.2" stroke-linecap="butt"/>
<circle cx="591.4" cy="792.2" r="4.4" fill="#fff" stroke="#000" stroke-width="4.1"/>
<circle cx="591.4" cy="829.5" r="4.4" fill="#fff" stroke="#000" stroke-width="4.1"/>
<circle cx="598.2" cy="834.1" r="4.4" fill="#fff" stroke="#000" stroke-width="4.1"/>
<circle cx="585.1" cy="844.3" r="4.4" fill="#fff" stroke="#000" stroke-width="4.1"/>
<circle cx="591.4" cy="867" r="4.4" fill="#fff" stroke="#000" stroke-width="4.1"/>
<circle cx="584.8" cy="899.8" r="4.4" fill="#fff" stroke="#000" stroke-width="4.1"/>
<circle cx="598.2" cy="898.2" r="4.4" fill="#fff" stroke="#000" stroke-width="4.1"/>
<line x1="591.5" y1="852.4" x2="591.5" y2="836.9" stroke="#000" stroke-width="4.2" stroke-linecap="butt"/>
<line x1="573.5" y1="836.9" x2="609.5" y2="836.9" stroke="#000" stroke-width="4.2" stroke-linecap="butt"/>
<circle cx="179.8" cy="892.3" r="6.3" fill="#000"/>
<text x="39" y="901.3" font-size="29" font-weight="bold" font-style="normal" text-anchor="middle" transform="rotate(-90 39 901.3)" class="n">RVSP (mmHg)</text>
<text x="172.75" y="1121.5" font-size="27.7" font-weight="bold" font-style="normal" text-anchor="middle" class="b">Normoxia</text>
<text x="312" y="1121.5" font-size="27.7" font-weight="bold" font-style="normal" text-anchor="middle" class="b">Hypoxia</text>
<text x="457" y="1121.5" font-size="27.7" font-weight="bold" font-style="normal" text-anchor="middle" class="b">Normoxia</text>
<text x="597.5" y="1121.5" font-size="27.7" font-weight="bold" font-style="normal" text-anchor="middle" class="b">Hypoxia</text>
<line x1="144.5" y1="1146" x2="357.5" y2="1146" stroke="#000" stroke-width="4" stroke-linecap="butt"/>
<line x1="145.4" y1="1139.2" x2="145.4" y2="1152.8" stroke="#000" stroke-width="2.4" stroke-linecap="butt"/>
<line x1="356.6" y1="1139.2" x2="356.6" y2="1152.8" stroke="#000" stroke-width="2.4" stroke-linecap="butt"/>
<line x1="419" y1="1146" x2="631" y2="1146" stroke="#000" stroke-width="4" stroke-linecap="butt"/>
<line x1="419.9" y1="1139.2" x2="419.9" y2="1152.8" stroke="#000" stroke-width="2.4" stroke-linecap="butt"/>
<line x1="630.1" y1="1139.2" x2="630.1" y2="1152.8" stroke="#000" stroke-width="2.4" stroke-linecap="butt"/>
<text x="247.5" y="1189.8" font-size="29" font-weight="bold" font-style="normal" text-anchor="middle" class="b">WT</text>
<text class="b" x="524.6" y="1189.8" font-size="29" font-weight="bold" font-style="italic" text-anchor="middle">Noxo1<tspan font-size="19" dy="-8.5" dx="1" stroke="none" font-style="normal">-/-</tspan></text>
<line x1="179" y1="663.5" x2="439" y2="663.5" stroke="#000" stroke-width="4" stroke-linecap="butt"/>
<line x1="179.9" y1="656.7" x2="179.9" y2="670.3" stroke="#000" stroke-width="2.4" stroke-linecap="butt"/>
<line x1="438.1" y1="656.7" x2="438.1" y2="670.3" stroke="#000" stroke-width="2.4" stroke-linecap="butt"/>
<text class="r" x="308.5" y="653" font-size="29" font-weight="normal" text-anchor="middle" xml:space="preserve"><tspan font-style="italic">P</tspan> = 0.65 (NS)</text>
<line x1="455.5" y1="663.5" x2="589.25" y2="663.5" stroke="#000" stroke-width="4" stroke-linecap="butt"/>
<line x1="456.4" y1="656.7" x2="456.4" y2="670.3" stroke="#000" stroke-width="2.4" stroke-linecap="butt"/>
<line x1="588.35" y1="656.7" x2="588.35" y2="670.3" stroke="#000" stroke-width="2.4" stroke-linecap="butt"/>
<text class="r" x="522" y="653" font-size="29" font-weight="normal" text-anchor="middle" xml:space="preserve"><tspan font-style="italic">P</tspan> = 0.039</text>
<line x1="179" y1="724" x2="312.5" y2="724" stroke="#000" stroke-width="4" stroke-linecap="butt"/>
<line x1="179.9" y1="717.2" x2="179.9" y2="730.8" stroke="#000" stroke-width="2.4" stroke-linecap="butt"/>
<line x1="311.6" y1="717.2" x2="311.6" y2="730.8" stroke="#000" stroke-width="2.4" stroke-linecap="butt"/>
<text class="r" x="247.5" y="714.5" font-size="29" font-weight="normal" text-anchor="middle" xml:space="preserve"><tspan font-style="italic">P</tspan> = 0.0004</text>
<line x1="329.5" y1="724" x2="589.25" y2="724" stroke="#000" stroke-width="4" stroke-linecap="butt"/>
<line x1="330.4" y1="717.2" x2="330.4" y2="730.8" stroke="#000" stroke-width="2.4" stroke-linecap="butt"/>
<line x1="588.35" y1="717.2" x2="588.35" y2="730.8" stroke="#000" stroke-width="2.4" stroke-linecap="butt"/>
<text class="r" x="460" y="714.5" font-size="29" font-weight="normal" text-anchor="middle" xml:space="preserve"><tspan font-style="italic">P</tspan> = 0.2 (NS)</text>
<rect x="858.2" y="922.9" width="72.2" height="164.85" fill="#fff" stroke="#000" stroke-width="4" stroke-linejoin="round"/>
<rect x="995.3" y="848.7" width="72.6" height="239.05" fill="#333" stroke="#000" stroke-width="4" stroke-linejoin="round"/>
<rect x="1132.7" y="925" width="72.2" height="162.75" fill="#fff" stroke="#000" stroke-width="4" stroke-linejoin="round"/>
<rect x="1269.8" y="853" width="72.2" height="234.75" fill="#333" stroke="#000" stroke-width="4" stroke-linejoin="round"/>
<line x1="825.5" y1="720.15" x2="825.5" y2="1089.85" stroke="#000" stroke-width="4.2" stroke-linecap="butt"/>
<line x1="817.4" y1="722.25" x2="825.5" y2="722.25" stroke="#000" stroke-width="4.2" stroke-linecap="butt"/>
<text x="813.9" y="732.1" font-size="27.5" font-weight="bold" font-style="normal" text-anchor="end" class="b">0.6</text>
<line x1="817.4" y1="844.75" x2="825.5" y2="844.75" stroke="#000" stroke-width="4.2" stroke-linecap="butt"/>
<text x="813.9" y="854.6" font-size="27.5" font-weight="bold" font-style="normal" text-anchor="end" class="b">0.4</text>
<line x1="817.4" y1="967" x2="825.5" y2="967" stroke="#000" stroke-width="4.2" stroke-linecap="butt"/>
<text x="813.9" y="976.85" font-size="27.5" font-weight="bold" font-style="normal" text-anchor="end" class="b">0.2</text>
<line x1="817.4" y1="1087.75" x2="825.5" y2="1087.75" stroke="#000" stroke-width="4.2" stroke-linecap="butt"/>
<text x="813.9" y="1097.6" font-size="27.5" font-weight="bold" font-style="normal" text-anchor="end" class="b">0.0</text>
<line x1="817.4" y1="1087.75" x2="1377" y2="1087.75" stroke="#000" stroke-width="4.2" stroke-linecap="butt"/>
<line x1="894.25" y1="1087.75" x2="894.25" y2="1095.85" stroke="#000" stroke-width="4.2" stroke-linecap="butt"/>
<line x1="1031.5" y1="1087.75" x2="1031.5" y2="1095.85" stroke="#000" stroke-width="4.2" stroke-linecap="butt"/>
<line x1="1168" y1="1087.75" x2="1168" y2="1095.85" stroke="#000" stroke-width="4.2" stroke-linecap="butt"/>
<line x1="1306" y1="1087.75" x2="1306" y2="1095.85" stroke="#000" stroke-width="4.2" stroke-linecap="butt"/>
<circle cx="888" cy="907.7" r="4.4" fill="#fff" stroke="#000" stroke-width="4.1"/>
<circle cx="901.1" cy="909.5" r="4.4" fill="#fff" stroke="#000" stroke-width="4.1"/>
<circle cx="867.8" cy="922.8" r="4.4" fill="#fff" stroke="#000" stroke-width="4.1"/>
<circle cx="880.9" cy="928" r="4.4" fill="#fff" stroke="#000" stroke-width="4.1"/>
<circle cx="894" cy="933.5" r="4.4" fill="#fff" stroke="#000" stroke-width="4.1"/>
<circle cx="907.1" cy="932.9" r="4.4" fill="#fff" stroke="#000" stroke-width="4.1"/>
<circle cx="920.4" cy="926.7" r="4.4" fill="#fff" stroke="#000" stroke-width="4.1"/>
<line x1="894" y1="922.9" x2="894" y2="919.2" stroke="#000" stroke-width="4.2" stroke-linecap="butt"/>
<line x1="876" y1="919.2" x2="912" y2="919.2" stroke="#000" stroke-width="4.2" stroke-linecap="butt"/>
<circle cx="1031.4" cy="784.5" r="4.4" fill="#fff" stroke="#000" stroke-width="4.1"/>
<circle cx="1031.4" cy="827.7" r="4.4" fill="#fff" stroke="#000" stroke-width="4.1"/>
<circle cx="1005" cy="861" r="4.4" fill="#fff" stroke="#000" stroke-width="4.1"/>
<circle cx="1018.3" cy="863" r="4.4" fill="#fff" stroke="#000" stroke-width="4.1"/>
<circle cx="1031.4" cy="872.6" r="4.4" fill="#fff" stroke="#000" stroke-width="4.1"/>
<circle cx="1044.5" cy="871.1" r="4.4" fill="#fff" stroke="#000" stroke-width="4.1"/>
<circle cx="1057.6" cy="861.9" r="4.4" fill="#fff" stroke="#000" stroke-width="4.1"/>
<line x1="1031.6" y1="848.7" x2="1031.6" y2="836.6" stroke="#000" stroke-width="4.2" stroke-linecap="butt"/>
<line x1="1013.6" y1="836.6" x2="1049.6" y2="836.6" stroke="#000" stroke-width="4.2" stroke-linecap="butt"/>
<circle cx="1168.7" cy="891" r="4.4" fill="#fff" stroke="#000" stroke-width="4.1"/>
<circle cx="1142.3" cy="927" r="4.4" fill="#fff" stroke="#000" stroke-width="4.1"/>
<circle cx="1155.4" cy="931.6" r="4.4" fill="#fff" stroke="#000" stroke-width="4.1"/>
<circle cx="1168.7" cy="937.6" r="4.4" fill="#fff" stroke="#000" stroke-width="4.1"/>
<circle cx="1181.6" cy="932.9" r="4.4" fill="#fff" stroke="#000" stroke-width="4.1"/>
<circle cx="1194.9" cy="931.3" r="4.4" fill="#fff" stroke="#000" stroke-width="4.1"/>
<line x1="1168.7" y1="925" x2="1168.7" y2="908" stroke="#000" stroke-width="4.2" stroke-linecap="butt"/>
<line x1="1150.7" y1="908" x2="1186.7" y2="908" stroke="#000" stroke-width="4.2" stroke-linecap="butt"/>
<circle cx="1299.4" cy="822.4" r="4.4" fill="#fff" stroke="#000" stroke-width="4.1"/>
<circle cx="1318.9" cy="833.8" r="4.4" fill="#fff" stroke="#000" stroke-width="4.1"/>
<circle cx="1312.5" cy="842.1" r="4.4" fill="#fff" stroke="#000" stroke-width="4.1"/>
<circle cx="1299.4" cy="850.8" r="4.4" fill="#fff" stroke="#000" stroke-width="4.1"/>
<circle cx="1299.4" cy="868.3" r="4.4" fill="#fff" stroke="#000" stroke-width="4.1"/>
<circle cx="1312.5" cy="870.2" r="4.4" fill="#fff" stroke="#000" stroke-width="4.1"/>
<circle cx="1305.8" cy="885.1" r="4.4" fill="#fff" stroke="#000" stroke-width="4.1"/>
<line x1="1306" y1="853" x2="1306" y2="844.9" stroke="#000" stroke-width="4.2" stroke-linecap="butt"/>
<line x1="1288" y1="844.9" x2="1324" y2="844.9" stroke="#000" stroke-width="4.2" stroke-linecap="butt"/>
<text x="750" y="897.5" font-size="32" font-weight="bold" font-style="normal" text-anchor="middle" transform="rotate(-90 750 897.5)" letter-spacing="0.8" class="b">RV/(LV+septum)</text>
<text x="891" y="1121.5" font-size="27.7" font-weight="bold" font-style="normal" text-anchor="middle" class="b">Normoxia</text>
<text x="1030.5" y="1121.5" font-size="27.7" font-weight="bold" font-style="normal" text-anchor="middle" class="b">Hypoxia</text>
<text x="1176" y="1121.5" font-size="27.7" font-weight="bold" font-style="normal" text-anchor="middle" class="b">Normoxia</text>
<text x="1316" y="1121.5" font-size="27.7" font-weight="bold" font-style="normal" text-anchor="middle" class="b">Hypoxia</text>
<line x1="855" y1="1146" x2="1067.5" y2="1146" stroke="#000" stroke-width="4" stroke-linecap="butt"/>
<line x1="855.9" y1="1139.2" x2="855.9" y2="1152.8" stroke="#000" stroke-width="2.4" stroke-linecap="butt"/>
<line x1="1066.6" y1="1139.2" x2="1066.6" y2="1152.8" stroke="#000" stroke-width="2.4" stroke-linecap="butt"/>
<line x1="1136.5" y1="1146" x2="1349" y2="1146" stroke="#000" stroke-width="4" stroke-linecap="butt"/>
<line x1="1137.4" y1="1139.2" x2="1137.4" y2="1152.8" stroke="#000" stroke-width="2.4" stroke-linecap="butt"/>
<line x1="1348.1" y1="1139.2" x2="1348.1" y2="1152.8" stroke="#000" stroke-width="2.4" stroke-linecap="butt"/>
<text x="970.5" y="1189.8" font-size="29" font-weight="bold" font-style="normal" text-anchor="middle" class="b">WT</text>
<text class="b" x="1242.5" y="1189.8" font-size="29" font-weight="bold" font-style="italic" text-anchor="middle">Noxo1<tspan font-size="19" dy="-8.5" dx="1" stroke="none" font-style="normal">-/-</tspan></text>
<line x1="892.25" y1="663.5" x2="1151.5" y2="663.5" stroke="#000" stroke-width="4" stroke-linecap="butt"/>
<line x1="893.15" y1="656.7" x2="893.15" y2="670.3" stroke="#000" stroke-width="2.4" stroke-linecap="butt"/>
<line x1="1150.6" y1="656.7" x2="1150.6" y2="670.3" stroke="#000" stroke-width="2.4" stroke-linecap="butt"/>
<text class="r" x="1021.7" y="653" font-size="29" font-weight="normal" text-anchor="middle" xml:space="preserve"><tspan font-style="italic">P</tspan> = 0.76 (NS)</text>
<line x1="1168.5" y1="663.5" x2="1301.5" y2="663.5" stroke="#000" stroke-width="4" stroke-linecap="butt"/>
<line x1="1169.4" y1="656.7" x2="1169.4" y2="670.3" stroke="#000" stroke-width="2.4" stroke-linecap="butt"/>
<line x1="1300.6" y1="656.7" x2="1300.6" y2="670.3" stroke="#000" stroke-width="2.4" stroke-linecap="butt"/>
<text class="r" x="1238" y="653" font-size="29" font-weight="normal" text-anchor="middle" xml:space="preserve"><tspan font-style="italic">P</tspan> &lt; 0.0001</text>
<line x1="892.25" y1="724" x2="1024.25" y2="724" stroke="#000" stroke-width="4" stroke-linecap="butt"/>
<line x1="893.15" y1="717.2" x2="893.15" y2="730.8" stroke="#000" stroke-width="2.4" stroke-linecap="butt"/>
<line x1="1023.35" y1="717.2" x2="1023.35" y2="730.8" stroke="#000" stroke-width="2.4" stroke-linecap="butt"/>
<text class="r" x="955" y="714.5" font-size="29" font-weight="normal" text-anchor="middle" xml:space="preserve"><tspan font-style="italic">P</tspan> &lt; 0.0001</text>
<line x1="1042.5" y1="724" x2="1301.5" y2="724" stroke="#000" stroke-width="4" stroke-linecap="butt"/>
<line x1="1043.4" y1="717.2" x2="1043.4" y2="730.8" stroke="#000" stroke-width="2.4" stroke-linecap="butt"/>
<line x1="1300.6" y1="717.2" x2="1300.6" y2="730.8" stroke="#000" stroke-width="2.4" stroke-linecap="butt"/>
<text class="r" x="1180.7" y="714.5" font-size="29" font-weight="normal" text-anchor="middle" xml:space="preserve"><tspan font-style="italic">P</tspan> = 0.78 (NS)</text>
<rect x="1570.5" y="826" width="72" height="261" fill="#fff" stroke="#000" stroke-width="4" stroke-linejoin="round"/>
<rect x="1566.5" y="966" width="80" height="21.75" fill="#fff"/>
<rect x="1708" y="819.1" width="71.6" height="267.9" fill="#333" stroke="#000" stroke-width="4" stroke-linejoin="round"/>
<rect x="1704" y="966" width="79.6" height="21.75" fill="#fff"/>
<rect x="1845.1" y="792.2" width="71.9" height="294.8" fill="#fff" stroke="#000" stroke-width="4" stroke-linejoin="round"/>
<rect x="1841.1" y="966" width="79.9" height="21.75" fill="#fff"/>
<rect x="1982.3" y="819.1" width="71.8" height="267.9" fill="#333" stroke="#000" stroke-width="4" stroke-linejoin="round"/>
<rect x="1978.3" y="966" width="79.8" height="21.75" fill="#fff"/>
<line x1="1538" y1="718.9" x2="1538" y2="968.1" stroke="#000" stroke-width="4.2" stroke-linecap="butt"/>
<line x1="1538" y1="985.65" x2="1538" y2="1089.1" stroke="#000" stroke-width="4.2" stroke-linecap="butt"/>
<line x1="1529.9" y1="966" x2="1545.6" y2="966" stroke="#000" stroke-width="4.2" stroke-linecap="butt"/>
<line x1="1529.9" y1="987.75" x2="1545.6" y2="987.75" stroke="#000" stroke-width="4.2" stroke-linecap="butt"/>
<line x1="1529.9" y1="721" x2="1538" y2="721" stroke="#000" stroke-width="4.2" stroke-linecap="butt"/>
<text x="1526.4" y="730.85" font-size="27.5" font-weight="bold" font-style="normal" text-anchor="end" class="b">90</text>
<line x1="1529.9" y1="770.25" x2="1538" y2="770.25" stroke="#000" stroke-width="4.2" stroke-linecap="butt"/>
<text x="1526.4" y="780.1" font-size="27.5" font-weight="bold" font-style="normal" text-anchor="end" class="b">80</text>
<line x1="1529.9" y1="819.25" x2="1538" y2="819.25" stroke="#000" stroke-width="4.2" stroke-linecap="butt"/>
<text x="1526.4" y="829.1" font-size="27.5" font-weight="bold" font-style="normal" text-anchor="end" class="b">70</text>
<line x1="1529.9" y1="867.75" x2="1538" y2="867.75" stroke="#000" stroke-width="4.2" stroke-linecap="butt"/>
<text x="1526.4" y="877.6" font-size="27.5" font-weight="bold" font-style="normal" text-anchor="end" class="b">60</text>
<line x1="1529.9" y1="917.25" x2="1538" y2="917.25" stroke="#000" stroke-width="4.2" stroke-linecap="butt"/>
<text x="1526.4" y="927.1" font-size="27.5" font-weight="bold" font-style="normal" text-anchor="end" class="b">50</text>
<line x1="1529.9" y1="966" x2="1538" y2="966" stroke="#000" stroke-width="4.2" stroke-linecap="butt"/>
<text x="1526.4" y="975.85" font-size="27.5" font-weight="bold" font-style="normal" text-anchor="end" class="b">40</text>
<line x1="1529.9" y1="1087" x2="1538" y2="1087" stroke="#000" stroke-width="4.2" stroke-linecap="butt"/>
<text x="1526.4" y="1096.85" font-size="27.5" font-weight="bold" font-style="normal" text-anchor="end" class="b">0</text>
<line x1="1529.9" y1="1087" x2="2088.75" y2="1087" stroke="#000" stroke-width="4.2" stroke-linecap="butt"/>
<line x1="1606" y1="1087" x2="1606" y2="1095.1" stroke="#000" stroke-width="4.2" stroke-linecap="butt"/>
<line x1="1743.5" y1="1087" x2="1743.5" y2="1095.1" stroke="#000" stroke-width="4.2" stroke-linecap="butt"/>
<line x1="1880.5" y1="1087" x2="1880.5" y2="1095.1" stroke="#000" stroke-width="4.2" stroke-linecap="butt"/>
<line x1="2018" y1="1087" x2="2018" y2="1095.1" stroke="#000" stroke-width="4.2" stroke-linecap="butt"/>
<circle cx="1606.5" cy="797.6" r="4.4" fill="#fff" stroke="#000" stroke-width="4.1"/>
<circle cx="1586.9" cy="815.7" r="4.4" fill="#fff" stroke="#000" stroke-width="4.1"/>
<circle cx="1626.2" cy="811.1" r="4.4" fill="#fff" stroke="#000" stroke-width="4.1"/>
<circle cx="1599.8" cy="820.7" r="4.4" fill="#fff" stroke="#000" stroke-width="4.1"/>
<circle cx="1612.9" cy="820.3" r="4.4" fill="#fff" stroke="#000" stroke-width="4.1"/>
<circle cx="1606.5" cy="847.1" r="4.4" fill="#fff" stroke="#000" stroke-width="4.1"/>
<circle cx="1606.5" cy="867.4" r="4.4" fill="#fff" stroke="#000" stroke-width="4.1"/>
<line x1="1606.5" y1="826" x2="1606.5" y2="816.6" stroke="#000" stroke-width="4.2" stroke-linecap="butt"/>
<line x1="1588.5" y1="816.6" x2="1624.5" y2="816.6" stroke="#000" stroke-width="4.2" stroke-linecap="butt"/>
<circle cx="1743.6" cy="758.5" r="4.4" fill="#fff" stroke="#000" stroke-width="4.1"/>
<circle cx="1743.6" cy="779.3" r="4.4" fill="#fff" stroke="#000" stroke-width="4.1"/>
<circle cx="1743.6" cy="798.7" r="4.4" fill="#fff" stroke="#000" stroke-width="4.1"/>
<circle cx="1737.2" cy="815.1" r="4.4" fill="#fff" stroke="#000" stroke-width="4.1"/>
<circle cx="1750.6" cy="813.8" r="4.4" fill="#fff" stroke="#000" stroke-width="4.1"/>
<circle cx="1743.6" cy="845.2" r="4.4" fill="#fff" stroke="#000" stroke-width="4.1"/>
<circle cx="1743.6" cy="919" r="4.4" fill="#fff" stroke="#000" stroke-width="4.1"/>
<line x1="1743.6" y1="819.1" x2="1743.6" y2="798.7" stroke="#000" stroke-width="4.2" stroke-linecap="butt"/>
<line x1="1725.6" y1="798.7" x2="1761.6" y2="798.7" stroke="#000" stroke-width="4.2" stroke-linecap="butt"/>
<circle cx="1881" cy="765.3" r="4.4" fill="#fff" stroke="#000" stroke-width="4.1"/>
<circle cx="1874.3" cy="781" r="4.4" fill="#fff" stroke="#000" stroke-width="4.1"/>
<circle cx="1887.6" cy="777.8" r="4.4" fill="#fff" stroke="#000" stroke-width="4.1"/>
<circle cx="1881" cy="799.4" r="4.4" fill="#fff" stroke="#000" stroke-width="4.1"/>
<circle cx="1874.3" cy="817.5" r="4.4" fill="#fff" stroke="#000" stroke-width="4.1"/>
<circle cx="1887.2" cy="815.1" r="4.4" fill="#fff" stroke="#000" stroke-width="4.1"/>
<line x1="1881" y1="792.2" x2="1881" y2="771" stroke="#000" stroke-width="4.2" stroke-linecap="butt"/>
<line x1="1863" y1="771" x2="1899" y2="771" stroke="#000" stroke-width="4.2" stroke-linecap="butt"/>
<circle cx="2018.1" cy="793" r="4.4" fill="#fff" stroke="#000" stroke-width="4.1"/>
<circle cx="2005" cy="801.5" r="4.4" fill="#fff" stroke="#000" stroke-width="4.1"/>
<circle cx="2031.2" cy="808.7" r="4.4" fill="#fff" stroke="#000" stroke-width="4.1"/>
<circle cx="2018.1" cy="812.4" r="4.4" fill="#fff" stroke="#000" stroke-width="4.1"/>
<circle cx="2018.1" cy="831.4" r="4.4" fill="#fff" stroke="#000" stroke-width="4.1"/>
<circle cx="2018.1" cy="865.9" r="4.4" fill="#fff" stroke="#000" stroke-width="4.1"/>
<line x1="2018" y1="819.1" x2="2018" y2="807.9" stroke="#000" stroke-width="4.2" stroke-linecap="butt"/>
<line x1="2000" y1="807.9" x2="2036" y2="807.9" stroke="#000" stroke-width="4.2" stroke-linecap="butt"/>
<circle cx="1743.6" cy="798.7" r="6.3" fill="#000"/>
<circle cx="2018.1" cy="812.4" r="6.3" fill="#000"/>
<text x="1439" y="915.5" font-size="30" font-weight="bold" font-style="normal" text-anchor="middle" transform="rotate(-90 1439 915.5)" letter-spacing="0.2" class="b">Systemic arterial</text>
<text x="1473" y="915.3" font-size="30" font-weight="bold" font-style="normal" text-anchor="middle" transform="rotate(-90 1473 915.3)" class="b">pressure (mmHg)</text>
<text x="1602" y="1121.5" font-size="27.7" font-weight="bold" font-style="normal" text-anchor="middle" class="b">Normoxia</text>
<text x="1741.5" y="1121.5" font-size="27.7" font-weight="bold" font-style="normal" text-anchor="middle" class="b">Hypoxia</text>
<text x="1887.5" y="1121.5" font-size="27.7" font-weight="bold" font-style="normal" text-anchor="middle" class="b">Normoxia</text>
<text x="2027" y="1121.5" font-size="27.7" font-weight="bold" font-style="normal" text-anchor="middle" class="b">Hypoxia</text>
<line x1="1571" y1="1146" x2="1783.5" y2="1146" stroke="#000" stroke-width="4" stroke-linecap="butt"/>
<line x1="1571.9" y1="1139.2" x2="1571.9" y2="1152.8" stroke="#000" stroke-width="2.4" stroke-linecap="butt"/>
<line x1="1782.6" y1="1139.2" x2="1782.6" y2="1152.8" stroke="#000" stroke-width="2.4" stroke-linecap="butt"/>
<line x1="1844.75" y1="1146" x2="2057.25" y2="1146" stroke="#000" stroke-width="4" stroke-linecap="butt"/>
<line x1="1845.65" y1="1139.2" x2="1845.65" y2="1152.8" stroke="#000" stroke-width="2.4" stroke-linecap="butt"/>
<line x1="2056.35" y1="1139.2" x2="2056.35" y2="1152.8" stroke="#000" stroke-width="2.4" stroke-linecap="butt"/>
<text x="1683" y="1189.8" font-size="29" font-weight="bold" font-style="normal" text-anchor="middle" class="b">WT</text>
<text class="b" x="1959.75" y="1189.8" font-size="29" font-weight="bold" font-style="italic" text-anchor="middle">Noxo1<tspan font-size="19" dy="-8.5" dx="1" stroke="none" font-style="normal">-/-</tspan></text>
<line x1="1604.25" y1="663.5" x2="1863.75" y2="663.5" stroke="#000" stroke-width="4" stroke-linecap="butt"/>
<line x1="1605.15" y1="656.7" x2="1605.15" y2="670.3" stroke="#000" stroke-width="2.4" stroke-linecap="butt"/>
<line x1="1862.85" y1="656.7" x2="1862.85" y2="670.3" stroke="#000" stroke-width="2.4" stroke-linecap="butt"/>
<text class="r" x="1733.7" y="653" font-size="29" font-weight="normal" text-anchor="middle" xml:space="preserve"><tspan font-style="italic">P</tspan> = 0.32 (NS)</text>
<line x1="1880.5" y1="663.5" x2="2013.75" y2="663.5" stroke="#000" stroke-width="4" stroke-linecap="butt"/>
<line x1="1881.4" y1="656.7" x2="1881.4" y2="670.3" stroke="#000" stroke-width="2.4" stroke-linecap="butt"/>
<line x1="2012.85" y1="656.7" x2="2012.85" y2="670.3" stroke="#000" stroke-width="2.4" stroke-linecap="butt"/>
<text class="r" x="1973" y="653" font-size="29" font-weight="normal" text-anchor="middle" xml:space="preserve"><tspan font-style="italic">P</tspan> = 0.39 (NS)</text>
<line x1="1604.25" y1="724" x2="1737.5" y2="724" stroke="#000" stroke-width="4" stroke-linecap="butt"/>
<line x1="1605.15" y1="717.2" x2="1605.15" y2="730.8" stroke="#000" stroke-width="2.4" stroke-linecap="butt"/>
<line x1="1736.6" y1="717.2" x2="1736.6" y2="730.8" stroke="#000" stroke-width="2.4" stroke-linecap="butt"/>
<text class="r" x="1669.7" y="714.5" font-size="29" font-weight="normal" text-anchor="middle" xml:space="preserve"><tspan font-style="italic">P</tspan> = 0.99 (NS)</text>
<line x1="1754.75" y1="724" x2="2013.75" y2="724" stroke="#000" stroke-width="4" stroke-linecap="butt"/>
<line x1="1755.65" y1="717.2" x2="1755.65" y2="730.8" stroke="#000" stroke-width="2.4" stroke-linecap="butt"/>
<line x1="2012.85" y1="717.2" x2="2012.85" y2="730.8" stroke="#000" stroke-width="2.4" stroke-linecap="butt"/>
<text class="r" x="1892.4" y="714.5" font-size="29" font-weight="normal" text-anchor="middle" xml:space="preserve"><tspan font-style="italic">P</tspan> = 0.99 (NS)</text>
</svg>
</body>
</html>
